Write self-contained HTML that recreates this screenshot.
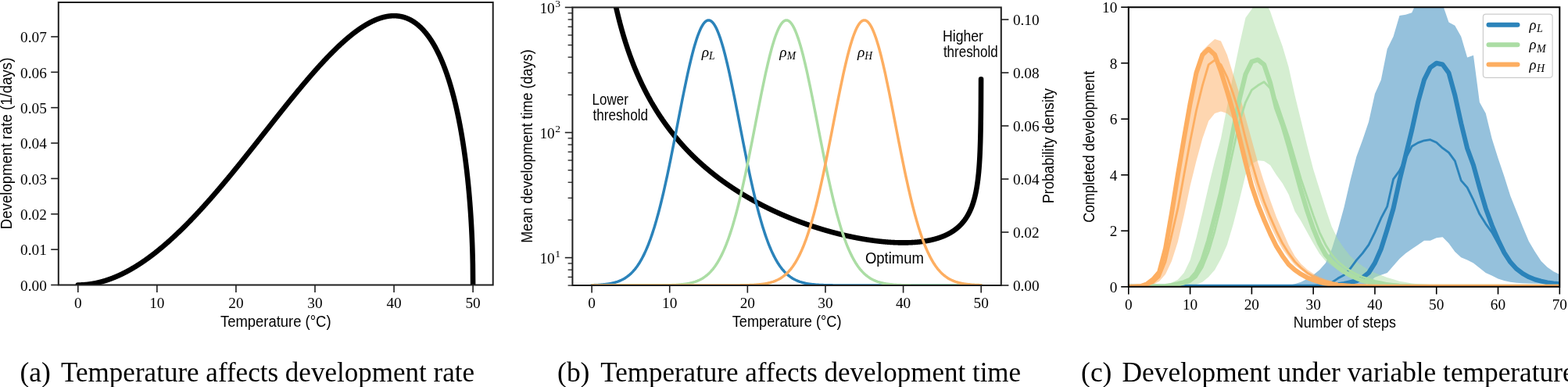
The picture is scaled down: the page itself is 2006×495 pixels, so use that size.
<!DOCTYPE html>
<html><head><meta charset="utf-8"><title>Figure</title>
<style>html,body{margin:0;padding:0;background:#fff;overflow:hidden}svg{display:block}</style></head>
<body><svg width="2006" height="495" viewBox="0 0 2006 495">
<rect width="2006" height="495" fill="#fff"/>
<clipPath id="ca"><rect x="74.80" y="3.00" width="555.90" height="361.50"/></clipPath>
<path clip-path="url(#ca)" d="M99.80,364.50 L100.05,364.50 L100.31,364.50 L100.56,364.50 L100.81,364.50 L101.06,364.49 L101.32,364.49 L101.57,364.49 L101.82,364.48 L102.07,364.48 L102.33,364.47 L102.58,364.46 L102.83,364.46 L103.08,364.45 L103.34,364.44 L103.59,364.43 L103.84,364.42 L104.10,364.41 L104.35,364.40 L104.60,364.39 L104.85,364.38 L105.11,364.37 L105.36,364.36 L105.61,364.34 L105.86,364.33 L106.12,364.31 L106.37,364.30 L106.62,364.28 L106.87,364.27 L107.13,364.25 L107.38,364.23 L107.63,364.21 L107.88,364.19 L108.14,364.18 L108.39,364.16 L108.64,364.13 L108.90,364.11 L109.15,364.09 L109.40,364.07 L109.65,364.05 L109.91,364.02 L110.16,364.00 L110.41,363.98 L110.66,363.95 L110.92,363.92 L111.17,363.90 L111.42,363.87 L111.67,363.84 L111.93,363.82 L112.18,363.79 L112.43,363.76 L112.69,363.73 L112.94,363.70 L113.19,363.67 L113.44,363.64 L113.70,363.60 L113.95,363.57 L114.20,363.54 L114.45,363.50 L114.71,363.47 L114.96,363.43 L115.21,363.40 L115.46,363.36 L115.72,363.33 L115.97,363.29 L116.22,363.25 L116.47,363.21 L116.73,363.17 L116.98,363.13 L117.23,363.09 L117.49,363.05 L117.74,363.01 L117.99,362.97 L118.24,362.93 L118.50,362.88 L118.75,362.84 L119.00,362.80 L119.25,362.75 L119.51,362.71 L119.76,362.66 L120.01,362.61 L120.26,362.57 L120.52,362.52 L120.77,362.47 L121.02,362.42 L121.28,362.37 L121.53,362.32 L121.78,362.27 L122.03,362.22 L122.29,362.17 L122.54,362.12 L122.79,362.07 L123.04,362.01 L123.30,361.96 L123.55,361.91 L123.80,361.85 L124.05,361.80 L124.31,361.74 L124.56,361.68 L124.81,361.63 L125.06,361.57 L125.32,361.51 L125.57,361.45 L125.82,361.39 L126.08,361.33 L126.33,361.27 L126.58,361.21 L126.83,361.15 L127.09,361.09 L127.34,361.03 L127.59,360.96 L127.84,360.90 L128.10,360.83 L128.35,360.77 L128.60,360.70 L128.85,360.64 L129.11,360.57 L129.36,360.51 L129.61,360.44 L129.87,360.37 L130.12,360.30 L130.37,360.23 L130.62,360.16 L130.88,360.09 L131.13,360.02 L131.38,359.95 L131.63,359.88 L131.89,359.81 L132.14,359.73 L132.39,359.66 L132.64,359.59 L132.90,359.51 L133.15,359.44 L133.40,359.36 L133.66,359.28 L133.91,359.21 L134.16,359.13 L134.41,359.05 L134.67,358.97 L134.92,358.90 L135.17,358.82 L135.42,358.74 L135.68,358.66 L135.93,358.57 L136.18,358.49 L136.43,358.41 L136.69,358.33 L136.94,358.25 L137.19,358.16 L137.44,358.08 L137.70,357.99 L137.95,357.91 L138.20,357.82 L138.46,357.74 L138.71,357.65 L138.96,357.56 L139.21,357.47 L139.47,357.38 L139.72,357.30 L139.97,357.21 L140.22,357.12 L140.48,357.03 L140.73,356.93 L140.98,356.84 L141.23,356.75 L141.49,356.66 L141.74,356.56 L141.99,356.47 L142.25,356.38 L142.50,356.28 L142.75,356.19 L143.00,356.09 L143.26,355.99 L143.51,355.90 L143.76,355.80 L144.01,355.70 L144.27,355.60 L144.52,355.51 L144.77,355.41 L145.02,355.31 L145.28,355.21 L145.53,355.10 L145.78,355.00 L146.03,354.90 L146.29,354.80 L146.54,354.70 L146.79,354.59 L147.05,354.49 L147.30,354.38 L147.55,354.28 L147.80,354.17 L148.06,354.07 L148.31,353.96 L148.56,353.85 L148.81,353.75 L149.07,353.64 L149.32,353.53 L149.57,353.42 L149.82,353.31 L150.08,353.20 L150.33,353.09 L150.58,352.98 L150.84,352.87 L151.09,352.75 L151.34,352.64 L151.59,352.53 L151.85,352.41 L152.10,352.30 L152.35,352.18 L152.60,352.07 L152.86,351.95 L153.11,351.84 L153.36,351.72 L153.61,351.60 L153.87,351.49 L154.12,351.37 L154.37,351.25 L154.63,351.13 L154.88,351.01 L155.13,350.89 L155.38,350.77 L155.64,350.65 L155.89,350.53 L156.14,350.40 L156.39,350.28 L156.65,350.16 L156.90,350.03 L157.15,349.91 L157.40,349.79 L157.66,349.66 L157.91,349.53 L158.16,349.41 L158.41,349.28 L158.67,349.15 L158.92,349.03 L159.17,348.90 L159.43,348.77 L159.68,348.64 L159.93,348.51 L160.18,348.38 L160.44,348.25 L160.69,348.12 L160.94,347.99 L161.19,347.86 L161.45,347.72 L161.70,347.59 L161.95,347.46 L162.20,347.32 L162.46,347.19 L162.71,347.05 L162.96,346.92 L163.22,346.78 L163.47,346.65 L163.72,346.51 L163.97,346.37 L164.23,346.23 L164.48,346.10 L164.73,345.96 L164.98,345.82 L165.24,345.68 L165.49,345.54 L165.74,345.40 L165.99,345.26 L166.25,345.12 L166.50,344.97 L166.75,344.83 L167.00,344.69 L167.26,344.54 L167.51,344.40 L167.76,344.26 L168.02,344.11 L168.27,343.97 L168.52,343.82 L168.77,343.67 L169.03,343.53 L169.28,343.38 L169.53,343.23 L169.78,343.08 L170.04,342.93 L170.29,342.79 L170.54,342.64 L170.79,342.49 L171.05,342.34 L171.30,342.18 L171.55,342.03 L171.81,341.88 L172.06,341.73 L172.31,341.58 L172.56,341.42 L172.82,341.27 L173.07,341.11 L173.32,340.96 L173.57,340.81 L173.83,340.65 L174.08,340.49 L174.33,340.34 L174.58,340.18 L174.84,340.02 L175.09,339.86 L175.34,339.71 L175.59,339.55 L175.85,339.39 L176.10,339.23 L176.35,339.07 L176.61,338.91 L176.86,338.75 L177.11,338.59 L177.36,338.42 L177.62,338.26 L177.87,338.10 L178.12,337.93 L178.37,337.77 L178.63,337.61 L178.88,337.44 L179.13,337.28 L179.38,337.11 L179.64,336.95 L179.89,336.78 L180.14,336.61 L180.40,336.44 L180.65,336.28 L180.90,336.11 L181.15,335.94 L181.41,335.77 L181.66,335.60 L181.91,335.43 L182.16,335.26 L182.42,335.09 L182.67,334.92 L182.92,334.75 L183.17,334.58 L183.43,334.40 L183.68,334.23 L183.93,334.06 L184.19,333.88 L184.44,333.71 L184.69,333.53 L184.94,333.36 L185.20,333.18 L185.45,333.01 L185.70,332.83 L185.95,332.65 L186.21,332.47 L186.46,332.30 L186.71,332.12 L186.96,331.94 L187.22,331.76 L187.47,331.58 L187.72,331.40 L187.97,331.22 L188.23,331.04 L188.48,330.86 L188.73,330.68 L188.99,330.50 L189.24,330.31 L189.49,330.13 L189.74,329.95 L190.00,329.76 L190.25,329.58 L190.50,329.39 L190.75,329.21 L191.01,329.02 L191.26,328.84 L191.51,328.65 L191.76,328.46 L192.02,328.28 L192.27,328.09 L192.52,327.90 L192.78,327.71 L193.03,327.52 L193.28,327.33 L193.53,327.14 L193.79,326.95 L194.04,326.76 L194.29,326.57 L194.54,326.38 L194.80,326.19 L195.05,326.00 L195.30,325.81 L195.55,325.61 L195.81,325.42 L196.06,325.22 L196.31,325.03 L196.56,324.84 L196.82,324.64 L197.07,324.45 L197.32,324.25 L197.58,324.05 L197.83,323.86 L198.08,323.66 L198.33,323.46 L198.59,323.26 L198.84,323.07 L199.09,322.87 L199.34,322.67 L199.60,322.47 L199.85,322.27 L200.10,322.07 L200.35,321.87 L200.61,321.67 L200.86,321.46 L201.11,321.26 L201.37,321.06 L201.62,320.86 L201.87,320.65 L202.12,320.45 L202.38,320.25 L202.63,320.04 L202.88,319.84 L203.13,319.63 L203.39,319.43 L203.64,319.22 L203.89,319.02 L204.14,318.81 L204.40,318.60 L204.65,318.39 L204.90,318.19 L205.16,317.98 L205.41,317.77 L205.66,317.56 L205.91,317.35 L206.17,317.14 L206.42,316.93 L206.67,316.72 L206.92,316.51 L207.18,316.30 L207.43,316.09 L207.68,315.87 L207.93,315.66 L208.19,315.45 L208.44,315.24 L208.69,315.02 L208.94,314.81 L209.20,314.59 L209.45,314.38 L209.70,314.16 L209.96,313.95 L210.21,313.73 L210.46,313.52 L210.71,313.30 L210.97,313.08 L211.22,312.86 L211.47,312.65 L211.72,312.43 L211.98,312.21 L212.23,311.99 L212.48,311.77 L212.73,311.55 L212.99,311.33 L213.24,311.11 L213.49,310.89 L213.75,310.67 L214.00,310.45 L214.25,310.23 L214.50,310.00 L214.76,309.78 L215.01,309.56 L215.26,309.34 L215.51,309.11 L215.77,308.89 L216.02,308.66 L216.27,308.44 L216.52,308.21 L216.78,307.99 L217.03,307.76 L217.28,307.54 L217.53,307.31 L217.79,307.08 L218.04,306.85 L218.29,306.63 L218.55,306.40 L218.80,306.17 L219.05,305.94 L219.30,305.71 L219.56,305.48 L219.81,305.25 L220.06,305.02 L220.31,304.79 L220.57,304.56 L220.82,304.33 L221.07,304.10 L221.32,303.87 L221.58,303.63 L221.83,303.40 L222.08,303.17 L222.34,302.93 L222.59,302.70 L222.84,302.47 L223.09,302.23 L223.35,302.00 L223.60,301.76 L223.85,301.53 L224.10,301.29 L224.36,301.06 L224.61,300.82 L224.86,300.58 L225.11,300.34 L225.37,300.11 L225.62,299.87 L225.87,299.63 L226.12,299.39 L226.38,299.15 L226.63,298.91 L226.88,298.67 L227.14,298.43 L227.39,298.19 L227.64,297.95 L227.89,297.71 L228.15,297.47 L228.40,297.23 L228.65,296.99 L228.90,296.75 L229.16,296.50 L229.41,296.26 L229.66,296.02 L229.91,295.77 L230.17,295.53 L230.42,295.29 L230.67,295.04 L230.93,294.80 L231.18,294.55 L231.43,294.31 L231.68,294.06 L231.94,293.81 L232.19,293.57 L232.44,293.32 L232.69,293.07 L232.95,292.82 L233.20,292.58 L233.45,292.33 L233.70,292.08 L233.96,291.83 L234.21,291.58 L234.46,291.33 L234.72,291.08 L234.97,290.83 L235.22,290.58 L235.47,290.33 L235.73,290.08 L235.98,289.83 L236.23,289.58 L236.48,289.33 L236.74,289.07 L236.99,288.82 L237.24,288.57 L237.49,288.31 L237.75,288.06 L238.00,287.81 L238.25,287.55 L238.50,287.30 L238.76,287.04 L239.01,286.79 L239.26,286.53 L239.52,286.28 L239.77,286.02 L240.02,285.77 L240.27,285.51 L240.53,285.25 L240.78,284.99 L241.03,284.74 L241.28,284.48 L241.54,284.22 L241.79,283.96 L242.04,283.70 L242.29,283.44 L242.55,283.19 L242.80,282.93 L243.05,282.67 L243.31,282.41 L243.56,282.14 L243.81,281.88 L244.06,281.62 L244.32,281.36 L244.57,281.10 L244.82,280.84 L245.07,280.58 L245.33,280.31 L245.58,280.05 L245.83,279.79 L246.08,279.52 L246.34,279.26 L246.59,279.00 L246.84,278.73 L247.09,278.47 L247.35,278.20 L247.60,277.94 L247.85,277.67 L248.11,277.41 L248.36,277.14 L248.61,276.87 L248.86,276.61 L249.12,276.34 L249.37,276.07 L249.62,275.80 L249.87,275.54 L250.13,275.27 L250.38,275.00 L250.63,274.73 L250.88,274.46 L251.14,274.19 L251.39,273.92 L251.64,273.65 L251.90,273.38 L252.15,273.11 L252.40,272.84 L252.65,272.57 L252.91,272.30 L253.16,272.03 L253.41,271.76 L253.66,271.49 L253.92,271.21 L254.17,270.94 L254.42,270.67 L254.67,270.40 L254.93,270.12 L255.18,269.85 L255.43,269.58 L255.69,269.30 L255.94,269.03 L256.19,268.75 L256.44,268.48 L256.70,268.20 L256.95,267.93 L257.20,267.65 L257.45,267.38 L257.71,267.10 L257.96,266.82 L258.21,266.55 L258.46,266.27 L258.72,265.99 L258.97,265.72 L259.22,265.44 L259.47,265.16 L259.73,264.88 L259.98,264.60 L260.23,264.32 L260.49,264.05 L260.74,263.77 L260.99,263.49 L261.24,263.21 L261.50,262.93 L261.75,262.65 L262.00,262.37 L262.25,262.09 L262.51,261.81 L262.76,261.52 L263.01,261.24 L263.26,260.96 L263.52,260.68 L263.77,260.40 L264.02,260.11 L264.28,259.83 L264.53,259.55 L264.78,259.27 L265.03,258.98 L265.29,258.70 L265.54,258.42 L265.79,258.13 L266.04,257.85 L266.30,257.56 L266.55,257.28 L266.80,256.99 L267.05,256.71 L267.31,256.42 L267.56,256.14 L267.81,255.85 L268.06,255.56 L268.32,255.28 L268.57,254.99 L268.82,254.70 L269.08,254.42 L269.33,254.13 L269.58,253.84 L269.83,253.55 L270.09,253.27 L270.34,252.98 L270.59,252.69 L270.84,252.40 L271.10,252.11 L271.35,251.82 L271.60,251.53 L271.85,251.24 L272.11,250.95 L272.36,250.66 L272.61,250.37 L272.87,250.08 L273.12,249.79 L273.37,249.50 L273.62,249.21 L273.88,248.92 L274.13,248.63 L274.38,248.34 L274.63,248.04 L274.89,247.75 L275.14,247.46 L275.39,247.17 L275.64,246.87 L275.90,246.58 L276.15,246.29 L276.40,245.99 L276.65,245.70 L276.91,245.41 L277.16,245.11 L277.41,244.82 L277.67,244.52 L277.92,244.23 L278.17,243.93 L278.42,243.64 L278.68,243.34 L278.93,243.05 L279.18,242.75 L279.43,242.46 L279.69,242.16 L279.94,241.87 L280.19,241.57 L280.44,241.27 L280.70,240.98 L280.95,240.68 L281.20,240.38 L281.46,240.08 L281.71,239.79 L281.96,239.49 L282.21,239.19 L282.47,238.89 L282.72,238.59 L282.97,238.29 L283.22,238.00 L283.48,237.70 L283.73,237.40 L283.98,237.10 L284.23,236.80 L284.49,236.50 L284.74,236.20 L284.99,235.90 L285.25,235.60 L285.50,235.30 L285.75,235.00 L286.00,234.70 L286.26,234.40 L286.51,234.10 L286.76,233.79 L287.01,233.49 L287.27,233.19 L287.52,232.89 L287.77,232.59 L288.02,232.29 L288.28,231.98 L288.53,231.68 L288.78,231.38 L289.03,231.07 L289.29,230.77 L289.54,230.47 L289.79,230.17 L290.05,229.86 L290.30,229.56 L290.55,229.25 L290.80,228.95 L291.06,228.65 L291.31,228.34 L291.56,228.04 L291.81,227.73 L292.07,227.43 L292.32,227.12 L292.57,226.82 L292.82,226.51 L293.08,226.21 L293.33,225.90 L293.58,225.59 L293.84,225.29 L294.09,224.98 L294.34,224.68 L294.59,224.37 L294.85,224.06 L295.10,223.76 L295.35,223.45 L295.60,223.14 L295.86,222.84 L296.11,222.53 L296.36,222.22 L296.61,221.91 L296.87,221.61 L297.12,221.30 L297.37,220.99 L297.62,220.68 L297.88,220.37 L298.13,220.06 L298.38,219.76 L298.64,219.45 L298.89,219.14 L299.14,218.83 L299.39,218.52 L299.65,218.21 L299.90,217.90 L300.15,217.59 L300.40,217.28 L300.66,216.97 L300.91,216.66 L301.16,216.35 L301.41,216.04 L301.67,215.73 L301.92,215.42 L302.17,215.11 L302.43,214.80 L302.68,214.49 L302.93,214.18 L303.18,213.87 L303.44,213.56 L303.69,213.24 L303.94,212.93 L304.19,212.62 L304.45,212.31 L304.70,212.00 L304.95,211.68 L305.20,211.37 L305.46,211.06 L305.71,210.75 L305.96,210.44 L306.22,210.12 L306.47,209.81 L306.72,209.50 L306.97,209.18 L307.23,208.87 L307.48,208.56 L307.73,208.25 L307.98,207.93 L308.24,207.62 L308.49,207.30 L308.74,206.99 L308.99,206.68 L309.25,206.36 L309.50,206.05 L309.75,205.73 L310.00,205.42 L310.26,205.11 L310.51,204.79 L310.76,204.48 L311.02,204.16 L311.27,203.85 L311.52,203.53 L311.77,203.22 L312.03,202.90 L312.28,202.59 L312.53,202.27 L312.78,201.96 L313.04,201.64 L313.29,201.33 L313.54,201.01 L313.79,200.69 L314.05,200.38 L314.30,200.06 L314.55,199.75 L314.81,199.43 L315.06,199.12 L315.31,198.80 L315.56,198.48 L315.82,198.17 L316.07,197.85 L316.32,197.53 L316.57,197.22 L316.83,196.90 L317.08,196.58 L317.33,196.27 L317.58,195.95 L317.84,195.63 L318.09,195.31 L318.34,195.00 L318.59,194.68 L318.85,194.36 L319.10,194.05 L319.35,193.73 L319.61,193.41 L319.86,193.09 L320.11,192.78 L320.36,192.46 L320.62,192.14 L320.87,191.82 L321.12,191.50 L321.37,191.19 L321.63,190.87 L321.88,190.55 L322.13,190.23 L322.38,189.91 L322.64,189.59 L322.89,189.28 L323.14,188.96 L323.40,188.64 L323.65,188.32 L323.90,188.00 L324.15,187.68 L324.41,187.36 L324.66,187.05 L324.91,186.73 L325.16,186.41 L325.42,186.09 L325.67,185.77 L325.92,185.45 L326.17,185.13 L326.43,184.81 L326.68,184.49 L326.93,184.17 L327.19,183.85 L327.44,183.54 L327.69,183.22 L327.94,182.90 L328.20,182.58 L328.45,182.26 L328.70,181.94 L328.95,181.62 L329.21,181.30 L329.46,180.98 L329.71,180.66 L329.96,180.34 L330.22,180.02 L330.47,179.70 L330.72,179.38 L330.97,179.06 L331.23,178.74 L331.48,178.42 L331.73,178.10 L331.99,177.78 L332.24,177.46 L332.49,177.14 L332.74,176.82 L333.00,176.50 L333.25,176.18 L333.50,175.86 L333.75,175.54 L334.01,175.22 L334.26,174.90 L334.51,174.58 L334.76,174.26 L335.02,173.94 L335.27,173.62 L335.52,173.30 L335.78,172.98 L336.03,172.66 L336.28,172.34 L336.53,172.02 L336.79,171.70 L337.04,171.38 L337.29,171.06 L337.54,170.74 L337.80,170.42 L338.05,170.10 L338.30,169.78 L338.55,169.45 L338.81,169.13 L339.06,168.81 L339.31,168.49 L339.56,168.17 L339.82,167.85 L340.07,167.53 L340.32,167.21 L340.58,166.89 L340.83,166.57 L341.08,166.25 L341.33,165.93 L341.59,165.61 L341.84,165.29 L342.09,164.97 L342.34,164.65 L342.60,164.33 L342.85,164.01 L343.10,163.69 L343.35,163.37 L343.61,163.05 L343.86,162.73 L344.11,162.41 L344.37,162.09 L344.62,161.77 L344.87,161.45 L345.12,161.13 L345.38,160.81 L345.63,160.49 L345.88,160.17 L346.13,159.85 L346.39,159.53 L346.64,159.21 L346.89,158.89 L347.14,158.57 L347.40,158.25 L347.65,157.93 L347.90,157.61 L348.15,157.29 L348.41,156.97 L348.66,156.65 L348.91,156.33 L349.17,156.01 L349.42,155.69 L349.67,155.37 L349.92,155.05 L350.18,154.73 L350.43,154.41 L350.68,154.09 L350.93,153.77 L351.19,153.46 L351.44,153.14 L351.69,152.82 L351.94,152.50 L352.20,152.18 L352.45,151.86 L352.70,151.54 L352.96,151.22 L353.21,150.90 L353.46,150.58 L353.71,150.27 L353.97,149.95 L354.22,149.63 L354.47,149.31 L354.72,148.99 L354.98,148.67 L355.23,148.35 L355.48,148.04 L355.73,147.72 L355.99,147.40 L356.24,147.08 L356.49,146.76 L356.75,146.45 L357.00,146.13 L357.25,145.81 L357.50,145.49 L357.76,145.17 L358.01,144.86 L358.26,144.54 L358.51,144.22 L358.77,143.90 L359.02,143.59 L359.27,143.27 L359.52,142.95 L359.78,142.64 L360.03,142.32 L360.28,142.00 L360.53,141.69 L360.79,141.37 L361.04,141.05 L361.29,140.74 L361.55,140.42 L361.80,140.10 L362.05,139.79 L362.30,139.47 L362.56,139.15 L362.81,138.84 L363.06,138.52 L363.31,138.21 L363.57,137.89 L363.82,137.58 L364.07,137.26 L364.32,136.95 L364.58,136.63 L364.83,136.32 L365.08,136.00 L365.34,135.69 L365.59,135.37 L365.84,135.06 L366.09,134.74 L366.35,134.43 L366.60,134.11 L366.85,133.80 L367.10,133.48 L367.36,133.17 L367.61,132.86 L367.86,132.54 L368.11,132.23 L368.37,131.91 L368.62,131.60 L368.87,131.29 L369.12,130.97 L369.38,130.66 L369.63,130.35 L369.88,130.04 L370.14,129.72 L370.39,129.41 L370.64,129.10 L370.89,128.79 L371.15,128.47 L371.40,128.16 L371.65,127.85 L371.90,127.54 L372.16,127.23 L372.41,126.92 L372.66,126.60 L372.91,126.29 L373.17,125.98 L373.42,125.67 L373.67,125.36 L373.93,125.05 L374.18,124.74 L374.43,124.43 L374.68,124.12 L374.94,123.81 L375.19,123.50 L375.44,123.19 L375.69,122.88 L375.95,122.57 L376.20,122.26 L376.45,121.95 L376.70,121.64 L376.96,121.33 L377.21,121.03 L377.46,120.72 L377.72,120.41 L377.97,120.10 L378.22,119.79 L378.47,119.48 L378.73,119.18 L378.98,118.87 L379.23,118.56 L379.48,118.26 L379.74,117.95 L379.99,117.64 L380.24,117.34 L380.49,117.03 L380.75,116.72 L381.00,116.42 L381.25,116.11 L381.50,115.80 L381.76,115.50 L382.01,115.19 L382.26,114.89 L382.52,114.58 L382.77,114.28 L383.02,113.97 L383.27,113.67 L383.53,113.37 L383.78,113.06 L384.03,112.76 L384.28,112.45 L384.54,112.15 L384.79,111.85 L385.04,111.55 L385.29,111.24 L385.55,110.94 L385.80,110.64 L386.05,110.34 L386.31,110.03 L386.56,109.73 L386.81,109.43 L387.06,109.13 L387.32,108.83 L387.57,108.53 L387.82,108.23 L388.07,107.93 L388.33,107.63 L388.58,107.33 L388.83,107.03 L389.08,106.73 L389.34,106.43 L389.59,106.13 L389.84,105.83 L390.09,105.53 L390.35,105.23 L390.60,104.93 L390.85,104.63 L391.11,104.34 L391.36,104.04 L391.61,103.74 L391.86,103.44 L392.12,103.15 L392.37,102.85 L392.62,102.55 L392.87,102.26 L393.13,101.96 L393.38,101.67 L393.63,101.37 L393.88,101.08 L394.14,100.78 L394.39,100.49 L394.64,100.19 L394.90,99.90 L395.15,99.60 L395.40,99.31 L395.65,99.02 L395.91,98.72 L396.16,98.43 L396.41,98.14 L396.66,97.85 L396.92,97.55 L397.17,97.26 L397.42,96.97 L397.67,96.68 L397.93,96.39 L398.18,96.10 L398.43,95.81 L398.68,95.52 L398.94,95.23 L399.19,94.94 L399.44,94.65 L399.70,94.36 L399.95,94.07 L400.20,93.78 L400.45,93.49 L400.71,93.20 L400.96,92.92 L401.21,92.63 L401.46,92.34 L401.72,92.05 L401.97,91.77 L402.22,91.48 L402.47,91.20 L402.73,90.91 L402.98,90.62 L403.23,90.34 L403.49,90.05 L403.74,89.77 L403.99,89.49 L404.24,89.20 L404.50,88.92 L404.75,88.63 L405.00,88.35 L405.25,88.07 L405.51,87.79 L405.76,87.50 L406.01,87.22 L406.26,86.94 L406.52,86.66 L406.77,86.38 L407.02,86.10 L407.28,85.82 L407.53,85.54 L407.78,85.26 L408.03,84.98 L408.29,84.70 L408.54,84.42 L408.79,84.14 L409.04,83.87 L409.30,83.59 L409.55,83.31 L409.80,83.03 L410.05,82.76 L410.31,82.48 L410.56,82.21 L410.81,81.93 L411.06,81.66 L411.32,81.38 L411.57,81.11 L411.82,80.83 L412.08,80.56 L412.33,80.28 L412.58,80.01 L412.83,79.74 L413.09,79.47 L413.34,79.19 L413.59,78.92 L413.84,78.65 L414.10,78.38 L414.35,78.11 L414.60,77.84 L414.85,77.57 L415.11,77.30 L415.36,77.03 L415.61,76.76 L415.87,76.49 L416.12,76.23 L416.37,75.96 L416.62,75.69 L416.88,75.42 L417.13,75.16 L417.38,74.89 L417.63,74.63 L417.89,74.36 L418.14,74.10 L418.39,73.83 L418.64,73.57 L418.90,73.30 L419.15,73.04 L419.40,72.78 L419.65,72.51 L419.91,72.25 L420.16,71.99 L420.41,71.73 L420.67,71.47 L420.92,71.21 L421.17,70.95 L421.42,70.69 L421.68,70.43 L421.93,70.17 L422.18,69.91 L422.43,69.65 L422.69,69.40 L422.94,69.14 L423.19,68.88 L423.44,68.62 L423.70,68.37 L423.95,68.11 L424.20,67.86 L424.46,67.60 L424.71,67.35 L424.96,67.10 L425.21,66.84 L425.47,66.59 L425.72,66.34 L425.97,66.08 L426.22,65.83 L426.48,65.58 L426.73,65.33 L426.98,65.08 L427.23,64.83 L427.49,64.58 L427.74,64.33 L427.99,64.08 L428.25,63.84 L428.50,63.59 L428.75,63.34 L429.00,63.09 L429.26,62.85 L429.51,62.60 L429.76,62.36 L430.01,62.11 L430.27,61.87 L430.52,61.62 L430.77,61.38 L431.02,61.14 L431.28,60.90 L431.53,60.65 L431.78,60.41 L432.03,60.17 L432.29,59.93 L432.54,59.69 L432.79,59.45 L433.05,59.21 L433.30,58.97 L433.55,58.74 L433.80,58.50 L434.06,58.26 L434.31,58.02 L434.56,57.79 L434.81,57.55 L435.07,57.32 L435.32,57.08 L435.57,56.85 L435.82,56.62 L436.08,56.38 L436.33,56.15 L436.58,55.92 L436.84,55.69 L437.09,55.46 L437.34,55.23 L437.59,55.00 L437.85,54.77 L438.10,54.54 L438.35,54.31 L438.60,54.08 L438.86,53.86 L439.11,53.63 L439.36,53.40 L439.61,53.18 L439.87,52.95 L440.12,52.73 L440.37,52.50 L440.62,52.28 L440.88,52.06 L441.13,51.84 L441.38,51.61 L441.64,51.39 L441.89,51.17 L442.14,50.95 L442.39,50.73 L442.65,50.51 L442.90,50.30 L443.15,50.08 L443.40,49.86 L443.66,49.64 L443.91,49.43 L444.16,49.21 L444.41,49.00 L444.67,48.78 L444.92,48.57 L445.17,48.36 L445.43,48.14 L445.68,47.93 L445.93,47.72 L446.18,47.51 L446.44,47.30 L446.69,47.09 L446.94,46.88 L447.19,46.67 L447.45,46.46 L447.70,46.26 L447.95,46.05 L448.20,45.85 L448.46,45.64 L448.71,45.44 L448.96,45.23 L449.21,45.03 L449.47,44.83 L449.72,44.62 L449.97,44.42 L450.23,44.22 L450.48,44.02 L450.73,43.82 L450.98,43.62 L451.24,43.42 L451.49,43.23 L451.74,43.03 L451.99,42.83 L452.25,42.64 L452.50,42.44 L452.75,42.25 L453.00,42.05 L453.26,41.86 L453.51,41.67 L453.76,41.48 L454.02,41.28 L454.27,41.09 L454.52,40.90 L454.77,40.71 L455.03,40.53 L455.28,40.34 L455.53,40.15 L455.78,39.97 L456.04,39.78 L456.29,39.59 L456.54,39.41 L456.79,39.23 L457.05,39.04 L457.30,38.86 L457.55,38.68 L457.81,38.50 L458.06,38.32 L458.31,38.14 L458.56,37.96 L458.82,37.78 L459.07,37.60 L459.32,37.43 L459.57,37.25 L459.83,37.08 L460.08,36.90 L460.33,36.73 L460.58,36.56 L460.84,36.38 L461.09,36.21 L461.34,36.04 L461.59,35.87 L461.85,35.70 L462.10,35.53 L462.35,35.37 L462.61,35.20 L462.86,35.03 L463.11,34.87 L463.36,34.70 L463.62,34.54 L463.87,34.37 L464.12,34.21 L464.37,34.05 L464.63,33.89 L464.88,33.73 L465.13,33.57 L465.38,33.41 L465.64,33.25 L465.89,33.10 L466.14,32.94 L466.40,32.78 L466.65,32.63 L466.90,32.48 L467.15,32.32 L467.41,32.17 L467.66,32.02 L467.91,31.87 L468.16,31.72 L468.42,31.57 L468.67,31.42 L468.92,31.27 L469.17,31.13 L469.43,30.98 L469.68,30.84 L469.93,30.69 L470.18,30.55 L470.44,30.41 L470.69,30.26 L470.94,30.12 L471.20,29.98 L471.45,29.84 L471.70,29.71 L471.95,29.57 L472.21,29.43 L472.46,29.30 L472.71,29.16 L472.96,29.03 L473.22,28.89 L473.47,28.76 L473.72,28.63 L473.97,28.50 L474.23,28.37 L474.48,28.24 L474.73,28.11 L474.99,27.99 L475.24,27.86 L475.49,27.74 L475.74,27.61 L476.00,27.49 L476.25,27.37 L476.50,27.24 L476.75,27.12 L477.01,27.00 L477.26,26.88 L477.51,26.77 L477.76,26.65 L478.02,26.53 L478.27,26.42 L478.52,26.30 L478.78,26.19 L479.03,26.08 L479.28,25.97 L479.53,25.86 L479.79,25.75 L480.04,25.64 L480.29,25.53 L480.54,25.43 L480.80,25.32 L481.05,25.21 L481.30,25.11 L481.55,25.01 L481.81,24.91 L482.06,24.81 L482.31,24.71 L482.56,24.61 L482.82,24.51 L483.07,24.41 L483.32,24.32 L483.58,24.22 L483.83,24.13 L484.08,24.04 L484.33,23.94 L484.59,23.85 L484.84,23.76 L485.09,23.67 L485.34,23.59 L485.60,23.50 L485.85,23.41 L486.10,23.33 L486.35,23.25 L486.61,23.16 L486.86,23.08 L487.11,23.00 L487.37,22.92 L487.62,22.84 L487.87,22.77 L488.12,22.69 L488.38,22.62 L488.63,22.54 L488.88,22.47 L489.13,22.40 L489.39,22.33 L489.64,22.26 L489.89,22.19 L490.14,22.12 L490.40,22.05 L490.65,21.99 L490.90,21.92 L491.15,21.86 L491.41,21.80 L491.66,21.74 L491.91,21.68 L492.17,21.62 L492.42,21.56 L492.67,21.51 L492.92,21.45 L493.18,21.40 L493.43,21.34 L493.68,21.29 L493.93,21.24 L494.19,21.19 L494.44,21.14 L494.69,21.10 L494.94,21.05 L495.20,21.01 L495.45,20.96 L495.70,20.92 L495.96,20.88 L496.21,20.84 L496.46,20.80 L496.71,20.76 L496.97,20.73 L497.22,20.69 L497.47,20.66 L497.72,20.62 L497.98,20.59 L498.23,20.56 L498.48,20.53 L498.73,20.51 L498.99,20.48 L499.24,20.45 L499.49,20.43 L499.74,20.41 L500.00,20.39 L500.25,20.37 L500.50,20.35 L500.76,20.33 L501.01,20.31 L501.26,20.30 L501.51,20.28 L501.77,20.27 L502.02,20.26 L502.27,20.25 L502.52,20.24 L502.78,20.23 L503.03,20.23 L503.28,20.22 L503.53,20.22 L503.79,20.22 L504.04,20.22 L504.29,20.22 L504.55,20.22 L504.80,20.22 L505.05,20.23 L505.30,20.23 L505.56,20.24 L505.81,20.25 L506.06,20.26 L506.31,20.27 L506.57,20.28 L506.82,20.30 L507.07,20.32 L507.32,20.33 L507.58,20.35 L507.83,20.37 L508.08,20.39 L508.34,20.42 L508.59,20.44 L508.84,20.47 L509.09,20.49 L509.35,20.52 L509.60,20.55 L509.85,20.58 L510.10,20.62 L510.36,20.65 L510.61,20.69 L510.86,20.72 L511.11,20.76 L511.37,20.80 L511.62,20.85 L511.87,20.89 L512.12,20.93 L512.38,20.98 L512.63,21.03 L512.88,21.08 L513.14,21.13 L513.39,21.18 L513.64,21.24 L513.89,21.29 L514.15,21.35 L514.40,21.41 L514.65,21.47 L514.90,21.53 L515.16,21.59 L515.41,21.66 L515.66,21.73 L515.91,21.80 L516.17,21.87 L516.42,21.94 L516.67,22.01 L516.93,22.09 L517.18,22.16 L517.43,22.24 L517.68,22.32 L517.94,22.40 L518.19,22.48 L518.44,22.57 L518.69,22.66 L518.95,22.74 L519.20,22.83 L519.45,22.93 L519.70,23.02 L519.96,23.11 L520.21,23.21 L520.46,23.31 L520.71,23.41 L520.97,23.51 L521.22,23.62 L521.47,23.72 L521.73,23.83 L521.98,23.94 L522.23,24.05 L522.48,24.16 L522.74,24.28 L522.99,24.39 L523.24,24.51 L523.49,24.63 L523.75,24.75 L524.00,24.87 L524.25,25.00 L524.50,25.13 L524.76,25.26 L525.01,25.39 L525.26,25.52 L525.52,25.66 L525.77,25.79 L526.02,25.93 L526.27,26.07 L526.53,26.21 L526.78,26.36 L527.03,26.50 L527.28,26.65 L527.54,26.80 L527.79,26.95 L528.04,27.11 L528.29,27.26 L528.55,27.42 L528.80,27.58 L529.05,27.74 L529.30,27.91 L529.56,28.07 L529.81,28.24 L530.06,28.41 L530.32,28.58 L530.57,28.76 L530.82,28.93 L531.07,29.11 L531.33,29.29 L531.58,29.48 L531.83,29.66 L532.08,29.85 L532.34,30.04 L532.59,30.23 L532.84,30.42 L533.09,30.62 L533.35,30.81 L533.60,31.01 L533.85,31.21 L534.11,31.42 L534.36,31.62 L534.61,31.83 L534.86,32.04 L535.12,32.26 L535.37,32.47 L535.62,32.69 L535.87,32.91 L536.13,33.13 L536.38,33.36 L536.63,33.58 L536.88,33.81 L537.14,34.04 L537.39,34.28 L537.64,34.51 L537.90,34.75 L538.15,34.99 L538.40,35.23 L538.65,35.48 L538.91,35.73 L539.16,35.98 L539.41,36.23 L539.66,36.49 L539.92,36.74 L540.17,37.00 L540.42,37.27 L540.67,37.53 L540.93,37.80 L541.18,38.07 L541.43,38.34 L541.68,38.62 L541.94,38.89 L542.19,39.17 L542.44,39.46 L542.70,39.74 L542.95,40.03 L543.20,40.32 L543.45,40.62 L543.71,40.91 L543.96,41.21 L544.21,41.51 L544.46,41.82 L544.72,42.12 L544.97,42.43 L545.22,42.75 L545.47,43.06 L545.73,43.38 L545.98,43.70 L546.23,44.02 L546.49,44.35 L546.74,44.68 L546.99,45.01 L547.24,45.35 L547.50,45.68 L547.75,46.02 L548.00,46.37 L548.25,46.71 L548.51,47.06 L548.76,47.42 L549.01,47.77 L549.26,48.13 L549.52,48.49 L549.77,48.86 L550.02,49.23 L550.27,49.60 L550.53,49.97 L550.78,50.35 L551.03,50.73 L551.29,51.11 L551.54,51.50 L551.79,51.89 L552.04,52.28 L552.30,52.68 L552.55,53.08 L552.80,53.48 L553.05,53.88 L553.31,54.29 L553.56,54.71 L553.81,55.12 L554.06,55.54 L554.32,55.96 L554.57,56.39 L554.82,56.82 L555.08,57.25 L555.33,57.69 L555.58,58.13 L555.83,58.57 L556.09,59.02 L556.34,59.47 L556.59,59.93 L556.84,60.38 L557.10,60.85 L557.35,61.31 L557.60,61.78 L557.85,62.25 L558.11,62.73 L558.36,63.21 L558.61,63.69 L558.87,64.18 L559.12,64.67 L559.37,65.17 L559.62,65.67 L559.88,66.17 L560.13,66.68 L560.38,67.19 L560.63,67.71 L560.89,68.23 L561.14,68.75 L561.39,69.28 L561.64,69.81 L561.90,70.35 L562.15,70.89 L562.40,71.43 L562.65,71.98 L562.91,72.54 L563.16,73.09 L563.41,73.66 L563.67,74.22 L563.92,74.79 L564.17,75.37 L564.42,75.95 L564.68,76.53 L564.93,77.12 L565.18,77.72 L565.43,78.32 L565.69,78.92 L565.94,79.53 L566.19,80.14 L566.44,80.76 L566.70,81.38 L566.95,82.01 L567.20,82.64 L567.46,83.28 L567.71,83.92 L567.96,84.57 L568.21,85.22 L568.47,85.88 L568.72,86.54 L568.97,87.21 L569.22,87.88 L569.48,88.56 L569.73,89.24 L569.98,89.93 L570.23,90.63 L570.49,91.33 L570.74,92.04 L570.99,92.75 L571.24,93.47 L571.50,94.19 L571.75,94.92 L572.00,95.66 L572.26,96.40 L572.51,97.15 L572.76,97.90 L573.01,98.66 L573.27,99.42 L573.52,100.20 L573.77,100.97 L574.02,101.76 L574.28,102.55 L574.53,103.35 L574.78,104.15 L575.03,104.96 L575.29,105.78 L575.54,106.61 L575.79,107.44 L576.05,108.28 L576.30,109.12 L576.55,109.98 L576.80,110.84 L577.06,111.70 L577.31,112.58 L577.56,113.46 L577.81,114.35 L578.07,115.25 L578.32,116.15 L578.57,117.07 L578.82,117.99 L579.08,118.92 L579.33,119.85 L579.58,120.80 L579.83,121.75 L580.09,122.72 L580.34,123.69 L580.59,124.67 L580.85,125.66 L581.10,126.65 L581.35,127.66 L581.60,128.68 L581.86,129.70 L582.11,130.74 L582.36,131.78 L582.61,132.83 L582.87,133.90 L583.12,134.97 L583.37,136.06 L583.62,137.15 L583.88,138.26 L584.13,139.37 L584.38,140.50 L584.64,141.64 L584.89,142.79 L585.14,143.95 L585.39,145.12 L585.65,146.30 L585.90,147.50 L586.15,148.71 L586.40,149.93 L586.66,151.16 L586.91,152.41 L587.16,153.67 L587.41,154.94 L587.67,156.23 L587.92,157.53 L588.17,158.84 L588.43,160.17 L588.68,161.51 L588.93,162.87 L589.18,164.25 L589.44,165.64 L589.69,167.05 L589.94,168.47 L590.19,169.91 L590.45,171.37 L590.70,172.84 L590.95,174.33 L591.20,175.85 L591.46,177.38 L591.71,178.93 L591.96,180.50 L592.21,182.09 L592.47,183.70 L592.72,185.33 L592.97,186.99 L593.23,188.67 L593.48,190.37 L593.73,192.10 L593.98,193.85 L594.24,195.63 L594.49,197.43 L594.74,199.26 L594.99,201.12 L595.25,203.01 L595.50,204.94 L595.75,206.89 L596.00,208.87 L596.26,210.90 L596.51,212.95 L596.76,215.04 L597.02,217.18 L597.27,219.35 L597.52,221.56 L597.77,223.82 L598.03,226.13 L598.28,228.49 L598.53,230.89 L598.78,233.36 L599.04,235.88 L599.29,238.46 L599.54,241.10 L599.79,243.82 L600.05,246.61 L600.30,249.48 L600.55,252.43 L600.80,255.48 L601.06,258.63 L601.31,261.88 L601.56,265.26 L601.82,268.78 L602.07,272.44 L602.32,276.27 L602.57,280.29 L602.83,284.53 L603.08,289.03 L603.33,293.83 L603.58,299.01 L603.84,304.66 L604.09,310.92 L604.34,318.05 L604.59,326.54 L604.85,337.63 L605.10,364.50" fill="none" stroke="#000" stroke-width="6.6" stroke-linejoin="round" stroke-linecap="round"/>
<rect x="74.80" y="3.00" width="555.90" height="361.50" fill="none" stroke="#1f1f1f" stroke-width="2.0"/>
<line x1="99.80" y1="364.50" x2="99.80" y2="374.10" stroke="#1f1f1f" stroke-width="1.6"/>
<text x="99.80" y="394.00" font-family="'Liberation Serif', 'DejaVu Serif', serif" font-size="19.3" text-anchor="middle" fill="#000" >0</text>
<line x1="200.86" y1="364.50" x2="200.86" y2="374.10" stroke="#1f1f1f" stroke-width="1.6"/>
<text x="200.86" y="394.00" font-family="'Liberation Serif', 'DejaVu Serif', serif" font-size="19.3" text-anchor="middle" fill="#000" >10</text>
<line x1="301.92" y1="364.50" x2="301.92" y2="374.10" stroke="#1f1f1f" stroke-width="1.6"/>
<text x="301.92" y="394.00" font-family="'Liberation Serif', 'DejaVu Serif', serif" font-size="19.3" text-anchor="middle" fill="#000" >20</text>
<line x1="402.98" y1="364.50" x2="402.98" y2="374.10" stroke="#1f1f1f" stroke-width="1.6"/>
<text x="402.98" y="394.00" font-family="'Liberation Serif', 'DejaVu Serif', serif" font-size="19.3" text-anchor="middle" fill="#000" >30</text>
<line x1="504.04" y1="364.50" x2="504.04" y2="374.10" stroke="#1f1f1f" stroke-width="1.6"/>
<text x="504.04" y="394.00" font-family="'Liberation Serif', 'DejaVu Serif', serif" font-size="19.3" text-anchor="middle" fill="#000" >40</text>
<line x1="605.10" y1="364.50" x2="605.10" y2="374.10" stroke="#1f1f1f" stroke-width="1.6"/>
<text x="605.10" y="394.00" font-family="'Liberation Serif', 'DejaVu Serif', serif" font-size="19.3" text-anchor="middle" fill="#000" >50</text>
<line x1="65.20" y1="364.50" x2="74.80" y2="364.50" stroke="#1f1f1f" stroke-width="1.6"/>
<text x="59.80" y="371.80" font-family="'Liberation Serif', 'DejaVu Serif', serif" font-size="19.3" text-anchor="end" fill="#000" >0.00</text>
<line x1="65.20" y1="319.14" x2="74.80" y2="319.14" stroke="#1f1f1f" stroke-width="1.6"/>
<text x="59.80" y="326.44" font-family="'Liberation Serif', 'DejaVu Serif', serif" font-size="19.3" text-anchor="end" fill="#000" >0.01</text>
<line x1="65.20" y1="273.77" x2="74.80" y2="273.77" stroke="#1f1f1f" stroke-width="1.6"/>
<text x="59.80" y="281.07" font-family="'Liberation Serif', 'DejaVu Serif', serif" font-size="19.3" text-anchor="end" fill="#000" >0.02</text>
<line x1="65.20" y1="228.41" x2="74.80" y2="228.41" stroke="#1f1f1f" stroke-width="1.6"/>
<text x="59.80" y="235.71" font-family="'Liberation Serif', 'DejaVu Serif', serif" font-size="19.3" text-anchor="end" fill="#000" >0.03</text>
<line x1="65.20" y1="183.05" x2="74.80" y2="183.05" stroke="#1f1f1f" stroke-width="1.6"/>
<text x="59.80" y="190.35" font-family="'Liberation Serif', 'DejaVu Serif', serif" font-size="19.3" text-anchor="end" fill="#000" >0.04</text>
<line x1="65.20" y1="137.68" x2="74.80" y2="137.68" stroke="#1f1f1f" stroke-width="1.6"/>
<text x="59.80" y="144.98" font-family="'Liberation Serif', 'DejaVu Serif', serif" font-size="19.3" text-anchor="end" fill="#000" >0.05</text>
<line x1="65.20" y1="92.32" x2="74.80" y2="92.32" stroke="#1f1f1f" stroke-width="1.6"/>
<text x="59.80" y="99.62" font-family="'Liberation Serif', 'DejaVu Serif', serif" font-size="19.3" text-anchor="end" fill="#000" >0.06</text>
<line x1="65.20" y1="46.96" x2="74.80" y2="46.96" stroke="#1f1f1f" stroke-width="1.6"/>
<text x="59.80" y="54.26" font-family="'Liberation Serif', 'DejaVu Serif', serif" font-size="19.3" text-anchor="end" fill="#000" >0.07</text>
<text x="352.75" y="417.80" font-family="'Liberation Sans', 'DejaVu Sans', sans-serif" font-size="19.5" text-anchor="middle" fill="#000" textLength="141.60" lengthAdjust="spacingAndGlyphs" >Temperature (°C)</text>
<text x="0" y="0" font-family="'Liberation Sans', 'DejaVu Sans', sans-serif" font-size="19.5" text-anchor="middle" textLength="219.5" lengthAdjust="spacingAndGlyphs" transform="translate(15.2,183.4) rotate(-90)">Development rate (1/days)</text>
<clipPath id="cb"><rect x="732.40" y="9.45" width="548.40" height="355.55"/></clipPath>
<path clip-path="url(#cb)" d="M784.00,-10.36 L784.10,-9.85 L784.20,-9.35 L784.30,-8.85 L784.40,-8.34 L784.50,-7.84 L784.60,-7.35 L784.69,-6.85 L784.79,-6.36 L784.89,-5.87 L784.99,-5.38 L785.09,-4.89 L785.19,-4.40 L785.29,-3.92 L785.39,-3.43 L785.49,-2.95 L785.59,-2.47 L785.69,-1.99 L785.79,-1.52 L785.89,-1.04 L785.99,-0.57 L786.09,-0.10 L786.19,0.37 L786.29,0.84 L786.39,1.30 L786.49,1.77 L786.59,2.23 L786.69,2.69 L786.79,3.15 L786.89,3.61 L786.99,4.07 L787.09,4.52 L787.19,4.98 L787.28,5.43 L787.38,5.88 L787.48,6.33 L787.58,6.78 L787.68,7.22 L787.78,7.67 L787.88,8.11 L787.98,8.55 L788.08,8.99 L788.18,9.43 L788.28,9.87 L788.38,10.31 L788.48,10.74 L788.58,11.17 L788.68,11.61 L788.78,12.04 L788.88,12.47 L788.98,12.89 L789.08,13.32 L789.18,13.75 L789.28,14.17 L789.38,14.59 L789.48,15.01 L789.58,15.43 L789.68,15.85 L789.78,16.27 L789.87,16.68 L789.97,17.10 L790.07,17.51 L790.17,17.92 L790.27,18.33 L790.37,18.74 L790.47,19.15 L790.57,19.56 L790.67,19.96 L790.77,20.37 L790.87,20.77 L790.97,21.17 L791.07,21.58 L791.17,21.97 L791.27,22.37 L791.37,22.77 L791.47,23.17 L791.57,23.56 L791.67,23.96 L791.77,24.35 L791.87,24.74 L791.97,25.13 L792.07,25.52 L792.17,25.91 L792.27,26.29 L792.37,26.68 L792.47,27.06 L792.56,27.45 L792.66,27.83 L792.76,28.21 L792.86,28.59 L792.96,28.97 L793.06,29.35 L793.16,29.73 L793.26,30.10 L793.36,30.48 L793.46,30.85 L793.56,31.23 L793.66,31.60 L793.76,31.97 L793.86,32.34 L793.96,32.71 L794.06,33.07 L794.16,33.44 L794.26,33.81 L794.36,34.17 L794.46,34.54 L794.56,34.90 L794.66,35.26 L794.76,35.62 L794.86,35.98 L794.96,36.34 L795.06,36.70 L795.15,37.05 L795.25,37.41 L795.35,37.77 L795.45,38.12 L795.55,38.47 L795.65,38.82 L795.75,39.18 L795.85,39.53 L795.95,39.88 L796.05,40.22 L796.15,40.57 L796.25,40.92 L796.35,41.26 L796.45,41.61 L796.55,41.95 L796.65,42.30 L796.75,42.64 L796.85,42.98 L796.95,43.32 L797.05,43.66 L797.15,44.00 L797.25,44.34 L797.35,44.67 L797.45,45.01 L797.55,45.35 L797.65,45.68 L797.74,46.01 L797.84,46.35 L797.94,46.68 L798.04,47.01 L798.14,47.34 L798.24,47.67 L798.34,48.00 L798.44,48.33 L798.54,48.65 L798.64,48.98 L798.74,49.30 L798.84,49.63 L798.94,49.95 L799.04,50.28 L799.14,50.60 L799.24,50.92 L799.34,51.24 L799.44,51.56 L799.54,51.88 L799.64,52.20 L799.74,52.52 L799.84,52.83 L799.94,53.15 L800.04,53.46 L800.14,53.78 L800.24,54.09 L800.34,54.41 L800.43,54.72 L800.53,55.03 L800.63,55.34 L800.73,55.65 L800.83,55.96 L800.93,56.27 L801.03,56.58 L801.13,56.88 L801.23,57.19 L801.33,57.50 L801.43,57.80 L801.53,58.11 L801.63,58.41 L801.73,58.71 L801.83,59.02 L801.93,59.32 L802.03,59.62 L802.13,59.92 L802.23,60.22 L802.33,60.52 L802.43,60.82 L802.53,61.11 L802.63,61.41 L802.73,61.71 L802.83,62.00 L802.93,62.30 L803.02,62.59 L803.12,62.88 L803.22,63.18 L803.32,63.47 L803.42,63.76 L803.52,64.05 L803.62,64.34 L803.72,64.63 L803.82,64.92 L803.92,65.21 L804.02,65.50 L804.12,65.78 L804.22,66.07 L804.32,66.36 L804.42,66.64 L804.52,66.93 L804.62,67.21 L804.72,67.50 L804.82,67.78 L804.92,68.06 L805.02,68.34 L805.12,68.62 L805.22,68.90 L805.32,69.18 L805.42,69.46 L805.52,69.74 L805.61,70.02 L805.71,70.30 L805.81,70.57 L805.91,70.85 L806.01,71.13 L806.11,71.40 L806.21,71.68 L806.31,71.95 L806.41,72.22 L806.51,72.50 L806.61,72.77 L806.71,73.04 L806.81,73.31 L806.91,73.58 L807.01,73.85 L807.11,74.12 L807.21,74.39 L807.31,74.66 L807.41,74.93 L807.51,75.19 L807.61,75.46 L807.71,75.73 L807.81,75.99 L807.91,76.26 L808.01,76.52 L808.11,76.79 L808.21,77.05 L808.30,77.31 L808.40,77.58 L808.50,77.84 L808.60,78.10 L808.70,78.36 L808.80,78.62 L808.90,78.88 L809.00,79.14 L809.10,79.40 L809.20,79.66 L809.30,79.91 L809.40,80.17 L809.50,80.43 L809.60,80.69 L809.70,80.94 L809.80,81.20 L809.90,81.45 L810.00,81.71 L810.10,81.96 L810.20,82.21 L810.30,82.47 L810.40,82.72 L810.50,82.97 L810.60,83.22 L810.70,83.47 L810.80,83.72 L810.89,83.97 L810.99,84.22 L811.09,84.47 L811.19,84.72 L811.29,84.97 L811.39,85.21 L811.49,85.46 L811.59,85.71 L811.69,85.95 L811.79,86.20 L811.89,86.45 L811.99,86.69 L812.09,86.93 L812.19,87.18 L812.29,87.42 L812.39,87.66 L812.49,87.91 L812.59,88.15 L812.69,88.39 L812.79,88.63 L812.89,88.87 L812.99,89.11 L813.09,89.35 L813.19,89.59 L813.29,89.83 L813.39,90.07 L813.48,90.31 L813.58,90.54 L813.68,90.78 L813.78,91.02 L813.88,91.26 L813.98,91.49 L814.08,91.73 L814.18,91.96 L814.28,92.20 L814.38,92.43 L814.48,92.66 L814.58,92.90 L814.68,93.13 L814.78,93.36 L814.88,93.59 L814.98,93.83 L815.08,94.06 L815.18,94.29 L815.28,94.52 L815.38,94.75 L815.48,94.98 L815.58,95.21 L815.68,95.44 L815.78,95.66 L815.88,95.89 L815.98,96.12 L816.08,96.35 L816.17,96.57 L816.27,96.80 L816.37,97.03 L816.47,97.25 L816.57,97.48 L816.67,97.70 L816.77,97.93 L816.87,98.15 L816.97,98.37 L817.07,98.60 L817.17,98.82 L817.27,99.04 L817.37,99.27 L817.47,99.49 L817.57,99.71 L817.67,99.93 L817.77,100.15 L817.87,100.37 L817.97,100.59 L818.07,100.81 L818.17,101.03 L818.27,101.25 L818.37,101.47 L818.47,101.68 L818.57,101.90 L818.67,102.12 L818.76,102.33 L818.86,102.55 L818.96,102.77 L819.06,102.98 L819.16,103.20 L819.26,103.41 L819.36,103.63 L819.46,103.84 L819.56,104.06 L819.66,104.27 L819.76,104.48 L819.86,104.70 L819.96,104.91 L820.06,105.12 L820.16,105.33 L820.26,105.54 L820.36,105.76 L820.46,105.97 L820.56,106.18 L820.66,106.39 L820.76,106.60 L820.86,106.81 L820.96,107.02 L821.06,107.22 L821.16,107.43 L821.26,107.64 L821.35,107.85 L821.45,108.06 L821.55,108.26 L821.65,108.47 L821.75,108.68 L821.85,108.88 L821.95,109.09 L822.05,109.29 L822.15,109.50 L822.25,109.70 L822.35,109.91 L822.45,110.11 L822.55,110.32 L822.65,110.52 L822.75,110.72 L822.85,110.93 L822.95,111.13 L823.05,111.33 L823.15,111.53 L823.25,111.73 L823.35,111.93 L823.45,112.14 L823.55,112.34 L823.65,112.54 L823.75,112.74 L823.85,112.94 L823.95,113.14 L824.04,113.33 L824.14,113.53 L824.24,113.73 L824.34,113.93 L824.44,114.13 L824.54,114.32 L824.64,114.52 L824.74,114.72 L824.84,114.92 L824.94,115.11 L825.04,115.31 L825.14,115.50 L825.24,115.70 L825.34,115.89 L825.44,116.09 L825.54,116.28 L825.64,116.48 L825.74,116.67 L825.84,116.86 L825.94,117.06 L826.04,117.25 L826.14,117.44 L826.24,117.64 L826.34,117.83 L826.44,118.02 L826.54,118.21 L826.63,118.40 L826.73,118.59 L826.83,118.78 L826.93,118.98 L827.03,119.17 L827.13,119.36 L827.23,119.54 L827.33,119.73 L827.43,119.92 L827.53,120.11 L827.63,120.30 L827.73,120.49 L827.83,120.68 L827.93,120.86 L828.03,121.05 L828.13,121.24 L828.23,121.42 L828.33,121.61 L828.43,121.80 L828.53,121.98 L828.63,122.17 L828.73,122.35 L828.83,122.54 L828.93,122.72 L829.03,122.91 L829.13,123.09 L829.22,123.28 L829.32,123.46 L829.42,123.64 L829.52,123.83 L829.62,124.01 L829.72,124.19 L829.82,124.38 L829.92,124.56 L830.02,124.74 L830.12,124.92 L830.22,125.10 L830.32,125.28 L830.42,125.47 L830.52,125.65 L830.62,125.83 L830.72,126.01 L830.82,126.19 L830.92,126.37 L831.02,126.55 L831.12,126.72 L831.22,126.90 L831.32,127.08 L831.42,127.26 L831.52,127.44 L831.62,127.62 L831.72,127.79 L831.82,127.97 L831.91,128.15 L832.01,128.32 L832.11,128.50 L832.21,128.68 L832.31,128.85 L832.41,129.03 L832.51,129.21 L832.61,129.38 L832.71,129.56 L832.81,129.73 L832.91,129.91 L833.01,130.08 L833.11,130.25 L833.21,130.43 L833.31,130.60 L833.41,130.77 L833.51,130.95 L833.61,131.12 L833.71,131.29 L833.81,131.47 L833.91,131.64 L834.01,131.81 L834.11,131.98 L834.21,132.15 L834.31,132.32 L834.41,132.50 L834.50,132.67 L834.60,132.84 L834.70,133.01 L834.80,133.18 L834.90,133.35 L835.00,133.52 L835.10,133.69 L835.20,133.86 L835.30,134.03 L835.40,134.19 L835.50,134.36 L835.60,134.53 L835.70,134.70 L835.80,134.87 L835.90,135.03 L836.00,135.20 L836.10,135.37 L836.20,135.54 L836.30,135.70 L836.40,135.87 L836.50,136.04 L836.60,136.20 L836.70,136.37 L836.80,136.53 L836.90,136.70 L837.00,136.86 L837.09,137.03 L837.19,137.19 L837.29,137.36 L837.39,137.52 L837.49,137.69 L837.59,137.85 L837.69,138.01 L837.79,138.18 L837.89,138.34 L837.99,138.50 L838.09,138.67 L838.19,138.83 L838.29,138.99 L838.39,139.15 L838.49,139.32 L838.59,139.48 L838.69,139.64 L838.79,139.80 L838.89,139.96 L838.99,140.12 L839.09,140.28 L839.19,140.44 L839.29,140.60 L839.39,140.76 L839.49,140.92 L839.59,141.08 L839.68,141.24 L839.78,141.40 L839.88,141.56 L839.98,141.72 L840.08,141.88 L840.18,142.04 L840.28,142.20 L840.38,142.35 L840.48,142.51 L840.58,142.67 L840.68,142.83 L840.78,142.98 L840.88,143.14 L840.98,143.30 L841.08,143.45 L841.18,143.61 L841.28,143.77 L841.38,143.92 L841.48,144.08 L841.58,144.24 L841.68,144.39 L841.78,144.55 L841.88,144.70 L841.98,144.86 L842.08,145.01 L842.18,145.17 L842.28,145.32 L842.37,145.47 L842.47,145.63 L842.57,145.78 L842.67,145.93 L842.77,146.09 L842.87,146.24 L842.97,146.39 L843.07,146.55 L843.17,146.70 L843.27,146.85 L843.37,147.00 L843.47,147.16 L843.57,147.31 L843.67,147.46 L843.77,147.61 L843.87,147.76 L843.97,147.91 L844.07,148.06 L844.17,148.22 L844.27,148.37 L844.37,148.52 L844.47,148.67 L844.57,148.82 L844.67,148.97 L844.77,149.12 L844.87,149.27 L844.96,149.42 L845.06,149.56 L845.16,149.71 L845.26,149.86 L845.36,150.01 L845.46,150.16 L845.56,150.31 L845.66,150.46 L845.76,150.60 L845.86,150.75 L845.96,150.90 L846.06,151.05 L846.16,151.19 L846.26,151.34 L846.36,151.49 L846.46,151.63 L846.56,151.78 L846.66,151.93 L846.76,152.07 L846.86,152.22 L846.96,152.36 L847.06,152.51 L847.16,152.65 L847.26,152.80 L847.36,152.94 L847.46,153.09 L847.55,153.23 L847.65,153.38 L847.75,153.52 L847.85,153.67 L847.95,153.81 L848.05,153.96 L848.15,154.10 L848.25,154.24 L848.35,154.39 L848.45,154.53 L848.55,154.67 L848.65,154.82 L848.75,154.96 L848.85,155.10 L848.95,155.24 L849.05,155.38 L849.15,155.53 L849.25,155.67 L849.35,155.81 L849.45,155.95 L849.55,156.09 L849.65,156.23 L849.75,156.38 L849.85,156.52 L849.95,156.66 L850.05,156.80 L850.15,156.94 L850.24,157.08 L850.34,157.22 L850.44,157.36 L850.54,157.50 L850.64,157.64 L850.74,157.78 L850.84,157.92 L850.94,158.06 L851.04,158.19 L851.14,158.33 L851.24,158.47 L851.34,158.61 L851.44,158.75 L851.54,158.89 L851.64,159.02 L851.74,159.16 L851.84,159.30 L851.94,159.44 L852.04,159.58 L852.14,159.71 L852.24,159.85 L852.34,159.99 L852.44,160.12 L852.54,160.26 L852.64,160.40 L852.74,160.53 L852.83,160.67 L852.93,160.80 L853.03,160.94 L853.13,161.08 L853.23,161.21 L853.33,161.35 L853.43,161.48 L853.53,161.62 L853.63,161.75 L853.73,161.89 L853.83,162.02 L853.93,162.16 L854.03,162.29 L854.13,162.43 L854.23,162.56 L854.33,162.69 L854.43,162.83 L854.53,162.96 L854.63,163.09 L854.73,163.23 L854.83,163.36 L854.93,163.49 L855.03,163.63 L855.13,163.76 L855.23,163.89 L855.33,164.02 L855.42,164.16 L855.52,164.29 L855.62,164.42 L855.72,164.55 L855.82,164.68 L855.92,164.82 L856.02,164.95 L856.12,165.08 L856.22,165.21 L856.32,165.34 L856.42,165.47 L856.52,165.60 L856.62,165.73 L856.72,165.86 L856.82,165.99 L856.92,166.12 L857.02,166.25 L857.12,166.38 L857.22,166.51 L857.32,166.64 L857.42,166.77 L857.52,166.90 L857.62,167.03 L857.72,167.16 L857.82,167.29 L857.92,167.42 L858.02,167.55 L858.11,167.67 L858.21,167.80 L858.31,167.93 L858.41,168.06 L858.51,168.19 L858.61,168.31 L858.71,168.44 L858.81,168.57 L858.91,168.70 L859.01,168.82 L859.11,168.95 L859.21,169.08 L859.31,169.20 L859.41,169.33 L859.51,169.46 L859.61,169.58 L859.71,169.71 L859.81,169.84 L859.91,169.96 L860.01,170.09 L860.11,170.21 L860.21,170.34 L860.31,170.47 L860.41,170.59 L860.51,170.72 L860.61,170.84 L860.70,170.97 L860.80,171.09 L860.90,171.22 L861.00,171.34 L861.10,171.47 L861.20,171.59 L861.30,171.71 L861.40,171.84 L861.50,171.96 L861.60,172.09 L861.70,172.21 L861.80,172.33 L861.90,172.46 L862.00,172.58 L862.10,172.70 L862.20,172.83 L862.30,172.95 L862.40,173.07 L862.50,173.19 L862.60,173.32 L862.70,173.44 L862.80,173.56 L862.90,173.68 L863.00,173.81 L863.10,173.93 L863.20,174.05 L863.29,174.17 L863.39,174.29 L863.49,174.41 L863.59,174.54 L863.69,174.66 L863.79,174.78 L863.89,174.90 L863.99,175.02 L864.09,175.14 L864.19,175.26 L864.29,175.38 L864.39,175.50 L864.49,175.62 L864.59,175.74 L864.69,175.86 L864.79,175.98 L864.89,176.10 L864.99,176.22 L865.09,176.34 L865.19,176.46 L865.29,176.58 L865.39,176.70 L865.49,176.82 L865.59,176.94 L865.69,177.05 L865.79,177.17 L865.89,177.29 L865.98,177.41 L866.08,177.53 L866.18,177.65 L866.28,177.76 L866.38,177.88 L866.48,178.00 L866.58,178.12 L866.68,178.23 L866.78,178.35 L866.88,178.47 L866.98,178.59 L867.08,178.70 L867.18,178.82 L867.28,178.94 L867.38,179.05 L867.48,179.17 L867.58,179.29 L867.68,179.40 L867.78,179.52 L867.88,179.64 L867.98,179.75 L868.08,179.87 L868.18,179.98 L868.28,180.10 L868.38,180.22 L868.48,180.33 L868.57,180.45 L868.67,180.56 L868.77,180.68 L868.87,180.79 L868.97,180.91 L869.07,181.02 L869.17,181.14 L869.27,181.25 L869.37,181.36 L869.47,181.48 L869.57,181.59 L869.67,181.71 L869.77,181.82 L869.87,181.94 L869.97,182.05 L870.07,182.16 L870.17,182.28 L870.27,182.39 L870.37,182.50 L870.47,182.62 L870.57,182.73 L870.67,182.84 L870.77,182.96 L870.87,183.07 L870.97,183.18 L871.07,183.29 L871.16,183.41 L871.26,183.52 L871.36,183.63 L871.46,183.74 L871.56,183.85 L871.66,183.97 L871.76,184.08 L871.86,184.19 L871.96,184.30 L872.06,184.41 L872.16,184.52 L872.26,184.64 L872.36,184.75 L872.46,184.86 L872.56,184.97 L872.66,185.08 L872.76,185.19 L872.86,185.30 L872.96,185.41 L873.06,185.52 L873.16,185.63 L873.26,185.74 L873.36,185.85 L873.46,185.96 L873.56,186.07 L873.66,186.18 L873.76,186.29 L873.85,186.40 L873.95,186.51 L874.05,186.62 L874.15,186.73 L874.25,186.84 L874.35,186.95 L874.45,187.06 L874.55,187.17 L874.65,187.28 L874.75,187.38 L874.85,187.49 L874.95,187.60 L875.05,187.71 L875.15,187.82 L875.25,187.93 L875.35,188.03 L875.45,188.14 L875.55,188.25 L875.65,188.36 L875.75,188.47 L875.85,188.57 L875.95,188.68 L876.05,188.79 L876.15,188.89 L876.25,189.00 L876.35,189.11 L876.44,189.22 L876.54,189.32 L876.64,189.43 L876.74,189.54 L876.84,189.64 L876.94,189.75 L877.04,189.86 L877.14,189.96 L877.24,190.07 L877.34,190.17 L877.44,190.28 L877.54,190.39 L877.64,190.49 L877.74,190.60 L877.84,190.70 L877.94,190.81 L878.04,190.91 L878.14,191.02 L878.24,191.12 L878.34,191.23 L878.44,191.33 L878.54,191.44 L878.64,191.54 L878.74,191.65 L878.84,191.75 L878.94,191.86 L879.03,191.96 L879.13,192.07 L879.23,192.17 L879.33,192.28 L879.43,192.38 L879.53,192.48 L879.63,192.59 L879.73,192.69 L879.83,192.79 L879.93,192.90 L880.03,193.00 L880.13,193.11 L880.23,193.21 L880.33,193.31 L880.43,193.41 L880.53,193.52 L880.63,193.62 L880.73,193.72 L880.83,193.83 L880.93,193.93 L881.03,194.03 L881.13,194.13 L881.23,194.24 L881.33,194.34 L881.43,194.44 L881.53,194.54 L881.62,194.65 L881.72,194.75 L881.82,194.85 L881.92,194.95 L882.02,195.05 L882.12,195.15 L882.22,195.26 L882.32,195.36 L882.42,195.46 L882.52,195.56 L882.62,195.66 L882.72,195.76 L882.82,195.86 L882.92,195.96 L883.02,196.06 L883.12,196.16 L883.22,196.26 L883.32,196.37 L883.42,196.47 L883.52,196.57 L883.62,196.67 L883.72,196.77 L883.82,196.87 L883.92,196.97 L884.02,197.07 L884.12,197.17 L884.22,197.27 L884.31,197.37 L884.41,197.46 L884.51,197.56 L884.61,197.66 L884.71,197.76 L884.81,197.86 L884.91,197.96 L885.01,198.06 L885.11,198.16 L885.21,198.26 L885.31,198.36 L885.41,198.45 L885.51,198.55 L885.61,198.65 L885.71,198.75 L885.81,198.85 L885.91,198.95 L886.01,199.04 L886.11,199.14 L886.21,199.24 L886.31,199.34 L886.41,199.44 L886.51,199.53 L886.61,199.63 L886.71,199.73 L886.81,199.83 L886.90,199.92 L887.00,200.02 L887.10,200.12 L887.20,200.22 L887.30,200.31 L887.40,200.41 L887.50,200.51 L887.60,200.60 L887.70,200.70 L887.80,200.80 L887.90,200.89 L888.00,200.99 L888.10,201.09 L888.20,201.18 L888.30,201.28 L888.40,201.37 L888.50,201.47 L888.60,201.57 L888.70,201.66 L888.80,201.76 L888.90,201.85 L889.00,201.95 L889.10,202.04 L889.20,202.14 L889.30,202.24 L889.40,202.33 L889.49,202.43 L889.59,202.52 L889.69,202.62 L889.79,202.71 L889.89,202.81 L889.99,202.90 L890.09,203.00 L890.19,203.09 L890.29,203.18 L890.39,203.28 L890.49,203.37 L890.59,203.47 L890.69,203.56 L890.79,203.66 L890.89,203.75 L890.99,203.84 L891.09,203.94 L891.19,204.03 L891.29,204.13 L891.39,204.22 L891.49,204.31 L891.59,204.41 L891.69,204.50 L891.79,204.59 L891.89,204.69 L891.99,204.78 L892.09,204.87 L892.18,204.97 L892.28,205.06 L892.38,205.15 L892.48,205.24 L892.58,205.34 L892.68,205.43 L892.78,205.52 L892.88,205.61 L892.98,205.71 L893.08,205.80 L893.18,205.89 L893.28,205.98 L893.38,206.08 L893.48,206.17 L893.58,206.26 L893.68,206.35 L893.78,206.44 L893.88,206.54 L893.98,206.63 L894.08,206.72 L894.18,206.81 L894.28,206.90 L894.38,206.99 L894.48,207.08 L894.58,207.18 L894.68,207.27 L894.77,207.36 L894.87,207.45 L894.97,207.54 L895.07,207.63 L895.17,207.72 L895.27,207.81 L895.37,207.90 L895.47,207.99 L895.57,208.08 L895.67,208.17 L895.77,208.26 L895.87,208.35 L895.97,208.44 L896.07,208.53 L896.17,208.62 L896.27,208.71 L896.37,208.80 L896.47,208.89 L896.57,208.98 L896.67,209.07 L896.77,209.16 L896.87,209.25 L896.97,209.34 L897.07,209.43 L897.17,209.52 L897.27,209.61 L897.36,209.70 L897.46,209.79 L897.56,209.88 L897.66,209.97 L897.76,210.05 L897.86,210.14 L897.96,210.23 L898.06,210.32 L898.16,210.41 L898.26,210.50 L898.36,210.59 L898.46,210.67 L898.56,210.76 L898.66,210.85 L898.76,210.94 L898.86,211.03 L898.96,211.11 L899.06,211.20 L899.16,211.29 L899.26,211.38 L899.36,211.47 L899.46,211.55 L899.56,211.64 L899.66,211.73 L899.76,211.82 L899.86,211.90 L899.96,211.99 L900.05,212.08 L900.15,212.16 L900.25,212.25 L900.35,212.34 L900.45,212.42 L900.55,212.51 L900.65,212.60 L900.75,212.69 L900.85,212.77 L900.95,212.86 L901.05,212.94 L901.15,213.03 L901.25,213.12 L901.35,213.20 L901.45,213.29 L901.55,213.38 L901.65,213.46 L901.75,213.55 L901.85,213.63 L901.95,213.72 L902.05,213.81 L902.15,213.89 L902.25,213.98 L902.35,214.06 L902.45,214.15 L902.55,214.23 L902.64,214.32 L902.74,214.40 L902.84,214.49 L902.94,214.57 L903.04,214.66 L903.14,214.74 L903.24,214.83 L903.34,214.91 L903.44,215.00 L903.54,215.08 L903.64,215.17 L903.74,215.25 L903.84,215.34 L903.94,215.42 L904.04,215.51 L904.14,215.59 L904.24,215.68 L904.34,215.76 L904.44,215.84 L904.54,215.93 L904.64,216.01 L904.74,216.10 L904.84,216.18 L904.94,216.26 L905.04,216.35 L905.14,216.43 L905.23,216.52 L905.33,216.60 L905.43,216.68 L905.53,216.77 L905.63,216.85 L905.73,216.93 L905.83,217.02 L905.93,217.10 L906.03,217.18 L906.13,217.27 L906.23,217.35 L906.33,217.43 L906.43,217.51 L906.53,217.60 L906.63,217.68 L906.73,217.76 L906.83,217.84 L906.93,217.93 L907.03,218.01 L907.13,218.09 L907.23,218.17 L907.33,218.26 L907.43,218.34 L907.53,218.42 L907.63,218.50 L907.73,218.59 L907.83,218.67 L907.92,218.75 L908.02,218.83 L908.12,218.91 L908.22,218.99 L908.32,219.08 L908.42,219.16 L908.52,219.24 L908.62,219.32 L908.72,219.40 L908.82,219.48 L908.92,219.56 L909.02,219.65 L909.12,219.73 L909.22,219.81 L909.32,219.89 L909.42,219.97 L909.52,220.05 L909.62,220.13 L909.72,220.21 L909.82,220.29 L909.92,220.37 L910.02,220.45 L910.12,220.53 L910.22,220.62 L910.32,220.70 L910.42,220.78 L910.51,220.86 L910.61,220.94 L910.71,221.02 L910.81,221.10 L910.91,221.18 L911.01,221.26 L911.11,221.34 L911.21,221.42 L911.31,221.50 L911.41,221.58 L911.51,221.66 L911.61,221.74 L911.71,221.81 L911.81,221.89 L911.91,221.97 L912.01,222.05 L912.11,222.13 L912.21,222.21 L912.31,222.29 L912.41,222.37 L912.51,222.45 L912.61,222.53 L912.71,222.61 L912.81,222.69 L912.91,222.76 L913.01,222.84 L913.10,222.92 L913.20,223.00 L913.30,223.08 L913.40,223.16 L913.50,223.24 L913.60,223.31 L913.70,223.39 L913.80,223.47 L913.90,223.55 L914.00,223.63 L914.10,223.71 L914.20,223.78 L914.30,223.86 L914.40,223.94 L914.50,224.02 L914.60,224.10 L914.70,224.17 L914.80,224.25 L914.90,224.33 L915.00,224.41 L915.10,224.48 L915.20,224.56 L915.30,224.64 L915.40,224.72 L915.50,224.79 L915.60,224.87 L915.70,224.95 L915.79,225.02 L915.89,225.10 L915.99,225.18 L916.09,225.26 L916.19,225.33 L916.29,225.41 L916.39,225.49 L916.49,225.56 L916.59,225.64 L916.69,225.72 L916.79,225.79 L916.89,225.87 L916.99,225.95 L917.09,226.02 L917.19,226.10 L917.29,226.17 L917.39,226.25 L917.49,226.33 L917.59,226.40 L917.69,226.48 L917.79,226.55 L917.89,226.63 L917.99,226.71 L918.09,226.78 L918.19,226.86 L918.29,226.93 L918.38,227.01 L918.48,227.08 L918.58,227.16 L918.68,227.24 L918.78,227.31 L918.88,227.39 L918.98,227.46 L919.08,227.54 L919.18,227.61 L919.28,227.69 L919.38,227.76 L919.48,227.84 L919.58,227.91 L919.68,227.99 L919.78,228.06 L919.88,228.14 L919.98,228.21 L920.08,228.29 L920.18,228.36 L920.28,228.44 L920.38,228.51 L920.48,228.58 L920.58,228.66 L920.68,228.73 L920.78,228.81 L920.88,228.88 L920.97,228.96 L921.07,229.03 L921.17,229.10 L921.27,229.18 L921.37,229.25 L921.47,229.33 L921.57,229.40 L921.67,229.47 L921.77,229.55 L921.87,229.62 L921.97,229.69 L922.07,229.77 L922.17,229.84 L922.27,229.92 L922.37,229.99 L922.47,230.06 L922.57,230.14 L922.67,230.21 L922.77,230.28 L922.87,230.36 L922.97,230.43 L923.07,230.50 L923.17,230.57 L923.27,230.65 L923.37,230.72 L923.47,230.79 L923.57,230.87 L923.66,230.94 L923.76,231.01 L923.86,231.08 L923.96,231.16 L924.06,231.23 L924.16,231.30 L924.26,231.37 L924.36,231.45 L924.46,231.52 L924.56,231.59 L924.66,231.66 L924.76,231.74 L924.86,231.81 L924.96,231.88 L925.06,231.95 L925.16,232.02 L925.26,232.10 L925.36,232.17 L925.46,232.24 L925.56,232.31 L925.66,232.38 L925.76,232.45 L925.86,232.53 L925.96,232.60 L926.06,232.67 L926.16,232.74 L926.25,232.81 L926.35,232.88 L926.45,232.95 L926.55,233.03 L926.65,233.10 L926.75,233.17 L926.85,233.24 L926.95,233.31 L927.05,233.38 L927.15,233.45 L927.25,233.52 L927.35,233.59 L927.45,233.66 L927.55,233.73 L927.65,233.81 L927.75,233.88 L927.85,233.95 L927.95,234.02 L928.05,234.09 L928.15,234.16 L928.25,234.23 L928.35,234.30 L928.45,234.37 L928.55,234.44 L928.65,234.51 L928.75,234.58 L928.84,234.65 L928.94,234.72 L929.04,234.79 L929.14,234.86 L929.24,234.93 L929.34,235.00 L929.44,235.07 L929.54,235.14 L929.64,235.21 L929.74,235.28 L929.84,235.35 L929.94,235.42 L930.04,235.49 L930.14,235.56 L930.24,235.63 L930.34,235.69 L930.44,235.76 L930.54,235.83 L930.64,235.90 L930.74,235.97 L930.84,236.04 L930.94,236.11 L931.04,236.18 L931.14,236.25 L931.24,236.32 L931.34,236.39 L931.44,236.45 L931.53,236.52 L931.63,236.59 L931.73,236.66 L931.83,236.73 L931.93,236.80 L932.03,236.87 L932.13,236.93 L932.23,237.00 L932.33,237.07 L932.43,237.14 L932.53,237.21 L932.63,237.28 L932.73,237.34 L932.83,237.41 L932.93,237.48 L933.03,237.55 L933.13,237.62 L933.23,237.68 L933.33,237.75 L933.43,237.82 L933.53,237.89 L933.63,237.95 L933.73,238.02 L933.83,238.09 L933.93,238.16 L934.03,238.23 L934.12,238.29 L934.22,238.36 L934.32,238.43 L934.42,238.49 L934.52,238.56 L934.62,238.63 L934.72,238.70 L934.82,238.76 L934.92,238.83 L935.02,238.90 L935.12,238.96 L935.22,239.03 L935.32,239.10 L935.42,239.17 L935.52,239.23 L935.62,239.30 L935.72,239.37 L935.82,239.43 L935.92,239.50 L936.02,239.57 L936.12,239.63 L936.22,239.70 L936.32,239.77 L936.42,239.83 L936.52,239.90 L936.62,239.96 L936.71,240.03 L936.81,240.10 L936.91,240.16 L937.01,240.23 L937.11,240.30 L937.21,240.36 L937.31,240.43 L937.41,240.49 L937.51,240.56 L937.61,240.63 L937.71,240.69 L937.81,240.76 L937.91,240.82 L938.01,240.89 L938.11,240.95 L938.21,241.02 L938.31,241.08 L938.41,241.15 L938.51,241.22 L938.61,241.28 L938.71,241.35 L938.81,241.41 L938.91,241.48 L939.01,241.54 L939.11,241.61 L939.21,241.67 L939.30,241.74 L939.40,241.80 L939.50,241.87 L939.60,241.93 L939.70,242.00 L939.80,242.06 L939.90,242.13 L940.00,242.19 L940.10,242.26 L940.20,242.32 L940.30,242.39 L940.40,242.45 L940.50,242.51 L940.60,242.58 L940.70,242.64 L940.80,242.71 L940.90,242.77 L941.00,242.84 L941.10,242.90 L941.20,242.97 L941.30,243.03 L941.40,243.09 L941.50,243.16 L941.60,243.22 L941.70,243.29 L941.80,243.35 L941.90,243.41 L941.99,243.48 L942.09,243.54 L942.19,243.61 L942.29,243.67 L942.39,243.73 L942.49,243.80 L942.59,243.86 L942.69,243.92 L942.79,243.99 L942.89,244.05 L942.99,244.11 L943.09,244.18 L943.19,244.24 L943.29,244.30 L943.39,244.37 L943.49,244.43 L943.59,244.49 L943.69,244.56 L943.79,244.62 L943.89,244.68 L943.99,244.75 L944.09,244.81 L944.19,244.87 L944.29,244.94 L944.39,245.00 L944.49,245.06 L944.58,245.12 L944.68,245.19 L944.78,245.25 L944.88,245.31 L944.98,245.37 L945.08,245.44 L945.18,245.50 L945.28,245.56 L945.38,245.62 L945.48,245.69 L945.58,245.75 L945.68,245.81 L945.78,245.87 L945.88,245.94 L945.98,246.00 L946.08,246.06 L946.18,246.12 L946.28,246.18 L946.38,246.25 L946.48,246.31 L946.58,246.37 L946.68,246.43 L946.78,246.49 L946.88,246.55 L946.98,246.62 L947.08,246.68 L947.17,246.74 L947.27,246.80 L947.37,246.86 L947.47,246.92 L947.57,246.99 L947.67,247.05 L947.77,247.11 L947.87,247.17 L947.97,247.23 L948.07,247.29 L948.17,247.35 L948.27,247.42 L948.37,247.48 L948.47,247.54 L948.57,247.60 L948.67,247.66 L948.77,247.72 L948.87,247.78 L948.97,247.84 L949.07,247.90 L949.17,247.96 L949.27,248.03 L949.37,248.09 L949.47,248.15 L949.57,248.21 L949.67,248.27 L949.77,248.33 L949.86,248.39 L949.96,248.45 L950.06,248.51 L950.16,248.57 L950.26,248.63 L950.36,248.69 L950.46,248.75 L950.56,248.81 L950.66,248.87 L950.76,248.93 L950.86,248.99 L950.96,249.05 L951.06,249.11 L951.16,249.17 L951.26,249.23 L951.36,249.29 L951.46,249.35 L951.56,249.41 L951.66,249.47 L951.76,249.53 L951.86,249.59 L951.96,249.65 L952.06,249.71 L952.16,249.77 L952.26,249.83 L952.36,249.89 L952.45,249.95 L952.55,250.01 L952.65,250.07 L952.75,250.13 L952.85,250.19 L952.95,250.25 L953.05,250.30 L953.15,250.36 L953.25,250.42 L953.35,250.48 L953.45,250.54 L953.55,250.60 L953.65,250.66 L953.75,250.72 L953.85,250.78 L953.95,250.84 L954.05,250.89 L954.15,250.95 L954.25,251.01 L954.35,251.07 L954.45,251.13 L954.55,251.19 L954.65,251.25 L954.75,251.31 L954.85,251.36 L954.95,251.42 L955.04,251.48 L955.14,251.54 L955.24,251.60 L955.34,251.66 L955.44,251.71 L955.54,251.77 L955.64,251.83 L955.74,251.89 L955.84,251.95 L955.94,252.01 L956.04,252.06 L956.14,252.12 L956.24,252.18 L956.34,252.24 L956.44,252.30 L956.54,252.35 L956.64,252.41 L956.74,252.47 L956.84,252.53 L956.94,252.58 L957.04,252.64 L957.14,252.70 L957.24,252.76 L957.34,252.82 L957.44,252.87 L957.54,252.93 L957.64,252.99 L957.73,253.04 L957.83,253.10 L957.93,253.16 L958.03,253.22 L958.13,253.27 L958.23,253.33 L958.33,253.39 L958.43,253.45 L958.53,253.50 L958.63,253.56 L958.73,253.62 L958.83,253.67 L958.93,253.73 L959.03,253.79 L959.13,253.84 L959.23,253.90 L959.33,253.96 L959.43,254.02 L959.53,254.07 L959.63,254.13 L959.73,254.19 L959.83,254.24 L959.93,254.30 L960.03,254.36 L960.13,254.41 L960.23,254.47 L960.32,254.52 L960.42,254.58 L960.52,254.64 L960.62,254.69 L960.72,254.75 L960.82,254.81 L960.92,254.86 L961.02,254.92 L961.12,254.97 L961.22,255.03 L961.32,255.09 L961.42,255.14 L961.52,255.20 L961.62,255.25 L961.72,255.31 L961.82,255.37 L961.92,255.42 L962.02,255.48 L962.12,255.53 L962.22,255.59 L962.32,255.65 L962.42,255.70 L962.52,255.76 L962.62,255.81 L962.72,255.87 L962.82,255.92 L962.91,255.98 L963.01,256.03 L963.11,256.09 L963.21,256.14 L963.31,256.20 L963.41,256.26 L963.51,256.31 L963.61,256.37 L963.71,256.42 L963.81,256.48 L963.91,256.53 L964.01,256.59 L964.11,256.64 L964.21,256.70 L964.31,256.75 L964.41,256.81 L964.51,256.86 L964.61,256.92 L964.71,256.97 L964.81,257.03 L964.91,257.08 L965.01,257.14 L965.11,257.19 L965.21,257.24 L965.31,257.30 L965.41,257.35 L965.51,257.41 L965.60,257.46 L965.70,257.52 L965.80,257.57 L965.90,257.63 L966.00,257.68 L966.10,257.73 L966.20,257.79 L966.30,257.84 L966.40,257.90 L966.50,257.95 L966.60,258.01 L966.70,258.06 L966.80,258.11 L966.90,258.17 L967.00,258.22 L967.10,258.28 L967.20,258.33 L967.30,258.38 L967.40,258.44 L967.50,258.49 L967.60,258.54 L967.70,258.60 L967.80,258.65 L967.90,258.71 L968.00,258.76 L968.10,258.81 L968.19,258.87 L968.29,258.92 L968.39,258.97 L968.49,259.03 L968.59,259.08 L968.69,259.13 L968.79,259.19 L968.89,259.24 L968.99,259.29 L969.09,259.35 L969.19,259.40 L969.29,259.45 L969.39,259.51 L969.49,259.56 L969.59,259.61 L969.69,259.67 L969.79,259.72 L969.89,259.77 L969.99,259.83 L970.09,259.88 L970.19,259.93 L970.29,259.98 L970.39,260.04 L970.49,260.09 L970.59,260.14 L970.69,260.19 L970.78,260.25 L970.88,260.30 L970.98,260.35 L971.08,260.41 L971.18,260.46 L971.28,260.51 L971.38,260.56 L971.48,260.62 L971.58,260.67 L971.68,260.72 L971.78,260.77 L971.88,260.82 L971.98,260.88 L972.08,260.93 L972.18,260.98 L972.28,261.03 L972.38,261.09 L972.48,261.14 L972.58,261.19 L972.68,261.24 L972.78,261.29 L972.88,261.35 L972.98,261.40 L973.08,261.45 L973.18,261.50 L973.28,261.55 L973.38,261.60 L973.47,261.66 L973.57,261.71 L973.67,261.76 L973.77,261.81 L973.87,261.86 L973.97,261.91 L974.07,261.97 L974.17,262.02 L974.27,262.07 L974.37,262.12 L974.47,262.17 L974.57,262.22 L974.67,262.27 L974.77,262.33 L974.87,262.38 L974.97,262.43 L975.07,262.48 L975.17,262.53 L975.27,262.58 L975.37,262.63 L975.47,262.68 L975.57,262.74 L975.67,262.79 L975.77,262.84 L975.87,262.89 L975.97,262.94 L976.06,262.99 L976.16,263.04 L976.26,263.09 L976.36,263.14 L976.46,263.19 L976.56,263.24 L976.66,263.29 L976.76,263.34 L976.86,263.40 L976.96,263.45 L977.06,263.50 L977.16,263.55 L977.26,263.60 L977.36,263.65 L977.46,263.70 L977.56,263.75 L977.66,263.80 L977.76,263.85 L977.86,263.90 L977.96,263.95 L978.06,264.00 L978.16,264.05 L978.26,264.10 L978.36,264.15 L978.46,264.20 L978.56,264.25 L978.65,264.30 L978.75,264.35 L978.85,264.40 L978.95,264.45 L979.05,264.50 L979.15,264.55 L979.25,264.60 L979.35,264.65 L979.45,264.70 L979.55,264.75 L979.65,264.80 L979.75,264.85 L979.85,264.90 L979.95,264.95 L980.05,265.00 L980.15,265.05 L980.25,265.10 L980.35,265.15 L980.45,265.20 L980.55,265.24 L980.65,265.29 L980.75,265.34 L980.85,265.39 L980.95,265.44 L981.05,265.49 L981.15,265.54 L981.25,265.59 L981.34,265.64 L981.44,265.69 L981.54,265.74 L981.64,265.79 L981.74,265.84 L981.84,265.88 L981.94,265.93 L982.04,265.98 L982.14,266.03 L982.24,266.08 L982.34,266.13 L982.44,266.18 L982.54,266.23 L982.64,266.27 L982.74,266.32 L982.84,266.37 L982.94,266.42 L983.04,266.47 L983.14,266.52 L983.24,266.57 L983.34,266.61 L983.44,266.66 L983.54,266.71 L983.64,266.76 L983.74,266.81 L983.84,266.86 L983.93,266.91 L984.03,266.95 L984.13,267.00 L984.23,267.05 L984.33,267.10 L984.43,267.15 L984.53,267.19 L984.63,267.24 L984.73,267.29 L984.83,267.34 L984.93,267.39 L985.03,267.43 L985.13,267.48 L985.23,267.53 L985.33,267.58 L985.43,267.63 L985.53,267.67 L985.63,267.72 L985.73,267.77 L985.83,267.82 L985.93,267.86 L986.03,267.91 L986.13,267.96 L986.23,268.01 L986.33,268.06 L986.43,268.10 L986.52,268.15 L986.62,268.20 L986.72,268.25 L986.82,268.29 L986.92,268.34 L987.02,268.39 L987.12,268.43 L987.22,268.48 L987.32,268.53 L987.42,268.58 L987.52,268.62 L987.62,268.67 L987.72,268.72 L987.82,268.77 L987.92,268.81 L988.02,268.86 L988.12,268.91 L988.22,268.95 L988.32,269.00 L988.42,269.05 L988.52,269.09 L988.62,269.14 L988.72,269.19 L988.82,269.23 L988.92,269.28 L989.02,269.33 L989.11,269.37 L989.21,269.42 L989.31,269.47 L989.41,269.51 L989.51,269.56 L989.61,269.61 L989.71,269.65 L989.81,269.70 L989.91,269.75 L990.01,269.79 L990.11,269.84 L990.21,269.89 L990.31,269.93 L990.41,269.98 L990.51,270.03 L990.61,270.07 L990.71,270.12 L990.81,270.16 L990.91,270.21 L991.01,270.26 L991.11,270.30 L991.21,270.35 L991.31,270.39 L991.41,270.44 L991.51,270.49 L991.61,270.53 L991.71,270.58 L991.80,270.62 L991.90,270.67 L992.00,270.72 L992.10,270.76 L992.20,270.81 L992.30,270.85 L992.40,270.90 L992.50,270.94 L992.60,270.99 L992.70,271.04 L992.80,271.08 L992.90,271.13 L993.00,271.17 L993.10,271.22 L993.20,271.26 L993.30,271.31 L993.40,271.35 L993.50,271.40 L993.60,271.44 L993.70,271.49 L993.80,271.54 L993.90,271.58 L994.00,271.63 L994.10,271.67 L994.20,271.72 L994.30,271.76 L994.39,271.81 L994.49,271.85 L994.59,271.90 L994.69,271.94 L994.79,271.99 L994.89,272.03 L994.99,272.08 L995.09,272.12 L995.19,272.17 L995.29,272.21 L995.39,272.26 L995.49,272.30 L995.59,272.35 L995.69,272.39 L995.79,272.43 L995.89,272.48 L995.99,272.52 L996.09,272.57 L996.19,272.61 L996.29,272.66 L996.39,272.70 L996.49,272.75 L996.59,272.79 L996.69,272.84 L996.79,272.88 L996.89,272.92 L996.98,272.97 L997.08,273.01 L997.18,273.06 L997.28,273.10 L997.38,273.15 L997.48,273.19 L997.58,273.23 L997.68,273.28 L997.78,273.32 L997.88,273.37 L997.98,273.41 L998.08,273.45 L998.18,273.50 L998.28,273.54 L998.38,273.59 L998.48,273.63 L998.58,273.67 L998.68,273.72 L998.78,273.76 L998.88,273.81 L998.98,273.85 L999.08,273.89 L999.18,273.94 L999.28,273.98 L999.38,274.02 L999.48,274.07 L999.58,274.11 L999.67,274.16 L999.77,274.20 L999.87,274.24 L999.97,274.29 L1000.07,274.33 L1000.17,274.37 L1000.27,274.42 L1000.37,274.46 L1000.47,274.50 L1000.57,274.55 L1000.67,274.59 L1000.77,274.63 L1000.87,274.68 L1000.97,274.72 L1001.07,274.76 L1001.17,274.81 L1001.27,274.85 L1001.37,274.89 L1001.47,274.93 L1001.57,274.98 L1001.67,275.02 L1001.77,275.06 L1001.87,275.11 L1001.97,275.15 L1002.07,275.19 L1002.17,275.24 L1002.26,275.28 L1002.36,275.32 L1002.46,275.36 L1002.56,275.41 L1002.66,275.45 L1002.76,275.49 L1002.86,275.53 L1002.96,275.58 L1003.06,275.62 L1003.16,275.66 L1003.26,275.70 L1003.36,275.75 L1003.46,275.79 L1003.56,275.83 L1003.66,275.87 L1003.76,275.92 L1003.86,275.96 L1003.96,276.00 L1004.06,276.04 L1004.16,276.09 L1004.26,276.13 L1004.36,276.17 L1004.46,276.21 L1004.56,276.25 L1004.66,276.30 L1004.76,276.34 L1004.85,276.38 L1004.95,276.42 L1005.05,276.47 L1005.15,276.51 L1005.25,276.55 L1005.35,276.59 L1005.45,276.63 L1005.55,276.68 L1005.65,276.72 L1005.75,276.76 L1005.85,276.80 L1005.95,276.84 L1006.05,276.88 L1006.15,276.93 L1006.25,276.97 L1006.35,277.01 L1006.45,277.05 L1006.55,277.09 L1006.65,277.13 L1006.75,277.18 L1006.85,277.22 L1006.95,277.26 L1007.05,277.30 L1007.15,277.34 L1007.25,277.38 L1007.35,277.42 L1007.45,277.47 L1007.54,277.51 L1007.64,277.55 L1007.74,277.59 L1007.84,277.63 L1007.94,277.67 L1008.04,277.71 L1008.14,277.75 L1008.24,277.80 L1008.34,277.84 L1008.44,277.88 L1008.54,277.92 L1008.64,277.96 L1008.74,278.00 L1008.84,278.04 L1008.94,278.08 L1009.04,278.12 L1009.14,278.16 L1009.24,278.21 L1009.34,278.25 L1009.44,278.29 L1009.54,278.33 L1009.64,278.37 L1009.74,278.41 L1009.84,278.45 L1009.94,278.49 L1010.04,278.53 L1010.13,278.57 L1010.23,278.61 L1010.33,278.65 L1010.43,278.69 L1010.53,278.73 L1010.63,278.77 L1010.73,278.82 L1010.83,278.86 L1010.93,278.90 L1011.03,278.94 L1011.13,278.98 L1011.23,279.02 L1011.33,279.06 L1011.43,279.10 L1011.53,279.14 L1011.63,279.18 L1011.73,279.22 L1011.83,279.26 L1011.93,279.30 L1012.03,279.34 L1012.13,279.38 L1012.23,279.42 L1012.33,279.46 L1012.43,279.50 L1012.53,279.54 L1012.63,279.58 L1012.72,279.62 L1012.82,279.66 L1012.92,279.70 L1013.02,279.74 L1013.12,279.78 L1013.22,279.82 L1013.32,279.86 L1013.42,279.90 L1013.52,279.94 L1013.62,279.98 L1013.72,280.02 L1013.82,280.06 L1013.92,280.10 L1014.02,280.14 L1014.12,280.17 L1014.22,280.21 L1014.32,280.25 L1014.42,280.29 L1014.52,280.33 L1014.62,280.37 L1014.72,280.41 L1014.82,280.45 L1014.92,280.49 L1015.02,280.53 L1015.12,280.57 L1015.22,280.61 L1015.32,280.65 L1015.41,280.69 L1015.51,280.73 L1015.61,280.76 L1015.71,280.80 L1015.81,280.84 L1015.91,280.88 L1016.01,280.92 L1016.11,280.96 L1016.21,281.00 L1016.31,281.04 L1016.41,281.08 L1016.51,281.12 L1016.61,281.15 L1016.71,281.19 L1016.81,281.23 L1016.91,281.27 L1017.01,281.31 L1017.11,281.35 L1017.21,281.39 L1017.31,281.43 L1017.41,281.46 L1017.51,281.50 L1017.61,281.54 L1017.71,281.58 L1017.81,281.62 L1017.91,281.66 L1018.00,281.70 L1018.10,281.73 L1018.20,281.77 L1018.30,281.81 L1018.40,281.85 L1018.50,281.89 L1018.60,281.93 L1018.70,281.97 L1018.80,282.00 L1018.90,282.04 L1019.00,282.08 L1019.10,282.12 L1019.20,282.16 L1019.30,282.19 L1019.40,282.23 L1019.50,282.27 L1019.60,282.31 L1019.70,282.35 L1019.80,282.38 L1019.90,282.42 L1020.00,282.46 L1020.10,282.50 L1020.20,282.54 L1020.30,282.57 L1020.40,282.61 L1020.50,282.65 L1020.59,282.69 L1020.69,282.73 L1020.79,282.76 L1020.89,282.80 L1020.99,282.84 L1021.09,282.88 L1021.19,282.91 L1021.29,282.95 L1021.39,282.99 L1021.49,283.03 L1021.59,283.06 L1021.69,283.10 L1021.79,283.14 L1021.89,283.18 L1021.99,283.21 L1022.09,283.25 L1022.19,283.29 L1022.29,283.33 L1022.39,283.36 L1022.49,283.40 L1022.59,283.44 L1022.69,283.48 L1022.79,283.51 L1022.89,283.55 L1022.99,283.59 L1023.09,283.63 L1023.19,283.66 L1023.28,283.70 L1023.38,283.74 L1023.48,283.77 L1023.58,283.81 L1023.68,283.85 L1023.78,283.88 L1023.88,283.92 L1023.98,283.96 L1024.08,284.00 L1024.18,284.03 L1024.28,284.07 L1024.38,284.11 L1024.48,284.14 L1024.58,284.18 L1024.68,284.22 L1024.78,284.25 L1024.88,284.29 L1024.98,284.33 L1025.08,284.36 L1025.18,284.40 L1025.28,284.44 L1025.38,284.47 L1025.48,284.51 L1025.58,284.55 L1025.68,284.58 L1025.78,284.62 L1025.87,284.66 L1025.97,284.69 L1026.07,284.73 L1026.17,284.76 L1026.27,284.80 L1026.37,284.84 L1026.47,284.87 L1026.57,284.91 L1026.67,284.95 L1026.77,284.98 L1026.87,285.02 L1026.97,285.05 L1027.07,285.09 L1027.17,285.13 L1027.27,285.16 L1027.37,285.20 L1027.47,285.24 L1027.57,285.27 L1027.67,285.31 L1027.77,285.34 L1027.87,285.38 L1027.97,285.41 L1028.07,285.45 L1028.17,285.49 L1028.27,285.52 L1028.37,285.56 L1028.46,285.59 L1028.56,285.63 L1028.66,285.67 L1028.76,285.70 L1028.86,285.74 L1028.96,285.77 L1029.06,285.81 L1029.16,285.84 L1029.26,285.88 L1029.36,285.91 L1029.46,285.95 L1029.56,285.99 L1029.66,286.02 L1029.76,286.06 L1029.86,286.09 L1029.96,286.13 L1030.06,286.16 L1030.16,286.20 L1030.26,286.23 L1030.36,286.27 L1030.46,286.30 L1030.56,286.34 L1030.66,286.37 L1030.76,286.41 L1030.86,286.45 L1030.96,286.48 L1031.06,286.52 L1031.15,286.55 L1031.25,286.59 L1031.35,286.62 L1031.45,286.66 L1031.55,286.69 L1031.65,286.73 L1031.75,286.76 L1031.85,286.80 L1031.95,286.83 L1032.05,286.87 L1032.15,286.90 L1032.25,286.93 L1032.35,286.97 L1032.45,287.00 L1032.55,287.04 L1032.65,287.07 L1032.75,287.11 L1032.85,287.14 L1032.95,287.18 L1033.05,287.21 L1033.15,287.25 L1033.25,287.28 L1033.35,287.32 L1033.45,287.35 L1033.55,287.39 L1033.65,287.42 L1033.74,287.45 L1033.84,287.49 L1033.94,287.52 L1034.04,287.56 L1034.14,287.59 L1034.24,287.63 L1034.34,287.66 L1034.44,287.69 L1034.54,287.73 L1034.64,287.76 L1034.74,287.80 L1034.84,287.83 L1034.94,287.87 L1035.04,287.90 L1035.14,287.93 L1035.24,287.97 L1035.34,288.00 L1035.44,288.04 L1035.54,288.07 L1035.64,288.10 L1035.74,288.14 L1035.84,288.17 L1035.94,288.21 L1036.04,288.24 L1036.14,288.27 L1036.24,288.31 L1036.33,288.34 L1036.43,288.37 L1036.53,288.41 L1036.63,288.44 L1036.73,288.48 L1036.83,288.51 L1036.93,288.54 L1037.03,288.58 L1037.13,288.61 L1037.23,288.64 L1037.33,288.68 L1037.43,288.71 L1037.53,288.74 L1037.63,288.78 L1037.73,288.81 L1037.83,288.85 L1037.93,288.88 L1038.03,288.91 L1038.13,288.95 L1038.23,288.98 L1038.33,289.01 L1038.43,289.05 L1038.53,289.08 L1038.63,289.11 L1038.73,289.14 L1038.83,289.18 L1038.92,289.21 L1039.02,289.24 L1039.12,289.28 L1039.22,289.31 L1039.32,289.34 L1039.42,289.38 L1039.52,289.41 L1039.62,289.44 L1039.72,289.48 L1039.82,289.51 L1039.92,289.54 L1040.02,289.57 L1040.12,289.61 L1040.22,289.64 L1040.32,289.67 L1040.42,289.71 L1040.52,289.74 L1040.62,289.77 L1040.72,289.80 L1040.82,289.84 L1040.92,289.87 L1041.02,289.90 L1041.12,289.93 L1041.22,289.97 L1041.32,290.00 L1041.42,290.03 L1041.52,290.06 L1041.61,290.10 L1041.71,290.13 L1041.81,290.16 L1041.91,290.19 L1042.01,290.23 L1042.11,290.26 L1042.21,290.29 L1042.31,290.32 L1042.41,290.36 L1042.51,290.39 L1042.61,290.42 L1042.71,290.45 L1042.81,290.48 L1042.91,290.52 L1043.01,290.55 L1043.11,290.58 L1043.21,290.61 L1043.31,290.65 L1043.41,290.68 L1043.51,290.71 L1043.61,290.74 L1043.71,290.77 L1043.81,290.81 L1043.91,290.84 L1044.01,290.87 L1044.11,290.90 L1044.20,290.93 L1044.30,290.96 L1044.40,291.00 L1044.50,291.03 L1044.60,291.06 L1044.70,291.09 L1044.80,291.12 L1044.90,291.15 L1045.00,291.19 L1045.10,291.22 L1045.20,291.25 L1045.30,291.28 L1045.40,291.31 L1045.50,291.34 L1045.60,291.38 L1045.70,291.41 L1045.80,291.44 L1045.90,291.47 L1046.00,291.50 L1046.10,291.53 L1046.20,291.56 L1046.30,291.60 L1046.40,291.63 L1046.50,291.66 L1046.60,291.69 L1046.70,291.72 L1046.79,291.75 L1046.89,291.78 L1046.99,291.81 L1047.09,291.85 L1047.19,291.88 L1047.29,291.91 L1047.39,291.94 L1047.49,291.97 L1047.59,292.00 L1047.69,292.03 L1047.79,292.06 L1047.89,292.09 L1047.99,292.12 L1048.09,292.16 L1048.19,292.19 L1048.29,292.22 L1048.39,292.25 L1048.49,292.28 L1048.59,292.31 L1048.69,292.34 L1048.79,292.37 L1048.89,292.40 L1048.99,292.43 L1049.09,292.46 L1049.19,292.49 L1049.29,292.52 L1049.39,292.55 L1049.48,292.59 L1049.58,292.62 L1049.68,292.65 L1049.78,292.68 L1049.88,292.71 L1049.98,292.74 L1050.08,292.77 L1050.18,292.80 L1050.28,292.83 L1050.38,292.86 L1050.48,292.89 L1050.58,292.92 L1050.68,292.95 L1050.78,292.98 L1050.88,293.01 L1050.98,293.04 L1051.08,293.07 L1051.18,293.10 L1051.28,293.13 L1051.38,293.16 L1051.48,293.19 L1051.58,293.22 L1051.68,293.25 L1051.78,293.28 L1051.88,293.31 L1051.98,293.34 L1052.07,293.37 L1052.17,293.40 L1052.27,293.43 L1052.37,293.46 L1052.47,293.49 L1052.57,293.52 L1052.67,293.55 L1052.77,293.58 L1052.87,293.61 L1052.97,293.64 L1053.07,293.67 L1053.17,293.70 L1053.27,293.73 L1053.37,293.76 L1053.47,293.79 L1053.57,293.82 L1053.67,293.85 L1053.77,293.88 L1053.87,293.91 L1053.97,293.94 L1054.07,293.96 L1054.17,293.99 L1054.27,294.02 L1054.37,294.05 L1054.47,294.08 L1054.57,294.11 L1054.66,294.14 L1054.76,294.17 L1054.86,294.20 L1054.96,294.23 L1055.06,294.26 L1055.16,294.29 L1055.26,294.32 L1055.36,294.35 L1055.46,294.37 L1055.56,294.40 L1055.66,294.43 L1055.76,294.46 L1055.86,294.49 L1055.96,294.52 L1056.06,294.55 L1056.16,294.58 L1056.26,294.61 L1056.36,294.64 L1056.46,294.66 L1056.56,294.69 L1056.66,294.72 L1056.76,294.75 L1056.86,294.78 L1056.96,294.81 L1057.06,294.84 L1057.16,294.87 L1057.26,294.89 L1057.35,294.92 L1057.45,294.95 L1057.55,294.98 L1057.65,295.01 L1057.75,295.04 L1057.85,295.07 L1057.95,295.09 L1058.05,295.12 L1058.15,295.15 L1058.25,295.18 L1058.35,295.21 L1058.45,295.24 L1058.55,295.26 L1058.65,295.29 L1058.75,295.32 L1058.85,295.35 L1058.95,295.38 L1059.05,295.41 L1059.15,295.43 L1059.25,295.46 L1059.35,295.49 L1059.45,295.52 L1059.55,295.55 L1059.65,295.57 L1059.75,295.60 L1059.85,295.63 L1059.94,295.66 L1060.04,295.69 L1060.14,295.71 L1060.24,295.74 L1060.34,295.77 L1060.44,295.80 L1060.54,295.83 L1060.64,295.85 L1060.74,295.88 L1060.84,295.91 L1060.94,295.94 L1061.04,295.97 L1061.14,295.99 L1061.24,296.02 L1061.34,296.05 L1061.44,296.08 L1061.54,296.10 L1061.64,296.13 L1061.74,296.16 L1061.84,296.19 L1061.94,296.21 L1062.04,296.24 L1062.14,296.27 L1062.24,296.30 L1062.34,296.32 L1062.44,296.35 L1062.53,296.38 L1062.63,296.41 L1062.73,296.43 L1062.83,296.46 L1062.93,296.49 L1063.03,296.52 L1063.13,296.54 L1063.23,296.57 L1063.33,296.60 L1063.43,296.62 L1063.53,296.65 L1063.63,296.68 L1063.73,296.71 L1063.83,296.73 L1063.93,296.76 L1064.03,296.79 L1064.13,296.81 L1064.23,296.84 L1064.33,296.87 L1064.43,296.89 L1064.53,296.92 L1064.63,296.95 L1064.73,296.98 L1064.83,297.00 L1064.93,297.03 L1065.03,297.06 L1065.13,297.08 L1065.22,297.11 L1065.32,297.14 L1065.42,297.16 L1065.52,297.19 L1065.62,297.22 L1065.72,297.24 L1065.82,297.27 L1065.92,297.30 L1066.02,297.32 L1066.12,297.35 L1066.22,297.38 L1066.32,297.40 L1066.42,297.43 L1066.52,297.45 L1066.62,297.48 L1066.72,297.51 L1066.82,297.53 L1066.92,297.56 L1067.02,297.59 L1067.12,297.61 L1067.22,297.64 L1067.32,297.66 L1067.42,297.69 L1067.52,297.72 L1067.62,297.74 L1067.72,297.77 L1067.81,297.80 L1067.91,297.82 L1068.01,297.85 L1068.11,297.87 L1068.21,297.90 L1068.31,297.93 L1068.41,297.95 L1068.51,297.98 L1068.61,298.00 L1068.71,298.03 L1068.81,298.06 L1068.91,298.08 L1069.01,298.11 L1069.11,298.13 L1069.21,298.16 L1069.31,298.18 L1069.41,298.21 L1069.51,298.24 L1069.61,298.26 L1069.71,298.29 L1069.81,298.31 L1069.91,298.34 L1070.01,298.36 L1070.11,298.39 L1070.21,298.42 L1070.31,298.44 L1070.40,298.47 L1070.50,298.49 L1070.60,298.52 L1070.70,298.54 L1070.80,298.57 L1070.90,298.59 L1071.00,298.62 L1071.10,298.64 L1071.20,298.67 L1071.30,298.69 L1071.40,298.72 L1071.50,298.74 L1071.60,298.77 L1071.70,298.80 L1071.80,298.82 L1071.90,298.85 L1072.00,298.87 L1072.10,298.90 L1072.20,298.92 L1072.30,298.95 L1072.40,298.97 L1072.50,299.00 L1072.60,299.02 L1072.70,299.05 L1072.80,299.07 L1072.90,299.10 L1073.00,299.12 L1073.09,299.15 L1073.19,299.17 L1073.29,299.19 L1073.39,299.22 L1073.49,299.24 L1073.59,299.27 L1073.69,299.29 L1073.79,299.32 L1073.89,299.34 L1073.99,299.37 L1074.09,299.39 L1074.19,299.42 L1074.29,299.44 L1074.39,299.47 L1074.49,299.49 L1074.59,299.51 L1074.69,299.54 L1074.79,299.56 L1074.89,299.59 L1074.99,299.61 L1075.09,299.64 L1075.19,299.66 L1075.29,299.69 L1075.39,299.71 L1075.49,299.73 L1075.59,299.76 L1075.68,299.78 L1075.78,299.81 L1075.88,299.83 L1075.98,299.85 L1076.08,299.88 L1076.18,299.90 L1076.28,299.93 L1076.38,299.95 L1076.48,299.97 L1076.58,300.00 L1076.68,300.02 L1076.78,300.05 L1076.88,300.07 L1076.98,300.09 L1077.08,300.12 L1077.18,300.14 L1077.28,300.17 L1077.38,300.19 L1077.48,300.21 L1077.58,300.24 L1077.68,300.26 L1077.78,300.28 L1077.88,300.31 L1077.98,300.33 L1078.08,300.36 L1078.18,300.38 L1078.27,300.40 L1078.37,300.43 L1078.47,300.45 L1078.57,300.47 L1078.67,300.50 L1078.77,300.52 L1078.87,300.54 L1078.97,300.57 L1079.07,300.59 L1079.17,300.61 L1079.27,300.64 L1079.37,300.66 L1079.47,300.68 L1079.57,300.71 L1079.67,300.73 L1079.77,300.75 L1079.87,300.78 L1079.97,300.80 L1080.07,300.82 L1080.17,300.85 L1080.27,300.87 L1080.37,300.89 L1080.47,300.92 L1080.57,300.94 L1080.67,300.96 L1080.77,300.98 L1080.87,301.01 L1080.96,301.03 L1081.06,301.05 L1081.16,301.08 L1081.26,301.10 L1081.36,301.12 L1081.46,301.14 L1081.56,301.17 L1081.66,301.19 L1081.76,301.21 L1081.86,301.23 L1081.96,301.26 L1082.06,301.28 L1082.16,301.30 L1082.26,301.33 L1082.36,301.35 L1082.46,301.37 L1082.56,301.39 L1082.66,301.42 L1082.76,301.44 L1082.86,301.46 L1082.96,301.48 L1083.06,301.51 L1083.16,301.53 L1083.26,301.55 L1083.36,301.57 L1083.46,301.59 L1083.55,301.62 L1083.65,301.64 L1083.75,301.66 L1083.85,301.68 L1083.95,301.71 L1084.05,301.73 L1084.15,301.75 L1084.25,301.77 L1084.35,301.79 L1084.45,301.82 L1084.55,301.84 L1084.65,301.86 L1084.75,301.88 L1084.85,301.90 L1084.95,301.93 L1085.05,301.95 L1085.15,301.97 L1085.25,301.99 L1085.35,302.01 L1085.45,302.04 L1085.55,302.06 L1085.65,302.08 L1085.75,302.10 L1085.85,302.12 L1085.95,302.14 L1086.05,302.17 L1086.14,302.19 L1086.24,302.21 L1086.34,302.23 L1086.44,302.25 L1086.54,302.27 L1086.64,302.29 L1086.74,302.32 L1086.84,302.34 L1086.94,302.36 L1087.04,302.38 L1087.14,302.40 L1087.24,302.42 L1087.34,302.44 L1087.44,302.47 L1087.54,302.49 L1087.64,302.51 L1087.74,302.53 L1087.84,302.55 L1087.94,302.57 L1088.04,302.59 L1088.14,302.61 L1088.24,302.64 L1088.34,302.66 L1088.44,302.68 L1088.54,302.70 L1088.64,302.72 L1088.73,302.74 L1088.83,302.76 L1088.93,302.78 L1089.03,302.80 L1089.13,302.82 L1089.23,302.85 L1089.33,302.87 L1089.43,302.89 L1089.53,302.91 L1089.63,302.93 L1089.73,302.95 L1089.83,302.97 L1089.93,302.99 L1090.03,303.01 L1090.13,303.03 L1090.23,303.05 L1090.33,303.07 L1090.43,303.09 L1090.53,303.11 L1090.63,303.13 L1090.73,303.15 L1090.83,303.18 L1090.93,303.20 L1091.03,303.22 L1091.13,303.24 L1091.23,303.26 L1091.33,303.28 L1091.42,303.30 L1091.52,303.32 L1091.62,303.34 L1091.72,303.36 L1091.82,303.38 L1091.92,303.40 L1092.02,303.42 L1092.12,303.44 L1092.22,303.46 L1092.32,303.48 L1092.42,303.50 L1092.52,303.52 L1092.62,303.54 L1092.72,303.56 L1092.82,303.58 L1092.92,303.60 L1093.02,303.62 L1093.12,303.64 L1093.22,303.66 L1093.32,303.68 L1093.42,303.70 L1093.52,303.72 L1093.62,303.74 L1093.72,303.76 L1093.82,303.78 L1093.92,303.80 L1094.01,303.82 L1094.11,303.84 L1094.21,303.86 L1094.31,303.88 L1094.41,303.89 L1094.51,303.91 L1094.61,303.93 L1094.71,303.95 L1094.81,303.97 L1094.91,303.99 L1095.01,304.01 L1095.11,304.03 L1095.21,304.05 L1095.31,304.07 L1095.41,304.09 L1095.51,304.11 L1095.61,304.13 L1095.71,304.15 L1095.81,304.17 L1095.91,304.18 L1096.01,304.20 L1096.11,304.22 L1096.21,304.24 L1096.31,304.26 L1096.41,304.28 L1096.51,304.30 L1096.60,304.32 L1096.70,304.34 L1096.80,304.36 L1096.90,304.37 L1097.00,304.39 L1097.10,304.41 L1097.20,304.43 L1097.30,304.45 L1097.40,304.47 L1097.50,304.49 L1097.60,304.51 L1097.70,304.53 L1097.80,304.54 L1097.90,304.56 L1098.00,304.58 L1098.10,304.60 L1098.20,304.62 L1098.30,304.64 L1098.40,304.66 L1098.50,304.67 L1098.60,304.69 L1098.70,304.71 L1098.80,304.73 L1098.90,304.75 L1099.00,304.77 L1099.10,304.78 L1099.20,304.80 L1099.29,304.82 L1099.39,304.84 L1099.49,304.86 L1099.59,304.88 L1099.69,304.89 L1099.79,304.91 L1099.89,304.93 L1099.99,304.95 L1100.09,304.97 L1100.19,304.98 L1100.29,305.00 L1100.39,305.02 L1100.49,305.04 L1100.59,305.06 L1100.69,305.07 L1100.79,305.09 L1100.89,305.11 L1100.99,305.13 L1101.09,305.15 L1101.19,305.16 L1101.29,305.18 L1101.39,305.20 L1101.49,305.22 L1101.59,305.23 L1101.69,305.25 L1101.79,305.27 L1101.88,305.29 L1101.98,305.30 L1102.08,305.32 L1102.18,305.34 L1102.28,305.36 L1102.38,305.37 L1102.48,305.39 L1102.58,305.41 L1102.68,305.43 L1102.78,305.44 L1102.88,305.46 L1102.98,305.48 L1103.08,305.50 L1103.18,305.51 L1103.28,305.53 L1103.38,305.55 L1103.48,305.56 L1103.58,305.58 L1103.68,305.60 L1103.78,305.62 L1103.88,305.63 L1103.98,305.65 L1104.08,305.67 L1104.18,305.68 L1104.28,305.70 L1104.38,305.72 L1104.47,305.74 L1104.57,305.75 L1104.67,305.77 L1104.77,305.79 L1104.87,305.80 L1104.97,305.82 L1105.07,305.84 L1105.17,305.85 L1105.27,305.87 L1105.37,305.89 L1105.47,305.90 L1105.57,305.92 L1105.67,305.94 L1105.77,305.95 L1105.87,305.97 L1105.97,305.99 L1106.07,306.00 L1106.17,306.02 L1106.27,306.04 L1106.37,306.05 L1106.47,306.07 L1106.57,306.08 L1106.67,306.10 L1106.77,306.12 L1106.87,306.13 L1106.97,306.15 L1107.07,306.17 L1107.16,306.18 L1107.26,306.20 L1107.36,306.21 L1107.46,306.23 L1107.56,306.25 L1107.66,306.26 L1107.76,306.28 L1107.86,306.29 L1107.96,306.31 L1108.06,306.33 L1108.16,306.34 L1108.26,306.36 L1108.36,306.37 L1108.46,306.39 L1108.56,306.41 L1108.66,306.42 L1108.76,306.44 L1108.86,306.45 L1108.96,306.47 L1109.06,306.48 L1109.16,306.50 L1109.26,306.52 L1109.36,306.53 L1109.46,306.55 L1109.56,306.56 L1109.66,306.58 L1109.75,306.59 L1109.85,306.61 L1109.95,306.62 L1110.05,306.64 L1110.15,306.65 L1110.25,306.67 L1110.35,306.69 L1110.45,306.70 L1110.55,306.72 L1110.65,306.73 L1110.75,306.75 L1110.85,306.76 L1110.95,306.78 L1111.05,306.79 L1111.15,306.81 L1111.25,306.82 L1111.35,306.84 L1111.45,306.85 L1111.55,306.87 L1111.65,306.88 L1111.75,306.90 L1111.85,306.91 L1111.95,306.93 L1112.05,306.94 L1112.15,306.96 L1112.25,306.97 L1112.34,306.99 L1112.44,307.00 L1112.54,307.02 L1112.64,307.03 L1112.74,307.04 L1112.84,307.06 L1112.94,307.07 L1113.04,307.09 L1113.14,307.10 L1113.24,307.12 L1113.34,307.13 L1113.44,307.15 L1113.54,307.16 L1113.64,307.18 L1113.74,307.19 L1113.84,307.20 L1113.94,307.22 L1114.04,307.23 L1114.14,307.25 L1114.24,307.26 L1114.34,307.28 L1114.44,307.29 L1114.54,307.30 L1114.64,307.32 L1114.74,307.33 L1114.84,307.35 L1114.94,307.36 L1115.03,307.37 L1115.13,307.39 L1115.23,307.40 L1115.33,307.42 L1115.43,307.43 L1115.53,307.44 L1115.63,307.46 L1115.73,307.47 L1115.83,307.49 L1115.93,307.50 L1116.03,307.51 L1116.13,307.53 L1116.23,307.54 L1116.33,307.55 L1116.43,307.57 L1116.53,307.58 L1116.63,307.59 L1116.73,307.61 L1116.83,307.62 L1116.93,307.63 L1117.03,307.65 L1117.13,307.66 L1117.23,307.67 L1117.33,307.69 L1117.43,307.70 L1117.53,307.71 L1117.62,307.73 L1117.72,307.74 L1117.82,307.75 L1117.92,307.77 L1118.02,307.78 L1118.12,307.79 L1118.22,307.81 L1118.32,307.82 L1118.42,307.83 L1118.52,307.85 L1118.62,307.86 L1118.72,307.87 L1118.82,307.89 L1118.92,307.90 L1119.02,307.91 L1119.12,307.92 L1119.22,307.94 L1119.32,307.95 L1119.42,307.96 L1119.52,307.97 L1119.62,307.99 L1119.72,308.00 L1119.82,308.01 L1119.92,308.03 L1120.02,308.04 L1120.12,308.05 L1120.21,308.06 L1120.31,308.08 L1120.41,308.09 L1120.51,308.10 L1120.61,308.11 L1120.71,308.12 L1120.81,308.14 L1120.91,308.15 L1121.01,308.16 L1121.11,308.17 L1121.21,308.19 L1121.31,308.20 L1121.41,308.21 L1121.51,308.22 L1121.61,308.23 L1121.71,308.25 L1121.81,308.26 L1121.91,308.27 L1122.01,308.28 L1122.11,308.29 L1122.21,308.31 L1122.31,308.32 L1122.41,308.33 L1122.51,308.34 L1122.61,308.35 L1122.71,308.37 L1122.81,308.38 L1122.90,308.39 L1123.00,308.40 L1123.10,308.41 L1123.20,308.42 L1123.30,308.44 L1123.40,308.45 L1123.50,308.46 L1123.60,308.47 L1123.70,308.48 L1123.80,308.49 L1123.90,308.50 L1124.00,308.52 L1124.10,308.53 L1124.20,308.54 L1124.30,308.55 L1124.40,308.56 L1124.50,308.57 L1124.60,308.58 L1124.70,308.59 L1124.80,308.61 L1124.90,308.62 L1125.00,308.63 L1125.10,308.64 L1125.20,308.65 L1125.30,308.66 L1125.40,308.67 L1125.49,308.68 L1125.59,308.69 L1125.69,308.70 L1125.79,308.72 L1125.89,308.73 L1125.99,308.74 L1126.09,308.75 L1126.19,308.76 L1126.29,308.77 L1126.39,308.78 L1126.49,308.79 L1126.59,308.80 L1126.69,308.81 L1126.79,308.82 L1126.89,308.83 L1126.99,308.84 L1127.09,308.85 L1127.19,308.86 L1127.29,308.87 L1127.39,308.88 L1127.49,308.89 L1127.59,308.91 L1127.69,308.92 L1127.79,308.93 L1127.89,308.94 L1127.99,308.95 L1128.08,308.96 L1128.18,308.97 L1128.28,308.98 L1128.38,308.99 L1128.48,309.00 L1128.58,309.01 L1128.68,309.02 L1128.78,309.03 L1128.88,309.04 L1128.98,309.05 L1129.08,309.06 L1129.18,309.07 L1129.28,309.07 L1129.38,309.08 L1129.48,309.09 L1129.58,309.10 L1129.68,309.11 L1129.78,309.12 L1129.88,309.13 L1129.98,309.14 L1130.08,309.15 L1130.18,309.16 L1130.28,309.17 L1130.38,309.18 L1130.48,309.19 L1130.58,309.20 L1130.67,309.21 L1130.77,309.22 L1130.87,309.23 L1130.97,309.24 L1131.07,309.24 L1131.17,309.25 L1131.27,309.26 L1131.37,309.27 L1131.47,309.28 L1131.57,309.29 L1131.67,309.30 L1131.77,309.31 L1131.87,309.32 L1131.97,309.33 L1132.07,309.33 L1132.17,309.34 L1132.27,309.35 L1132.37,309.36 L1132.47,309.37 L1132.57,309.38 L1132.67,309.39 L1132.77,309.40 L1132.87,309.40 L1132.97,309.41 L1133.07,309.42 L1133.17,309.43 L1133.27,309.44 L1133.36,309.45 L1133.46,309.45 L1133.56,309.46 L1133.66,309.47 L1133.76,309.48 L1133.86,309.49 L1133.96,309.50 L1134.06,309.50 L1134.16,309.51 L1134.26,309.52 L1134.36,309.53 L1134.46,309.54 L1134.56,309.54 L1134.66,309.55 L1134.76,309.56 L1134.86,309.57 L1134.96,309.58 L1135.06,309.58 L1135.16,309.59 L1135.26,309.60 L1135.36,309.61 L1135.46,309.62 L1135.56,309.62 L1135.66,309.63 L1135.76,309.64 L1135.86,309.65 L1135.95,309.65 L1136.05,309.66 L1136.15,309.67 L1136.25,309.68 L1136.35,309.68 L1136.45,309.69 L1136.55,309.70 L1136.65,309.71 L1136.75,309.71 L1136.85,309.72 L1136.95,309.73 L1137.05,309.73 L1137.15,309.74 L1137.25,309.75 L1137.35,309.76 L1137.45,309.76 L1137.55,309.77 L1137.65,309.78 L1137.75,309.78 L1137.85,309.79 L1137.95,309.80 L1138.05,309.80 L1138.15,309.81 L1138.25,309.82 L1138.35,309.82 L1138.45,309.83 L1138.54,309.84 L1138.64,309.84 L1138.74,309.85 L1138.84,309.86 L1138.94,309.86 L1139.04,309.87 L1139.14,309.88 L1139.24,309.88 L1139.34,309.89 L1139.44,309.90 L1139.54,309.90 L1139.64,309.91 L1139.74,309.91 L1139.84,309.92 L1139.94,309.93 L1140.04,309.93 L1140.14,309.94 L1140.24,309.94 L1140.34,309.95 L1140.44,309.96 L1140.54,309.96 L1140.64,309.97 L1140.74,309.97 L1140.84,309.98 L1140.94,309.99 L1141.04,309.99 L1141.14,310.00 L1141.23,310.00 L1141.33,310.01 L1141.43,310.01 L1141.53,310.02 L1141.63,310.03 L1141.73,310.03 L1141.83,310.04 L1141.93,310.04 L1142.03,310.05 L1142.13,310.05 L1142.23,310.06 L1142.33,310.06 L1142.43,310.07 L1142.53,310.07 L1142.63,310.08 L1142.73,310.08 L1142.83,310.09 L1142.93,310.09 L1143.03,310.10 L1143.13,310.10 L1143.23,310.11 L1143.33,310.11 L1143.43,310.12 L1143.53,310.12 L1143.63,310.13 L1143.73,310.13 L1143.82,310.14 L1143.92,310.14 L1144.02,310.15 L1144.12,310.15 L1144.22,310.16 L1144.32,310.16 L1144.42,310.17 L1144.52,310.17 L1144.62,310.18 L1144.72,310.18 L1144.82,310.18 L1144.92,310.19 L1145.02,310.19 L1145.12,310.20 L1145.22,310.20 L1145.32,310.21 L1145.42,310.21 L1145.52,310.21 L1145.62,310.22 L1145.72,310.22 L1145.82,310.23 L1145.92,310.23 L1146.02,310.23 L1146.12,310.24 L1146.22,310.24 L1146.32,310.25 L1146.41,310.25 L1146.51,310.25 L1146.61,310.26 L1146.71,310.26 L1146.81,310.26 L1146.91,310.27 L1147.01,310.27 L1147.11,310.27 L1147.21,310.28 L1147.31,310.28 L1147.41,310.28 L1147.51,310.29 L1147.61,310.29 L1147.71,310.29 L1147.81,310.30 L1147.91,310.30 L1148.01,310.30 L1148.11,310.31 L1148.21,310.31 L1148.31,310.31 L1148.41,310.32 L1148.51,310.32 L1148.61,310.32 L1148.71,310.32 L1148.81,310.33 L1148.91,310.33 L1149.01,310.33 L1149.10,310.34 L1149.20,310.34 L1149.30,310.34 L1149.40,310.34 L1149.50,310.35 L1149.60,310.35 L1149.70,310.35 L1149.80,310.35 L1149.90,310.36 L1150.00,310.36 L1150.10,310.36 L1150.20,310.36 L1150.30,310.37 L1150.40,310.37 L1150.50,310.37 L1150.60,310.37 L1150.70,310.37 L1150.80,310.38 L1150.90,310.38 L1151.00,310.38 L1151.10,310.38 L1151.20,310.38 L1151.30,310.39 L1151.40,310.39 L1151.50,310.39 L1151.60,310.39 L1151.69,310.39 L1151.79,310.39 L1151.89,310.40 L1151.99,310.40 L1152.09,310.40 L1152.19,310.40 L1152.29,310.40 L1152.39,310.40 L1152.49,310.40 L1152.59,310.41 L1152.69,310.41 L1152.79,310.41 L1152.89,310.41 L1152.99,310.41 L1153.09,310.41 L1153.19,310.41 L1153.29,310.41 L1153.39,310.41 L1153.49,310.42 L1153.59,310.42 L1153.69,310.42 L1153.79,310.42 L1153.89,310.42 L1153.99,310.42 L1154.09,310.42 L1154.19,310.42 L1154.28,310.42 L1154.38,310.42 L1154.48,310.42 L1154.58,310.42 L1154.68,310.42 L1154.78,310.42 L1154.88,310.42 L1154.98,310.42 L1155.08,310.42 L1155.18,310.42 L1155.28,310.42 L1155.38,310.42 L1155.48,310.42 L1155.58,310.42 L1155.68,310.42 L1155.78,310.42 L1155.88,310.42 L1155.98,310.42 L1156.08,310.42 L1156.18,310.42 L1156.28,310.42 L1156.38,310.42 L1156.48,310.42 L1156.58,310.42 L1156.68,310.42 L1156.78,310.42 L1156.88,310.42 L1156.97,310.42 L1157.07,310.42 L1157.17,310.42 L1157.27,310.42 L1157.37,310.42 L1157.47,310.42 L1157.57,310.42 L1157.67,310.42 L1157.77,310.41 L1157.87,310.41 L1157.97,310.41 L1158.07,310.41 L1158.17,310.41 L1158.27,310.41 L1158.37,310.41 L1158.47,310.41 L1158.57,310.40 L1158.67,310.40 L1158.77,310.40 L1158.87,310.40 L1158.97,310.40 L1159.07,310.40 L1159.17,310.40 L1159.27,310.39 L1159.37,310.39 L1159.47,310.39 L1159.56,310.39 L1159.66,310.39 L1159.76,310.39 L1159.86,310.38 L1159.96,310.38 L1160.06,310.38 L1160.16,310.38 L1160.26,310.38 L1160.36,310.37 L1160.46,310.37 L1160.56,310.37 L1160.66,310.37 L1160.76,310.36 L1160.86,310.36 L1160.96,310.36 L1161.06,310.36 L1161.16,310.35 L1161.26,310.35 L1161.36,310.35 L1161.46,310.35 L1161.56,310.34 L1161.66,310.34 L1161.76,310.34 L1161.86,310.34 L1161.96,310.33 L1162.06,310.33 L1162.15,310.33 L1162.25,310.32 L1162.35,310.32 L1162.45,310.32 L1162.55,310.31 L1162.65,310.31 L1162.75,310.31 L1162.85,310.30 L1162.95,310.30 L1163.05,310.30 L1163.15,310.29 L1163.25,310.29 L1163.35,310.29 L1163.45,310.28 L1163.55,310.28 L1163.65,310.28 L1163.75,310.27 L1163.85,310.27 L1163.95,310.26 L1164.05,310.26 L1164.15,310.26 L1164.25,310.25 L1164.35,310.25 L1164.45,310.24 L1164.55,310.24 L1164.65,310.24 L1164.75,310.23 L1164.84,310.23 L1164.94,310.22 L1165.04,310.22 L1165.14,310.21 L1165.24,310.21 L1165.34,310.21 L1165.44,310.20 L1165.54,310.20 L1165.64,310.19 L1165.74,310.19 L1165.84,310.18 L1165.94,310.18 L1166.04,310.17 L1166.14,310.17 L1166.24,310.16 L1166.34,310.16 L1166.44,310.15 L1166.54,310.15 L1166.64,310.14 L1166.74,310.14 L1166.84,310.13 L1166.94,310.12 L1167.04,310.12 L1167.14,310.11 L1167.24,310.11 L1167.34,310.10 L1167.43,310.10 L1167.53,310.09 L1167.63,310.09 L1167.73,310.08 L1167.83,310.07 L1167.93,310.07 L1168.03,310.06 L1168.13,310.06 L1168.23,310.05 L1168.33,310.04 L1168.43,310.04 L1168.53,310.03 L1168.63,310.02 L1168.73,310.02 L1168.83,310.01 L1168.93,310.01 L1169.03,310.00 L1169.13,309.99 L1169.23,309.99 L1169.33,309.98 L1169.43,309.97 L1169.53,309.97 L1169.63,309.96 L1169.73,309.95 L1169.83,309.94 L1169.93,309.94 L1170.02,309.93 L1170.12,309.92 L1170.22,309.92 L1170.32,309.91 L1170.42,309.90 L1170.52,309.89 L1170.62,309.89 L1170.72,309.88 L1170.82,309.87 L1170.92,309.86 L1171.02,309.86 L1171.12,309.85 L1171.22,309.84 L1171.32,309.83 L1171.42,309.83 L1171.52,309.82 L1171.62,309.81 L1171.72,309.80 L1171.82,309.79 L1171.92,309.79 L1172.02,309.78 L1172.12,309.77 L1172.22,309.76 L1172.32,309.75 L1172.42,309.74 L1172.52,309.74 L1172.62,309.73 L1172.71,309.72 L1172.81,309.71 L1172.91,309.70 L1173.01,309.69 L1173.11,309.68 L1173.21,309.67 L1173.31,309.66 L1173.41,309.66 L1173.51,309.65 L1173.61,309.64 L1173.71,309.63 L1173.81,309.62 L1173.91,309.61 L1174.01,309.60 L1174.11,309.59 L1174.21,309.58 L1174.31,309.57 L1174.41,309.56 L1174.51,309.55 L1174.61,309.54 L1174.71,309.53 L1174.81,309.52 L1174.91,309.51 L1175.01,309.50 L1175.11,309.49 L1175.21,309.48 L1175.30,309.47 L1175.40,309.46 L1175.50,309.45 L1175.60,309.44 L1175.70,309.43 L1175.80,309.42 L1175.90,309.41 L1176.00,309.40 L1176.10,309.39 L1176.20,309.38 L1176.30,309.37 L1176.40,309.36 L1176.50,309.35 L1176.60,309.33 L1176.70,309.32 L1176.80,309.31 L1176.90,309.30 L1177.00,309.29 L1177.10,309.28 L1177.20,309.27 L1177.30,309.26 L1177.40,309.24 L1177.50,309.23 L1177.60,309.22 L1177.70,309.21 L1177.80,309.20 L1177.89,309.19 L1177.99,309.17 L1178.09,309.16 L1178.19,309.15 L1178.29,309.14 L1178.39,309.13 L1178.49,309.11 L1178.59,309.10 L1178.69,309.09 L1178.79,309.08 L1178.89,309.06 L1178.99,309.05 L1179.09,309.04 L1179.19,309.03 L1179.29,309.01 L1179.39,309.00 L1179.49,308.99 L1179.59,308.97 L1179.69,308.96 L1179.79,308.95 L1179.89,308.93 L1179.99,308.92 L1180.09,308.91 L1180.19,308.89 L1180.29,308.88 L1180.39,308.87 L1180.49,308.85 L1180.58,308.84 L1180.68,308.83 L1180.78,308.81 L1180.88,308.80 L1180.98,308.79 L1181.08,308.77 L1181.18,308.76 L1181.28,308.74 L1181.38,308.73 L1181.48,308.71 L1181.58,308.70 L1181.68,308.69 L1181.78,308.67 L1181.88,308.66 L1181.98,308.64 L1182.08,308.63 L1182.18,308.61 L1182.28,308.60 L1182.38,308.58 L1182.48,308.57 L1182.58,308.55 L1182.68,308.54 L1182.78,308.52 L1182.88,308.51 L1182.98,308.49 L1183.08,308.48 L1183.17,308.46 L1183.27,308.44 L1183.37,308.43 L1183.47,308.41 L1183.57,308.40 L1183.67,308.38 L1183.77,308.37 L1183.87,308.35 L1183.97,308.33 L1184.07,308.32 L1184.17,308.30 L1184.27,308.28 L1184.37,308.27 L1184.47,308.25 L1184.57,308.24 L1184.67,308.22 L1184.77,308.20 L1184.87,308.18 L1184.97,308.17 L1185.07,308.15 L1185.17,308.13 L1185.27,308.12 L1185.37,308.10 L1185.47,308.08 L1185.57,308.06 L1185.67,308.05 L1185.76,308.03 L1185.86,308.01 L1185.96,307.99 L1186.06,307.98 L1186.16,307.96 L1186.26,307.94 L1186.36,307.92 L1186.46,307.91 L1186.56,307.89 L1186.66,307.87 L1186.76,307.85 L1186.86,307.83 L1186.96,307.81 L1187.06,307.79 L1187.16,307.78 L1187.26,307.76 L1187.36,307.74 L1187.46,307.72 L1187.56,307.70 L1187.66,307.68 L1187.76,307.66 L1187.86,307.64 L1187.96,307.62 L1188.06,307.60 L1188.16,307.59 L1188.26,307.57 L1188.35,307.55 L1188.45,307.53 L1188.55,307.51 L1188.65,307.49 L1188.75,307.47 L1188.85,307.45 L1188.95,307.43 L1189.05,307.41 L1189.15,307.39 L1189.25,307.37 L1189.35,307.34 L1189.45,307.32 L1189.55,307.30 L1189.65,307.28 L1189.75,307.26 L1189.85,307.24 L1189.95,307.22 L1190.05,307.20 L1190.15,307.18 L1190.25,307.16 L1190.35,307.14 L1190.45,307.11 L1190.55,307.09 L1190.65,307.07 L1190.75,307.05 L1190.85,307.03 L1190.95,307.01 L1191.04,306.98 L1191.14,306.96 L1191.24,306.94 L1191.34,306.92 L1191.44,306.89 L1191.54,306.87 L1191.64,306.85 L1191.74,306.83 L1191.84,306.80 L1191.94,306.78 L1192.04,306.76 L1192.14,306.73 L1192.24,306.71 L1192.34,306.69 L1192.44,306.67 L1192.54,306.64 L1192.64,306.62 L1192.74,306.59 L1192.84,306.57 L1192.94,306.55 L1193.04,306.52 L1193.14,306.50 L1193.24,306.48 L1193.34,306.45 L1193.44,306.43 L1193.54,306.40 L1193.63,306.38 L1193.73,306.35 L1193.83,306.33 L1193.93,306.30 L1194.03,306.28 L1194.13,306.25 L1194.23,306.23 L1194.33,306.20 L1194.43,306.18 L1194.53,306.15 L1194.63,306.13 L1194.73,306.10 L1194.83,306.08 L1194.93,306.05 L1195.03,306.02 L1195.13,306.00 L1195.23,305.97 L1195.33,305.95 L1195.43,305.92 L1195.53,305.89 L1195.63,305.87 L1195.73,305.84 L1195.83,305.81 L1195.93,305.79 L1196.03,305.76 L1196.13,305.73 L1196.22,305.71 L1196.32,305.68 L1196.42,305.65 L1196.52,305.62 L1196.62,305.60 L1196.72,305.57 L1196.82,305.54 L1196.92,305.51 L1197.02,305.49 L1197.12,305.46 L1197.22,305.43 L1197.32,305.40 L1197.42,305.37 L1197.52,305.34 L1197.62,305.32 L1197.72,305.29 L1197.82,305.26 L1197.92,305.23 L1198.02,305.20 L1198.12,305.17 L1198.22,305.14 L1198.32,305.11 L1198.42,305.08 L1198.52,305.05 L1198.62,305.02 L1198.72,304.99 L1198.82,304.96 L1198.91,304.93 L1199.01,304.90 L1199.11,304.87 L1199.21,304.84 L1199.31,304.81 L1199.41,304.78 L1199.51,304.75 L1199.61,304.72 L1199.71,304.69 L1199.81,304.66 L1199.91,304.63 L1200.01,304.59 L1200.11,304.56 L1200.21,304.53 L1200.31,304.50 L1200.41,304.47 L1200.51,304.44 L1200.61,304.40 L1200.71,304.37 L1200.81,304.34 L1200.91,304.31 L1201.01,304.27 L1201.11,304.24 L1201.21,304.21 L1201.31,304.17 L1201.41,304.14 L1201.50,304.11 L1201.60,304.07 L1201.70,304.04 L1201.80,304.01 L1201.90,303.97 L1202.00,303.94 L1202.10,303.91 L1202.20,303.87 L1202.30,303.84 L1202.40,303.80 L1202.50,303.77 L1202.60,303.73 L1202.70,303.70 L1202.80,303.66 L1202.90,303.63 L1203.00,303.59 L1203.10,303.56 L1203.20,303.52 L1203.30,303.49 L1203.40,303.45 L1203.50,303.42 L1203.60,303.38 L1203.70,303.34 L1203.80,303.31 L1203.90,303.27 L1204.00,303.23 L1204.09,303.20 L1204.19,303.16 L1204.29,303.12 L1204.39,303.09 L1204.49,303.05 L1204.59,303.01 L1204.69,302.97 L1204.79,302.94 L1204.89,302.90 L1204.99,302.86 L1205.09,302.82 L1205.19,302.78 L1205.29,302.75 L1205.39,302.71 L1205.49,302.67 L1205.59,302.63 L1205.69,302.59 L1205.79,302.55 L1205.89,302.51 L1205.99,302.47 L1206.09,302.43 L1206.19,302.39 L1206.29,302.35 L1206.39,302.31 L1206.49,302.27 L1206.59,302.23 L1206.69,302.19 L1206.78,302.15 L1206.88,302.11 L1206.98,302.07 L1207.08,302.03 L1207.18,301.99 L1207.28,301.95 L1207.38,301.91 L1207.48,301.86 L1207.58,301.82 L1207.68,301.78 L1207.78,301.74 L1207.88,301.69 L1207.98,301.65 L1208.08,301.61 L1208.18,301.57 L1208.28,301.52 L1208.38,301.48 L1208.48,301.44 L1208.58,301.39 L1208.68,301.35 L1208.78,301.31 L1208.88,301.26 L1208.98,301.22 L1209.08,301.17 L1209.18,301.13 L1209.28,301.08 L1209.37,301.04 L1209.47,300.99 L1209.57,300.95 L1209.67,300.90 L1209.77,300.86 L1209.87,300.81 L1209.97,300.77 L1210.07,300.72 L1210.17,300.67 L1210.27,300.63 L1210.37,300.58 L1210.47,300.53 L1210.57,300.49 L1210.67,300.44 L1210.77,300.39 L1210.87,300.35 L1210.97,300.30 L1211.07,300.25 L1211.17,300.20 L1211.27,300.15 L1211.37,300.11 L1211.47,300.06 L1211.57,300.01 L1211.67,299.96 L1211.77,299.91 L1211.87,299.86 L1211.96,299.81 L1212.06,299.76 L1212.16,299.71 L1212.26,299.66 L1212.36,299.61 L1212.46,299.56 L1212.56,299.51 L1212.66,299.46 L1212.76,299.41 L1212.86,299.36 L1212.96,299.31 L1213.06,299.25 L1213.16,299.20 L1213.26,299.15 L1213.36,299.10 L1213.46,299.04 L1213.56,298.99 L1213.66,298.94 L1213.76,298.89 L1213.86,298.83 L1213.96,298.78 L1214.06,298.73 L1214.16,298.67 L1214.26,298.62 L1214.36,298.56 L1214.46,298.51 L1214.56,298.45 L1214.65,298.40 L1214.75,298.34 L1214.85,298.29 L1214.95,298.23 L1215.05,298.18 L1215.15,298.12 L1215.25,298.06 L1215.35,298.01 L1215.45,297.95 L1215.55,297.89 L1215.65,297.84 L1215.75,297.78 L1215.85,297.72 L1215.95,297.66 L1216.05,297.60 L1216.15,297.55 L1216.25,297.49 L1216.35,297.43 L1216.45,297.37 L1216.55,297.31 L1216.65,297.25 L1216.75,297.19 L1216.85,297.13 L1216.95,297.07 L1217.05,297.01 L1217.15,296.95 L1217.24,296.89 L1217.34,296.83 L1217.44,296.77 L1217.54,296.70 L1217.64,296.64 L1217.74,296.58 L1217.84,296.52 L1217.94,296.45 L1218.04,296.39 L1218.14,296.33 L1218.24,296.26 L1218.34,296.20 L1218.44,296.14 L1218.54,296.07 L1218.64,296.01 L1218.74,295.94 L1218.84,295.88 L1218.94,295.81 L1219.04,295.75 L1219.14,295.68 L1219.24,295.62 L1219.34,295.55 L1219.44,295.48 L1219.54,295.41 L1219.64,295.35 L1219.74,295.28 L1219.83,295.21 L1219.93,295.14 L1220.03,295.08 L1220.13,295.01 L1220.23,294.94 L1220.33,294.87 L1220.43,294.80 L1220.53,294.73 L1220.63,294.66 L1220.73,294.59 L1220.83,294.52 L1220.93,294.45 L1221.03,294.38 L1221.13,294.30 L1221.23,294.23 L1221.33,294.16 L1221.43,294.09 L1221.53,294.01 L1221.63,293.94 L1221.73,293.87 L1221.83,293.79 L1221.93,293.72 L1222.03,293.65 L1222.13,293.57 L1222.23,293.50 L1222.33,293.42 L1222.43,293.34 L1222.52,293.27 L1222.62,293.19 L1222.72,293.12 L1222.82,293.04 L1222.92,292.96 L1223.02,292.88 L1223.12,292.81 L1223.22,292.73 L1223.32,292.65 L1223.42,292.57 L1223.52,292.49 L1223.62,292.41 L1223.72,292.33 L1223.82,292.25 L1223.92,292.17 L1224.02,292.09 L1224.12,292.01 L1224.22,291.92 L1224.32,291.84 L1224.42,291.76 L1224.52,291.68 L1224.62,291.59 L1224.72,291.51 L1224.82,291.42 L1224.92,291.34 L1225.02,291.25 L1225.11,291.17 L1225.21,291.08 L1225.31,291.00 L1225.41,290.91 L1225.51,290.82 L1225.61,290.74 L1225.71,290.65 L1225.81,290.56 L1225.91,290.47 L1226.01,290.38 L1226.11,290.29 L1226.21,290.20 L1226.31,290.11 L1226.41,290.02 L1226.51,289.93 L1226.61,289.84 L1226.71,289.75 L1226.81,289.66 L1226.91,289.56 L1227.01,289.47 L1227.11,289.38 L1227.21,289.28 L1227.31,289.19 L1227.41,289.09 L1227.51,289.00 L1227.61,288.90 L1227.70,288.81 L1227.80,288.71 L1227.90,288.61 L1228.00,288.52 L1228.10,288.42 L1228.20,288.32 L1228.30,288.22 L1228.40,288.12 L1228.50,288.02 L1228.60,287.92 L1228.70,287.82 L1228.80,287.72 L1228.90,287.61 L1229.00,287.51 L1229.10,287.41 L1229.20,287.31 L1229.30,287.20 L1229.40,287.10 L1229.50,286.99 L1229.60,286.89 L1229.70,286.78 L1229.80,286.67 L1229.90,286.57 L1230.00,286.46 L1230.10,286.35 L1230.20,286.24 L1230.30,286.13 L1230.39,286.02 L1230.49,285.91 L1230.59,285.80 L1230.69,285.69 L1230.79,285.58 L1230.89,285.46 L1230.99,285.35 L1231.09,285.23 L1231.19,285.12 L1231.29,285.00 L1231.39,284.89 L1231.49,284.77 L1231.59,284.66 L1231.69,284.54 L1231.79,284.42 L1231.89,284.30 L1231.99,284.18 L1232.09,284.06 L1232.19,283.94 L1232.29,283.82 L1232.39,283.69 L1232.49,283.57 L1232.59,283.45 L1232.69,283.32 L1232.79,283.20 L1232.89,283.07 L1232.98,282.95 L1233.08,282.82 L1233.18,282.69 L1233.28,282.56 L1233.38,282.43 L1233.48,282.30 L1233.58,282.17 L1233.68,282.04 L1233.78,281.91 L1233.88,281.78 L1233.98,281.64 L1234.08,281.51 L1234.18,281.37 L1234.28,281.24 L1234.38,281.10 L1234.48,280.96 L1234.58,280.82 L1234.68,280.68 L1234.78,280.54 L1234.88,280.40 L1234.98,280.26 L1235.08,280.12 L1235.18,279.98 L1235.28,279.83 L1235.38,279.69 L1235.48,279.54 L1235.57,279.39 L1235.67,279.24 L1235.77,279.10 L1235.87,278.95 L1235.97,278.80 L1236.07,278.64 L1236.17,278.49 L1236.27,278.34 L1236.37,278.18 L1236.47,278.03 L1236.57,277.87 L1236.67,277.71 L1236.77,277.55 L1236.87,277.40 L1236.97,277.23 L1237.07,277.07 L1237.17,276.91 L1237.27,276.75 L1237.37,276.58 L1237.47,276.42 L1237.57,276.25 L1237.67,276.08 L1237.77,275.91 L1237.87,275.74 L1237.97,275.57 L1238.07,275.40 L1238.16,275.22 L1238.26,275.05 L1238.36,274.87 L1238.46,274.69 L1238.56,274.52 L1238.66,274.34 L1238.76,274.15 L1238.86,273.97 L1238.96,273.79 L1239.06,273.60 L1239.16,273.42 L1239.26,273.23 L1239.36,273.04 L1239.46,272.85 L1239.56,272.66 L1239.66,272.46 L1239.76,272.27 L1239.86,272.07 L1239.96,271.87 L1240.06,271.67 L1240.16,271.47 L1240.26,271.27 L1240.36,271.07 L1240.46,270.86 L1240.56,270.66 L1240.66,270.45 L1240.76,270.24 L1240.85,270.02 L1240.95,269.81 L1241.05,269.60 L1241.15,269.38 L1241.25,269.16 L1241.35,268.94 L1241.45,268.72 L1241.55,268.49 L1241.65,268.27 L1241.75,268.04 L1241.85,267.81 L1241.95,267.58 L1242.05,267.34 L1242.15,267.11 L1242.25,266.87 L1242.35,266.63 L1242.45,266.39 L1242.55,266.14 L1242.65,265.90 L1242.75,265.65 L1242.85,265.40 L1242.95,265.15 L1243.05,264.89 L1243.15,264.63 L1243.25,264.37 L1243.35,264.11 L1243.44,263.85 L1243.54,263.58 L1243.64,263.31 L1243.74,263.04 L1243.84,262.76 L1243.94,262.48 L1244.04,262.20 L1244.14,261.92 L1244.24,261.63 L1244.34,261.34 L1244.44,261.05 L1244.54,260.76 L1244.64,260.46 L1244.74,260.16 L1244.84,259.85 L1244.94,259.55 L1245.04,259.24 L1245.14,258.92 L1245.24,258.60 L1245.34,258.28 L1245.44,257.96 L1245.54,257.63 L1245.64,257.30 L1245.74,256.96 L1245.84,256.62 L1245.94,256.28 L1246.03,255.93 L1246.13,255.58 L1246.23,255.23 L1246.33,254.87 L1246.43,254.50 L1246.53,254.13 L1246.63,253.76 L1246.73,253.38 L1246.83,253.00 L1246.93,252.61 L1247.03,252.22 L1247.13,251.82 L1247.23,251.41 L1247.33,251.01 L1247.43,250.59 L1247.53,250.17 L1247.63,249.74 L1247.73,249.31 L1247.83,248.87 L1247.93,248.43 L1248.03,247.98 L1248.13,247.52 L1248.23,247.05 L1248.33,246.58 L1248.43,246.10 L1248.53,245.62 L1248.63,245.12 L1248.72,244.62 L1248.82,244.11 L1248.92,243.59 L1249.02,243.06 L1249.12,242.52 L1249.22,241.98 L1249.32,241.42 L1249.42,240.86 L1249.52,240.28 L1249.62,239.69 L1249.72,239.09 L1249.82,238.48 L1249.92,237.86 L1250.02,237.23 L1250.12,236.58 L1250.22,235.92 L1250.32,235.25 L1250.42,234.56 L1250.52,233.86 L1250.62,233.14 L1250.72,232.40 L1250.82,231.65 L1250.92,230.88 L1251.02,230.09 L1251.12,229.28 L1251.22,228.45 L1251.31,227.59 L1251.41,226.72 L1251.51,225.82 L1251.61,224.90 L1251.71,223.94 L1251.81,222.97 L1251.91,221.96 L1252.01,220.91 L1252.11,219.84 L1252.21,218.73 L1252.31,217.58 L1252.41,216.38 L1252.51,215.15 L1252.61,213.86 L1252.71,212.53 L1252.81,211.14 L1252.91,209.69 L1253.01,208.17 L1253.11,206.58 L1253.21,204.91 L1253.31,203.16 L1253.41,201.31 L1253.51,199.35 L1253.61,197.27 L1253.71,195.05 L1253.81,192.68 L1253.90,190.13 L1254.00,187.38 L1254.10,184.38 L1254.20,181.10 L1254.30,177.46 L1254.40,173.40 L1254.50,168.78 L1254.60,163.45 L1254.70,157.14 L1254.80,149.41 L1254.90,139.44 L1255.00,125.38 L1255.10,101.31" fill="none" stroke="#000" stroke-width="6.6" stroke-linejoin="round" stroke-linecap="round"/>
<path clip-path="url(#cb)" d="M757.10,364.70 L758.10,364.67 L759.09,364.64 L760.09,364.60 L761.08,364.57 L762.08,364.52 L763.08,364.48 L764.07,364.43 L765.07,364.38 L766.07,364.32 L767.06,364.26 L768.06,364.19 L769.05,364.12 L770.05,364.04 L771.05,363.95 L772.04,363.86 L773.04,363.76 L774.04,363.65 L775.03,363.54 L776.03,363.41 L777.02,363.28 L778.02,363.13 L779.02,362.97 L780.01,362.81 L781.01,362.62 L782.00,362.43 L783.00,362.22 L784.00,362.00 L784.99,361.76 L785.99,361.51 L786.99,361.23 L787.98,360.94 L788.98,360.63 L789.97,360.30 L790.97,359.94 L791.97,359.56 L792.96,359.16 L793.96,358.73 L794.96,358.27 L795.95,357.79 L796.95,357.27 L797.94,356.72 L798.94,356.14 L799.94,355.53 L800.93,354.87 L801.93,354.18 L802.93,353.45 L803.92,352.68 L804.92,351.87 L805.91,351.01 L806.91,350.10 L807.91,349.14 L808.90,348.14 L809.90,347.08 L810.89,345.96 L811.89,344.79 L812.89,343.56 L813.88,342.27 L814.88,340.92 L815.88,339.50 L816.87,338.02 L817.87,336.47 L818.86,334.85 L819.86,333.15 L820.86,331.38 L821.85,329.54 L822.85,327.61 L823.85,325.61 L824.84,323.53 L825.84,321.36 L826.83,319.11 L827.83,316.77 L828.83,314.34 L829.82,311.83 L830.82,309.23 L831.82,306.53 L832.81,303.74 L833.81,300.87 L834.80,297.89 L835.80,294.83 L836.80,291.66 L837.79,288.41 L838.79,285.06 L839.78,281.61 L840.78,278.07 L841.78,274.44 L842.77,270.72 L843.77,266.90 L844.77,262.99 L845.76,259.00 L846.76,254.91 L847.75,250.74 L848.75,246.48 L849.75,242.15 L850.74,237.73 L851.74,233.24 L852.74,228.67 L853.73,224.04 L854.73,219.34 L855.72,214.57 L856.72,209.75 L857.72,204.87 L858.71,199.94 L859.71,194.97 L860.70,189.95 L861.70,184.90 L862.70,179.83 L863.69,174.72 L864.69,169.60 L865.69,164.47 L866.68,159.32 L867.68,154.18 L868.67,149.05 L869.67,143.93 L870.67,138.83 L871.66,133.75 L872.66,128.71 L873.66,123.71 L874.65,118.76 L875.65,113.87 L876.64,109.03 L877.64,104.27 L878.64,99.58 L879.63,94.98 L880.63,90.47 L881.62,86.06 L882.62,81.76 L883.62,77.57 L884.61,73.50 L885.61,69.55 L886.61,65.74 L887.60,62.07 L888.60,58.55 L889.59,55.18 L890.59,51.97 L891.59,48.92 L892.58,46.05 L893.58,43.34 L894.58,40.82 L895.57,38.48 L896.57,36.33 L897.56,34.37 L898.56,32.61 L899.56,31.05 L900.55,29.69 L901.55,28.54 L902.55,27.59 L903.54,26.85 L904.54,26.32 L905.53,26.01 L906.53,25.90 L907.53,26.01 L908.52,26.32 L909.52,26.85 L910.51,27.59 L911.51,28.54 L912.51,29.69 L913.50,31.05 L914.50,32.61 L915.50,34.37 L916.49,36.33 L917.49,38.48 L918.48,40.82 L919.48,43.34 L920.48,46.05 L921.47,48.92 L922.47,51.97 L923.47,55.18 L924.46,58.55 L925.46,62.07 L926.45,65.74 L927.45,69.55 L928.45,73.50 L929.44,77.57 L930.44,81.76 L931.44,86.06 L932.43,90.47 L933.43,94.98 L934.42,99.58 L935.42,104.27 L936.42,109.03 L937.41,113.87 L938.41,118.76 L939.40,123.71 L940.40,128.71 L941.40,133.75 L942.39,138.83 L943.39,143.93 L944.39,149.05 L945.38,154.18 L946.38,159.32 L947.37,164.47 L948.37,169.60 L949.37,174.72 L950.36,179.83 L951.36,184.90 L952.36,189.95 L953.35,194.97 L954.35,199.94 L955.34,204.87 L956.34,209.75 L957.34,214.57 L958.33,219.34 L959.33,224.04 L960.32,228.67 L961.32,233.24 L962.32,237.73 L963.31,242.15 L964.31,246.48 L965.31,250.74 L966.30,254.91 L967.30,259.00 L968.29,262.99 L969.29,266.90 L970.29,270.72 L971.28,274.44 L972.28,278.07 L973.28,281.61 L974.27,285.06 L975.27,288.41 L976.26,291.66 L977.26,294.83 L978.26,297.89 L979.25,300.87 L980.25,303.74 L981.25,306.53 L982.24,309.23 L983.24,311.83 L984.23,314.34 L985.23,316.77 L986.23,319.11 L987.22,321.36 L988.22,323.53 L989.21,325.61 L990.21,327.61 L991.21,329.54 L992.20,331.38 L993.20,333.15 L994.20,334.85 L995.19,336.47 L996.19,338.02 L997.18,339.50 L998.18,340.92 L999.18,342.27 L1000.17,343.56 L1001.17,344.79 L1002.17,345.96 L1003.16,347.08 L1004.16,348.14 L1005.15,349.14 L1006.15,350.10 L1007.15,351.01 L1008.14,351.87 L1009.14,352.68 L1010.13,353.45 L1011.13,354.18 L1012.13,354.87 L1013.12,355.53 L1014.12,356.14 L1015.12,356.72 L1016.11,357.27 L1017.11,357.79 L1018.10,358.27 L1019.10,358.73 L1020.10,359.16 L1021.09,359.56 L1022.09,359.94 L1023.09,360.30 L1024.08,360.63 L1025.08,360.94 L1026.07,361.23 L1027.07,361.51 L1028.07,361.76 L1029.06,362.00 L1030.06,362.22 L1031.06,362.43 L1032.05,362.62 L1033.05,362.81 L1034.04,362.97 L1035.04,363.13 L1036.04,363.28 L1037.03,363.41 L1038.03,363.54 L1039.02,363.65 L1040.02,363.76 L1041.02,363.86 L1042.01,363.95 L1043.01,364.04 L1044.01,364.12 L1045.00,364.19 L1046.00,364.26 L1046.99,364.32 L1047.99,364.38 L1048.99,364.43 L1049.98,364.48 L1050.98,364.52 L1051.98,364.57 L1052.97,364.60 L1053.97,364.64 L1054.96,364.67 L1055.96,364.70 L1056.96,364.73 L1057.95,364.75 L1058.95,364.77 L1059.94,364.80 L1060.94,364.81 L1061.94,364.83 L1062.93,364.85 L1063.93,364.86 L1064.93,364.87 L1065.92,364.89 L1066.92,364.90 L1067.91,364.91 L1068.91,364.92 L1069.91,364.92 L1070.90,364.93 L1071.90,364.94 L1072.90,364.94 L1073.89,364.95 L1074.89,364.95 L1075.88,364.96 L1076.88,364.96 L1077.88,364.97 L1078.87,364.97 L1079.87,364.97 L1080.87,364.98 L1081.86,364.98 L1082.86,364.98 L1083.85,364.98 L1084.85,364.98 L1085.85,364.99 L1086.84,364.99 L1087.84,364.99 L1088.83,364.99 L1089.83,364.99 L1090.83,364.99 L1091.82,364.99 L1092.82,364.99 L1093.82,364.99 L1094.81,365.00 L1095.81,365.00 L1096.80,365.00 L1097.80,365.00 L1098.80,365.00 L1099.79,365.00 L1100.79,365.00 L1101.79,365.00 L1102.78,365.00 L1103.78,365.00 L1104.77,365.00 L1105.77,365.00 L1106.77,365.00 L1107.76,365.00 L1108.76,365.00 L1109.75,365.00 L1110.75,365.00 L1111.75,365.00 L1112.74,365.00 L1113.74,365.00 L1114.74,365.00 L1115.73,365.00 L1116.73,365.00 L1117.72,365.00 L1118.72,365.00 L1119.72,365.00 L1120.71,365.00 L1121.71,365.00 L1122.71,365.00 L1123.70,365.00 L1124.70,365.00 L1125.69,365.00 L1126.69,365.00 L1127.69,365.00 L1128.68,365.00 L1129.68,365.00 L1130.67,365.00 L1131.67,365.00 L1132.67,365.00 L1133.66,365.00 L1134.66,365.00 L1135.66,365.00 L1136.65,365.00 L1137.65,365.00 L1138.64,365.00 L1139.64,365.00 L1140.64,365.00 L1141.63,365.00 L1142.63,365.00 L1143.63,365.00 L1144.62,365.00 L1145.62,365.00 L1146.61,365.00 L1147.61,365.00 L1148.61,365.00 L1149.60,365.00 L1150.60,365.00 L1151.60,365.00 L1152.59,365.00 L1153.59,365.00 L1154.58,365.00 L1155.58,365.00 L1156.58,365.00 L1157.57,365.00 L1158.57,365.00 L1159.56,365.00 L1160.56,365.00 L1161.56,365.00 L1162.55,365.00 L1163.55,365.00 L1164.55,365.00 L1165.54,365.00 L1166.54,365.00 L1167.53,365.00 L1168.53,365.00 L1169.53,365.00 L1170.52,365.00 L1171.52,365.00 L1172.52,365.00 L1173.51,365.00 L1174.51,365.00 L1175.50,365.00 L1176.50,365.00 L1177.50,365.00 L1178.49,365.00 L1179.49,365.00 L1180.49,365.00 L1181.48,365.00 L1182.48,365.00 L1183.47,365.00 L1184.47,365.00 L1185.47,365.00 L1186.46,365.00 L1187.46,365.00 L1188.45,365.00 L1189.45,365.00 L1190.45,365.00 L1191.44,365.00 L1192.44,365.00 L1193.44,365.00 L1194.43,365.00 L1195.43,365.00 L1196.42,365.00 L1197.42,365.00 L1198.42,365.00 L1199.41,365.00 L1200.41,365.00 L1201.41,365.00 L1202.40,365.00 L1203.40,365.00 L1204.39,365.00 L1205.39,365.00 L1206.39,365.00 L1207.38,365.00 L1208.38,365.00 L1209.37,365.00 L1210.37,365.00 L1211.37,365.00 L1212.36,365.00 L1213.36,365.00 L1214.36,365.00 L1215.35,365.00 L1216.35,365.00 L1217.34,365.00 L1218.34,365.00 L1219.34,365.00 L1220.33,365.00 L1221.33,365.00 L1222.33,365.00 L1223.32,365.00 L1224.32,365.00 L1225.31,365.00 L1226.31,365.00 L1227.31,365.00 L1228.30,365.00 L1229.30,365.00 L1230.30,365.00 L1231.29,365.00 L1232.29,365.00 L1233.28,365.00 L1234.28,365.00 L1235.28,365.00 L1236.27,365.00 L1237.27,365.00 L1238.26,365.00 L1239.26,365.00 L1240.26,365.00 L1241.25,365.00 L1242.25,365.00 L1243.25,365.00 L1244.24,365.00 L1245.24,365.00 L1246.23,365.00 L1247.23,365.00 L1248.23,365.00 L1249.22,365.00 L1250.22,365.00 L1251.22,365.00 L1252.21,365.00 L1253.21,365.00 L1254.20,365.00 L1255.20,365.00" fill="none" stroke="#2b83ba" stroke-width="3.5" stroke-linejoin="round" stroke-linecap="round"/>
<path clip-path="url(#cb)" d="M757.10,365.00 L758.10,365.00 L759.09,365.00 L760.09,365.00 L761.08,365.00 L762.08,365.00 L763.08,365.00 L764.07,365.00 L765.07,365.00 L766.07,365.00 L767.06,365.00 L768.06,365.00 L769.05,365.00 L770.05,365.00 L771.05,365.00 L772.04,365.00 L773.04,365.00 L774.04,365.00 L775.03,365.00 L776.03,365.00 L777.02,365.00 L778.02,365.00 L779.02,365.00 L780.01,365.00 L781.01,365.00 L782.00,365.00 L783.00,365.00 L784.00,365.00 L784.99,365.00 L785.99,365.00 L786.99,365.00 L787.98,365.00 L788.98,365.00 L789.97,365.00 L790.97,365.00 L791.97,365.00 L792.96,365.00 L793.96,365.00 L794.96,365.00 L795.95,365.00 L796.95,365.00 L797.94,365.00 L798.94,365.00 L799.94,365.00 L800.93,365.00 L801.93,365.00 L802.93,365.00 L803.92,365.00 L804.92,365.00 L805.91,365.00 L806.91,365.00 L807.91,365.00 L808.90,365.00 L809.90,365.00 L810.89,365.00 L811.89,365.00 L812.89,365.00 L813.88,365.00 L814.88,365.00 L815.88,365.00 L816.87,365.00 L817.87,365.00 L818.86,364.99 L819.86,364.99 L820.86,364.99 L821.85,364.99 L822.85,364.99 L823.85,364.99 L824.84,364.99 L825.84,364.99 L826.83,364.99 L827.83,364.98 L828.83,364.98 L829.82,364.98 L830.82,364.98 L831.82,364.98 L832.81,364.97 L833.81,364.97 L834.80,364.97 L835.80,364.96 L836.80,364.96 L837.79,364.95 L838.79,364.95 L839.78,364.94 L840.78,364.94 L841.78,364.93 L842.77,364.92 L843.77,364.92 L844.77,364.91 L845.76,364.90 L846.76,364.89 L847.75,364.87 L848.75,364.86 L849.75,364.85 L850.74,364.83 L851.74,364.81 L852.74,364.80 L853.73,364.77 L854.73,364.75 L855.72,364.73 L856.72,364.70 L857.72,364.67 L858.71,364.64 L859.71,364.60 L860.70,364.57 L861.70,364.52 L862.70,364.48 L863.69,364.43 L864.69,364.38 L865.69,364.32 L866.68,364.26 L867.68,364.19 L868.67,364.12 L869.67,364.04 L870.67,363.95 L871.66,363.86 L872.66,363.76 L873.66,363.65 L874.65,363.54 L875.65,363.41 L876.64,363.28 L877.64,363.13 L878.64,362.97 L879.63,362.81 L880.63,362.62 L881.62,362.43 L882.62,362.22 L883.62,362.00 L884.61,361.76 L885.61,361.51 L886.61,361.23 L887.60,360.94 L888.60,360.63 L889.59,360.30 L890.59,359.94 L891.59,359.56 L892.58,359.16 L893.58,358.73 L894.58,358.27 L895.57,357.79 L896.57,357.27 L897.56,356.72 L898.56,356.14 L899.56,355.53 L900.55,354.87 L901.55,354.18 L902.55,353.45 L903.54,352.68 L904.54,351.87 L905.53,351.01 L906.53,350.10 L907.53,349.14 L908.52,348.14 L909.52,347.08 L910.51,345.96 L911.51,344.79 L912.51,343.56 L913.50,342.27 L914.50,340.92 L915.50,339.50 L916.49,338.02 L917.49,336.47 L918.48,334.85 L919.48,333.15 L920.48,331.38 L921.47,329.54 L922.47,327.61 L923.47,325.61 L924.46,323.53 L925.46,321.36 L926.45,319.11 L927.45,316.77 L928.45,314.34 L929.44,311.83 L930.44,309.23 L931.44,306.53 L932.43,303.74 L933.43,300.87 L934.42,297.89 L935.42,294.83 L936.42,291.66 L937.41,288.41 L938.41,285.06 L939.40,281.61 L940.40,278.07 L941.40,274.44 L942.39,270.72 L943.39,266.90 L944.39,262.99 L945.38,259.00 L946.38,254.91 L947.37,250.74 L948.37,246.48 L949.37,242.15 L950.36,237.73 L951.36,233.24 L952.36,228.67 L953.35,224.04 L954.35,219.34 L955.34,214.57 L956.34,209.75 L957.34,204.87 L958.33,199.94 L959.33,194.97 L960.32,189.95 L961.32,184.90 L962.32,179.83 L963.31,174.72 L964.31,169.60 L965.31,164.47 L966.30,159.32 L967.30,154.18 L968.29,149.05 L969.29,143.93 L970.29,138.83 L971.28,133.75 L972.28,128.71 L973.28,123.71 L974.27,118.76 L975.27,113.87 L976.26,109.03 L977.26,104.27 L978.26,99.58 L979.25,94.98 L980.25,90.47 L981.25,86.06 L982.24,81.76 L983.24,77.57 L984.23,73.50 L985.23,69.55 L986.23,65.74 L987.22,62.07 L988.22,58.55 L989.21,55.18 L990.21,51.97 L991.21,48.92 L992.20,46.05 L993.20,43.34 L994.20,40.82 L995.19,38.48 L996.19,36.33 L997.18,34.37 L998.18,32.61 L999.18,31.05 L1000.17,29.69 L1001.17,28.54 L1002.17,27.59 L1003.16,26.85 L1004.16,26.32 L1005.15,26.01 L1006.15,25.90 L1007.15,26.01 L1008.14,26.32 L1009.14,26.85 L1010.13,27.59 L1011.13,28.54 L1012.13,29.69 L1013.12,31.05 L1014.12,32.61 L1015.12,34.37 L1016.11,36.33 L1017.11,38.48 L1018.10,40.82 L1019.10,43.34 L1020.10,46.05 L1021.09,48.92 L1022.09,51.97 L1023.09,55.18 L1024.08,58.55 L1025.08,62.07 L1026.07,65.74 L1027.07,69.55 L1028.07,73.50 L1029.06,77.57 L1030.06,81.76 L1031.06,86.06 L1032.05,90.47 L1033.05,94.98 L1034.04,99.58 L1035.04,104.27 L1036.04,109.03 L1037.03,113.87 L1038.03,118.76 L1039.02,123.71 L1040.02,128.71 L1041.02,133.75 L1042.01,138.83 L1043.01,143.93 L1044.01,149.05 L1045.00,154.18 L1046.00,159.32 L1046.99,164.47 L1047.99,169.60 L1048.99,174.72 L1049.98,179.83 L1050.98,184.90 L1051.98,189.95 L1052.97,194.97 L1053.97,199.94 L1054.96,204.87 L1055.96,209.75 L1056.96,214.57 L1057.95,219.34 L1058.95,224.04 L1059.94,228.67 L1060.94,233.24 L1061.94,237.73 L1062.93,242.15 L1063.93,246.48 L1064.93,250.74 L1065.92,254.91 L1066.92,259.00 L1067.91,262.99 L1068.91,266.90 L1069.91,270.72 L1070.90,274.44 L1071.90,278.07 L1072.90,281.61 L1073.89,285.06 L1074.89,288.41 L1075.88,291.66 L1076.88,294.83 L1077.88,297.89 L1078.87,300.87 L1079.87,303.74 L1080.87,306.53 L1081.86,309.23 L1082.86,311.83 L1083.85,314.34 L1084.85,316.77 L1085.85,319.11 L1086.84,321.36 L1087.84,323.53 L1088.83,325.61 L1089.83,327.61 L1090.83,329.54 L1091.82,331.38 L1092.82,333.15 L1093.82,334.85 L1094.81,336.47 L1095.81,338.02 L1096.80,339.50 L1097.80,340.92 L1098.80,342.27 L1099.79,343.56 L1100.79,344.79 L1101.79,345.96 L1102.78,347.08 L1103.78,348.14 L1104.77,349.14 L1105.77,350.10 L1106.77,351.01 L1107.76,351.87 L1108.76,352.68 L1109.75,353.45 L1110.75,354.18 L1111.75,354.87 L1112.74,355.53 L1113.74,356.14 L1114.74,356.72 L1115.73,357.27 L1116.73,357.79 L1117.72,358.27 L1118.72,358.73 L1119.72,359.16 L1120.71,359.56 L1121.71,359.94 L1122.71,360.30 L1123.70,360.63 L1124.70,360.94 L1125.69,361.23 L1126.69,361.51 L1127.69,361.76 L1128.68,362.00 L1129.68,362.22 L1130.67,362.43 L1131.67,362.62 L1132.67,362.81 L1133.66,362.97 L1134.66,363.13 L1135.66,363.28 L1136.65,363.41 L1137.65,363.54 L1138.64,363.65 L1139.64,363.76 L1140.64,363.86 L1141.63,363.95 L1142.63,364.04 L1143.63,364.12 L1144.62,364.19 L1145.62,364.26 L1146.61,364.32 L1147.61,364.38 L1148.61,364.43 L1149.60,364.48 L1150.60,364.52 L1151.60,364.57 L1152.59,364.60 L1153.59,364.64 L1154.58,364.67 L1155.58,364.70 L1156.58,364.73 L1157.57,364.75 L1158.57,364.77 L1159.56,364.80 L1160.56,364.81 L1161.56,364.83 L1162.55,364.85 L1163.55,364.86 L1164.55,364.87 L1165.54,364.89 L1166.54,364.90 L1167.53,364.91 L1168.53,364.92 L1169.53,364.92 L1170.52,364.93 L1171.52,364.94 L1172.52,364.94 L1173.51,364.95 L1174.51,364.95 L1175.50,364.96 L1176.50,364.96 L1177.50,364.97 L1178.49,364.97 L1179.49,364.97 L1180.49,364.98 L1181.48,364.98 L1182.48,364.98 L1183.47,364.98 L1184.47,364.98 L1185.47,364.99 L1186.46,364.99 L1187.46,364.99 L1188.45,364.99 L1189.45,364.99 L1190.45,364.99 L1191.44,364.99 L1192.44,364.99 L1193.44,364.99 L1194.43,365.00 L1195.43,365.00 L1196.42,365.00 L1197.42,365.00 L1198.42,365.00 L1199.41,365.00 L1200.41,365.00 L1201.41,365.00 L1202.40,365.00 L1203.40,365.00 L1204.39,365.00 L1205.39,365.00 L1206.39,365.00 L1207.38,365.00 L1208.38,365.00 L1209.37,365.00 L1210.37,365.00 L1211.37,365.00 L1212.36,365.00 L1213.36,365.00 L1214.36,365.00 L1215.35,365.00 L1216.35,365.00 L1217.34,365.00 L1218.34,365.00 L1219.34,365.00 L1220.33,365.00 L1221.33,365.00 L1222.33,365.00 L1223.32,365.00 L1224.32,365.00 L1225.31,365.00 L1226.31,365.00 L1227.31,365.00 L1228.30,365.00 L1229.30,365.00 L1230.30,365.00 L1231.29,365.00 L1232.29,365.00 L1233.28,365.00 L1234.28,365.00 L1235.28,365.00 L1236.27,365.00 L1237.27,365.00 L1238.26,365.00 L1239.26,365.00 L1240.26,365.00 L1241.25,365.00 L1242.25,365.00 L1243.25,365.00 L1244.24,365.00 L1245.24,365.00 L1246.23,365.00 L1247.23,365.00 L1248.23,365.00 L1249.22,365.00 L1250.22,365.00 L1251.22,365.00 L1252.21,365.00 L1253.21,365.00 L1254.20,365.00 L1255.20,365.00" fill="none" stroke="#abdda4" stroke-width="3.5" stroke-linejoin="round" stroke-linecap="round"/>
<path clip-path="url(#cb)" d="M757.10,365.00 L758.10,365.00 L759.09,365.00 L760.09,365.00 L761.08,365.00 L762.08,365.00 L763.08,365.00 L764.07,365.00 L765.07,365.00 L766.07,365.00 L767.06,365.00 L768.06,365.00 L769.05,365.00 L770.05,365.00 L771.05,365.00 L772.04,365.00 L773.04,365.00 L774.04,365.00 L775.03,365.00 L776.03,365.00 L777.02,365.00 L778.02,365.00 L779.02,365.00 L780.01,365.00 L781.01,365.00 L782.00,365.00 L783.00,365.00 L784.00,365.00 L784.99,365.00 L785.99,365.00 L786.99,365.00 L787.98,365.00 L788.98,365.00 L789.97,365.00 L790.97,365.00 L791.97,365.00 L792.96,365.00 L793.96,365.00 L794.96,365.00 L795.95,365.00 L796.95,365.00 L797.94,365.00 L798.94,365.00 L799.94,365.00 L800.93,365.00 L801.93,365.00 L802.93,365.00 L803.92,365.00 L804.92,365.00 L805.91,365.00 L806.91,365.00 L807.91,365.00 L808.90,365.00 L809.90,365.00 L810.89,365.00 L811.89,365.00 L812.89,365.00 L813.88,365.00 L814.88,365.00 L815.88,365.00 L816.87,365.00 L817.87,365.00 L818.86,365.00 L819.86,365.00 L820.86,365.00 L821.85,365.00 L822.85,365.00 L823.85,365.00 L824.84,365.00 L825.84,365.00 L826.83,365.00 L827.83,365.00 L828.83,365.00 L829.82,365.00 L830.82,365.00 L831.82,365.00 L832.81,365.00 L833.81,365.00 L834.80,365.00 L835.80,365.00 L836.80,365.00 L837.79,365.00 L838.79,365.00 L839.78,365.00 L840.78,365.00 L841.78,365.00 L842.77,365.00 L843.77,365.00 L844.77,365.00 L845.76,365.00 L846.76,365.00 L847.75,365.00 L848.75,365.00 L849.75,365.00 L850.74,365.00 L851.74,365.00 L852.74,365.00 L853.73,365.00 L854.73,365.00 L855.72,365.00 L856.72,365.00 L857.72,365.00 L858.71,365.00 L859.71,365.00 L860.70,365.00 L861.70,365.00 L862.70,365.00 L863.69,365.00 L864.69,365.00 L865.69,365.00 L866.68,365.00 L867.68,365.00 L868.67,365.00 L869.67,365.00 L870.67,365.00 L871.66,365.00 L872.66,365.00 L873.66,365.00 L874.65,365.00 L875.65,365.00 L876.64,365.00 L877.64,365.00 L878.64,365.00 L879.63,365.00 L880.63,365.00 L881.62,365.00 L882.62,365.00 L883.62,365.00 L884.61,365.00 L885.61,365.00 L886.61,365.00 L887.60,365.00 L888.60,365.00 L889.59,365.00 L890.59,365.00 L891.59,365.00 L892.58,365.00 L893.58,365.00 L894.58,365.00 L895.57,365.00 L896.57,365.00 L897.56,365.00 L898.56,365.00 L899.56,365.00 L900.55,365.00 L901.55,365.00 L902.55,365.00 L903.54,365.00 L904.54,365.00 L905.53,365.00 L906.53,365.00 L907.53,365.00 L908.52,365.00 L909.52,365.00 L910.51,365.00 L911.51,365.00 L912.51,365.00 L913.50,365.00 L914.50,365.00 L915.50,365.00 L916.49,365.00 L917.49,365.00 L918.48,364.99 L919.48,364.99 L920.48,364.99 L921.47,364.99 L922.47,364.99 L923.47,364.99 L924.46,364.99 L925.46,364.99 L926.45,364.99 L927.45,364.98 L928.45,364.98 L929.44,364.98 L930.44,364.98 L931.44,364.98 L932.43,364.97 L933.43,364.97 L934.42,364.97 L935.42,364.96 L936.42,364.96 L937.41,364.95 L938.41,364.95 L939.40,364.94 L940.40,364.94 L941.40,364.93 L942.39,364.92 L943.39,364.92 L944.39,364.91 L945.38,364.90 L946.38,364.89 L947.37,364.87 L948.37,364.86 L949.37,364.85 L950.36,364.83 L951.36,364.81 L952.36,364.80 L953.35,364.77 L954.35,364.75 L955.34,364.73 L956.34,364.70 L957.34,364.67 L958.33,364.64 L959.33,364.60 L960.32,364.57 L961.32,364.52 L962.32,364.48 L963.31,364.43 L964.31,364.38 L965.31,364.32 L966.30,364.26 L967.30,364.19 L968.29,364.12 L969.29,364.04 L970.29,363.95 L971.28,363.86 L972.28,363.76 L973.28,363.65 L974.27,363.54 L975.27,363.41 L976.26,363.28 L977.26,363.13 L978.26,362.97 L979.25,362.81 L980.25,362.62 L981.25,362.43 L982.24,362.22 L983.24,362.00 L984.23,361.76 L985.23,361.51 L986.23,361.23 L987.22,360.94 L988.22,360.63 L989.21,360.30 L990.21,359.94 L991.21,359.56 L992.20,359.16 L993.20,358.73 L994.20,358.27 L995.19,357.79 L996.19,357.27 L997.18,356.72 L998.18,356.14 L999.18,355.53 L1000.17,354.87 L1001.17,354.18 L1002.17,353.45 L1003.16,352.68 L1004.16,351.87 L1005.15,351.01 L1006.15,350.10 L1007.15,349.14 L1008.14,348.14 L1009.14,347.08 L1010.13,345.96 L1011.13,344.79 L1012.13,343.56 L1013.12,342.27 L1014.12,340.92 L1015.12,339.50 L1016.11,338.02 L1017.11,336.47 L1018.10,334.85 L1019.10,333.15 L1020.10,331.38 L1021.09,329.54 L1022.09,327.61 L1023.09,325.61 L1024.08,323.53 L1025.08,321.36 L1026.07,319.11 L1027.07,316.77 L1028.07,314.34 L1029.06,311.83 L1030.06,309.23 L1031.06,306.53 L1032.05,303.74 L1033.05,300.87 L1034.04,297.89 L1035.04,294.83 L1036.04,291.66 L1037.03,288.41 L1038.03,285.06 L1039.02,281.61 L1040.02,278.07 L1041.02,274.44 L1042.01,270.72 L1043.01,266.90 L1044.01,262.99 L1045.00,259.00 L1046.00,254.91 L1046.99,250.74 L1047.99,246.48 L1048.99,242.15 L1049.98,237.73 L1050.98,233.24 L1051.98,228.67 L1052.97,224.04 L1053.97,219.34 L1054.96,214.57 L1055.96,209.75 L1056.96,204.87 L1057.95,199.94 L1058.95,194.97 L1059.94,189.95 L1060.94,184.90 L1061.94,179.83 L1062.93,174.72 L1063.93,169.60 L1064.93,164.47 L1065.92,159.32 L1066.92,154.18 L1067.91,149.05 L1068.91,143.93 L1069.91,138.83 L1070.90,133.75 L1071.90,128.71 L1072.90,123.71 L1073.89,118.76 L1074.89,113.87 L1075.88,109.03 L1076.88,104.27 L1077.88,99.58 L1078.87,94.98 L1079.87,90.47 L1080.87,86.06 L1081.86,81.76 L1082.86,77.57 L1083.85,73.50 L1084.85,69.55 L1085.85,65.74 L1086.84,62.07 L1087.84,58.55 L1088.83,55.18 L1089.83,51.97 L1090.83,48.92 L1091.82,46.05 L1092.82,43.34 L1093.82,40.82 L1094.81,38.48 L1095.81,36.33 L1096.80,34.37 L1097.80,32.61 L1098.80,31.05 L1099.79,29.69 L1100.79,28.54 L1101.79,27.59 L1102.78,26.85 L1103.78,26.32 L1104.77,26.01 L1105.77,25.90 L1106.77,26.01 L1107.76,26.32 L1108.76,26.85 L1109.75,27.59 L1110.75,28.54 L1111.75,29.69 L1112.74,31.05 L1113.74,32.61 L1114.74,34.37 L1115.73,36.33 L1116.73,38.48 L1117.72,40.82 L1118.72,43.34 L1119.72,46.05 L1120.71,48.92 L1121.71,51.97 L1122.71,55.18 L1123.70,58.55 L1124.70,62.07 L1125.69,65.74 L1126.69,69.55 L1127.69,73.50 L1128.68,77.57 L1129.68,81.76 L1130.67,86.06 L1131.67,90.47 L1132.67,94.98 L1133.66,99.58 L1134.66,104.27 L1135.66,109.03 L1136.65,113.87 L1137.65,118.76 L1138.64,123.71 L1139.64,128.71 L1140.64,133.75 L1141.63,138.83 L1142.63,143.93 L1143.63,149.05 L1144.62,154.18 L1145.62,159.32 L1146.61,164.47 L1147.61,169.60 L1148.61,174.72 L1149.60,179.83 L1150.60,184.90 L1151.60,189.95 L1152.59,194.97 L1153.59,199.94 L1154.58,204.87 L1155.58,209.75 L1156.58,214.57 L1157.57,219.34 L1158.57,224.04 L1159.56,228.67 L1160.56,233.24 L1161.56,237.73 L1162.55,242.15 L1163.55,246.48 L1164.55,250.74 L1165.54,254.91 L1166.54,259.00 L1167.53,262.99 L1168.53,266.90 L1169.53,270.72 L1170.52,274.44 L1171.52,278.07 L1172.52,281.61 L1173.51,285.06 L1174.51,288.41 L1175.50,291.66 L1176.50,294.83 L1177.50,297.89 L1178.49,300.87 L1179.49,303.74 L1180.49,306.53 L1181.48,309.23 L1182.48,311.83 L1183.47,314.34 L1184.47,316.77 L1185.47,319.11 L1186.46,321.36 L1187.46,323.53 L1188.45,325.61 L1189.45,327.61 L1190.45,329.54 L1191.44,331.38 L1192.44,333.15 L1193.44,334.85 L1194.43,336.47 L1195.43,338.02 L1196.42,339.50 L1197.42,340.92 L1198.42,342.27 L1199.41,343.56 L1200.41,344.79 L1201.41,345.96 L1202.40,347.08 L1203.40,348.14 L1204.39,349.14 L1205.39,350.10 L1206.39,351.01 L1207.38,351.87 L1208.38,352.68 L1209.37,353.45 L1210.37,354.18 L1211.37,354.87 L1212.36,355.53 L1213.36,356.14 L1214.36,356.72 L1215.35,357.27 L1216.35,357.79 L1217.34,358.27 L1218.34,358.73 L1219.34,359.16 L1220.33,359.56 L1221.33,359.94 L1222.33,360.30 L1223.32,360.63 L1224.32,360.94 L1225.31,361.23 L1226.31,361.51 L1227.31,361.76 L1228.30,362.00 L1229.30,362.22 L1230.30,362.43 L1231.29,362.62 L1232.29,362.81 L1233.28,362.97 L1234.28,363.13 L1235.28,363.28 L1236.27,363.41 L1237.27,363.54 L1238.26,363.65 L1239.26,363.76 L1240.26,363.86 L1241.25,363.95 L1242.25,364.04 L1243.25,364.12 L1244.24,364.19 L1245.24,364.26 L1246.23,364.32 L1247.23,364.38 L1248.23,364.43 L1249.22,364.48 L1250.22,364.52 L1251.22,364.57 L1252.21,364.60 L1253.21,364.64 L1254.20,364.67 L1255.20,364.70" fill="none" stroke="#fdae61" stroke-width="3.5" stroke-linejoin="round" stroke-linecap="round"/>
<rect x="732.40" y="9.45" width="548.40" height="355.55" fill="none" stroke="#1f1f1f" stroke-width="2.0"/>
<line x1="757.10" y1="365.00" x2="757.10" y2="374.60" stroke="#1f1f1f" stroke-width="1.6"/>
<text x="757.10" y="393.80" font-family="'Liberation Serif', 'DejaVu Serif', serif" font-size="19.3" text-anchor="middle" fill="#000" >0</text>
<line x1="856.72" y1="365.00" x2="856.72" y2="374.60" stroke="#1f1f1f" stroke-width="1.6"/>
<text x="856.72" y="393.80" font-family="'Liberation Serif', 'DejaVu Serif', serif" font-size="19.3" text-anchor="middle" fill="#000" >10</text>
<line x1="956.34" y1="365.00" x2="956.34" y2="374.60" stroke="#1f1f1f" stroke-width="1.6"/>
<text x="956.34" y="393.80" font-family="'Liberation Serif', 'DejaVu Serif', serif" font-size="19.3" text-anchor="middle" fill="#000" >20</text>
<line x1="1055.96" y1="365.00" x2="1055.96" y2="374.60" stroke="#1f1f1f" stroke-width="1.6"/>
<text x="1055.96" y="393.80" font-family="'Liberation Serif', 'DejaVu Serif', serif" font-size="19.3" text-anchor="middle" fill="#000" >30</text>
<line x1="1155.58" y1="365.00" x2="1155.58" y2="374.60" stroke="#1f1f1f" stroke-width="1.6"/>
<text x="1155.58" y="393.80" font-family="'Liberation Serif', 'DejaVu Serif', serif" font-size="19.3" text-anchor="middle" fill="#000" >40</text>
<line x1="1255.20" y1="365.00" x2="1255.20" y2="374.60" stroke="#1f1f1f" stroke-width="1.6"/>
<text x="1255.20" y="393.80" font-family="'Liberation Serif', 'DejaVu Serif', serif" font-size="19.3" text-anchor="middle" fill="#000" >50</text>
<line x1="722.80" y1="329.60" x2="732.40" y2="329.60" stroke="#1f1f1f" stroke-width="1.6"/>
<text x="709.7" y="337.20" font-family="'Liberation Serif', 'DejaVu Serif', serif" font-size="19.3" text-anchor="end">10</text>
<text x="710.2" y="328.80" font-family="'Liberation Serif', 'DejaVu Serif', serif" font-size="13.5" text-anchor="start">1</text>
<line x1="722.80" y1="169.53" x2="732.40" y2="169.53" stroke="#1f1f1f" stroke-width="1.6"/>
<text x="709.7" y="177.12" font-family="'Liberation Serif', 'DejaVu Serif', serif" font-size="19.3" text-anchor="end">10</text>
<text x="710.2" y="168.72" font-family="'Liberation Serif', 'DejaVu Serif', serif" font-size="13.5" text-anchor="start">2</text>
<line x1="722.80" y1="9.45" x2="732.40" y2="9.45" stroke="#1f1f1f" stroke-width="1.6"/>
<text x="709.7" y="17.05" font-family="'Liberation Serif', 'DejaVu Serif', serif" font-size="19.3" text-anchor="end">10</text>
<text x="710.2" y="8.65" font-family="'Liberation Serif', 'DejaVu Serif', serif" font-size="13.5" text-anchor="start">3</text>
<line x1="726.60" y1="365.11" x2="732.40" y2="365.11" stroke="#1f1f1f" stroke-width="1.3"/>
<line x1="726.60" y1="354.40" x2="732.40" y2="354.40" stroke="#1f1f1f" stroke-width="1.3"/>
<line x1="726.60" y1="345.11" x2="732.40" y2="345.11" stroke="#1f1f1f" stroke-width="1.3"/>
<line x1="726.60" y1="336.92" x2="732.40" y2="336.92" stroke="#1f1f1f" stroke-width="1.3"/>
<line x1="726.60" y1="281.41" x2="732.40" y2="281.41" stroke="#1f1f1f" stroke-width="1.3"/>
<line x1="726.60" y1="253.22" x2="732.40" y2="253.22" stroke="#1f1f1f" stroke-width="1.3"/>
<line x1="726.60" y1="233.23" x2="732.40" y2="233.23" stroke="#1f1f1f" stroke-width="1.3"/>
<line x1="726.60" y1="217.71" x2="732.40" y2="217.71" stroke="#1f1f1f" stroke-width="1.3"/>
<line x1="726.60" y1="205.04" x2="732.40" y2="205.04" stroke="#1f1f1f" stroke-width="1.3"/>
<line x1="726.60" y1="194.32" x2="732.40" y2="194.32" stroke="#1f1f1f" stroke-width="1.3"/>
<line x1="726.60" y1="185.04" x2="732.40" y2="185.04" stroke="#1f1f1f" stroke-width="1.3"/>
<line x1="726.60" y1="176.85" x2="732.40" y2="176.85" stroke="#1f1f1f" stroke-width="1.3"/>
<line x1="726.60" y1="121.34" x2="732.40" y2="121.34" stroke="#1f1f1f" stroke-width="1.3"/>
<line x1="726.60" y1="93.15" x2="732.40" y2="93.15" stroke="#1f1f1f" stroke-width="1.3"/>
<line x1="726.60" y1="73.15" x2="732.40" y2="73.15" stroke="#1f1f1f" stroke-width="1.3"/>
<line x1="726.60" y1="57.64" x2="732.40" y2="57.64" stroke="#1f1f1f" stroke-width="1.3"/>
<line x1="726.60" y1="44.96" x2="732.40" y2="44.96" stroke="#1f1f1f" stroke-width="1.3"/>
<line x1="726.60" y1="34.25" x2="732.40" y2="34.25" stroke="#1f1f1f" stroke-width="1.3"/>
<line x1="726.60" y1="24.96" x2="732.40" y2="24.96" stroke="#1f1f1f" stroke-width="1.3"/>
<line x1="726.60" y1="16.77" x2="732.40" y2="16.77" stroke="#1f1f1f" stroke-width="1.3"/>
<line x1="1280.80" y1="365.00" x2="1290.40" y2="365.00" stroke="#1f1f1f" stroke-width="1.6"/>
<text x="1295.90" y="371.50" font-family="'Liberation Serif', 'DejaVu Serif', serif" font-size="19.3" text-anchor="start" fill="#000" >0.00</text>
<line x1="1280.80" y1="297.00" x2="1290.40" y2="297.00" stroke="#1f1f1f" stroke-width="1.6"/>
<text x="1295.90" y="303.50" font-family="'Liberation Serif', 'DejaVu Serif', serif" font-size="19.3" text-anchor="start" fill="#000" >0.02</text>
<line x1="1280.80" y1="229.00" x2="1290.40" y2="229.00" stroke="#1f1f1f" stroke-width="1.6"/>
<text x="1295.90" y="235.50" font-family="'Liberation Serif', 'DejaVu Serif', serif" font-size="19.3" text-anchor="start" fill="#000" >0.04</text>
<line x1="1280.80" y1="161.00" x2="1290.40" y2="161.00" stroke="#1f1f1f" stroke-width="1.6"/>
<text x="1295.90" y="167.50" font-family="'Liberation Serif', 'DejaVu Serif', serif" font-size="19.3" text-anchor="start" fill="#000" >0.06</text>
<line x1="1280.80" y1="93.00" x2="1290.40" y2="93.00" stroke="#1f1f1f" stroke-width="1.6"/>
<text x="1295.90" y="99.50" font-family="'Liberation Serif', 'DejaVu Serif', serif" font-size="19.3" text-anchor="start" fill="#000" >0.08</text>
<line x1="1280.80" y1="25.00" x2="1290.40" y2="25.00" stroke="#1f1f1f" stroke-width="1.6"/>
<text x="1295.90" y="31.50" font-family="'Liberation Serif', 'DejaVu Serif', serif" font-size="19.3" text-anchor="start" fill="#000" >0.10</text>
<text x="1006.60" y="418.00" font-family="'Liberation Sans', 'DejaVu Sans', sans-serif" font-size="19.5" text-anchor="middle" fill="#000" textLength="139.80" lengthAdjust="spacingAndGlyphs" >Temperature (°C)</text>
<text x="0" y="0" font-family="'Liberation Sans', 'DejaVu Sans', sans-serif" font-size="19.5" text-anchor="middle" textLength="247.3" lengthAdjust="spacingAndGlyphs" transform="translate(681.0,187.0) rotate(-90)">Mean development time (days)</text>
<text x="0" y="0" font-family="'Liberation Sans', 'DejaVu Sans', sans-serif" font-size="19.5" text-anchor="middle" textLength="147.3" lengthAdjust="spacingAndGlyphs" transform="translate(1348.2,186.6) rotate(-90)">Probability density</text>
<text x="757.60" y="133.90" font-family="'Liberation Sans', 'DejaVu Sans', sans-serif" font-size="19.5" text-anchor="start" fill="#000" textLength="46.30" lengthAdjust="spacingAndGlyphs" >Lower</text>
<text x="758.40" y="153.70" font-family="'Liberation Sans', 'DejaVu Sans', sans-serif" font-size="19.5" text-anchor="start" fill="#000" textLength="70.70" lengthAdjust="spacingAndGlyphs" >threshold</text>
<text x="1206.00" y="52.70" font-family="'Liberation Sans', 'DejaVu Sans', sans-serif" font-size="19.5" text-anchor="start" fill="#000" textLength="52.00" lengthAdjust="spacingAndGlyphs" >Higher</text>
<text x="1206.90" y="72.70" font-family="'Liberation Sans', 'DejaVu Sans', sans-serif" font-size="19.5" text-anchor="start" fill="#000" textLength="69.80" lengthAdjust="spacingAndGlyphs" >threshold</text>
<text x="1106.90" y="336.60" font-family="'Liberation Sans', 'DejaVu Sans', sans-serif" font-size="19.5" text-anchor="start" fill="#000" textLength="75.00" lengthAdjust="spacingAndGlyphs" >Optimum</text>
<text x="897.73" y="72.8" font-family="'Liberation Serif', 'DejaVu Serif', serif" font-size="19.5" font-style="italic">ρ<tspan font-size="13.6" dy="3.1" dx="0">L</tspan></text>
<text x="997.35" y="72.8" font-family="'Liberation Serif', 'DejaVu Serif', serif" font-size="19.5" font-style="italic">ρ<tspan font-size="13.6" dy="3.1" dx="0">M</tspan></text>
<text x="1096.97" y="72.8" font-family="'Liberation Serif', 'DejaVu Serif', serif" font-size="19.5" font-style="italic">ρ<tspan font-size="13.6" dy="3.1" dx="0">H</tspan></text>
<clipPath id="cc"><rect x="1443.80" y="9.20" width="551.50" height="357.60"/></clipPath>
<g clip-path="url(#cc)">
<path d="M1443.80,366.80 L1451.68,366.80 L1459.56,366.80 L1467.44,366.80 L1475.31,366.80 L1483.19,366.80 L1491.07,366.80 L1498.95,366.80 L1506.83,366.80 L1514.71,366.80 L1522.59,366.80 L1530.46,366.80 L1538.34,366.80 L1546.22,366.80 L1554.10,366.80 L1561.98,366.80 L1569.86,366.80 L1577.74,366.80 L1585.61,366.80 L1593.49,366.80 L1601.37,366.80 L1609.25,366.80 L1617.13,366.80 L1625.01,366.80 L1632.89,366.80 L1640.76,366.08 L1648.64,365.01 L1656.52,363.22 L1664.40,360.72 L1672.28,356.79 L1680.16,351.78 L1688.04,345.34 L1695.91,336.40 L1703.79,318.52 L1711.67,293.49 L1719.55,264.88 L1727.43,230.91 L1735.31,200.52 L1743.19,179.06 L1751.06,155.82 L1758.94,120.06 L1766.82,102.18 L1774.70,62.84 L1782.58,46.75 L1790.46,19.93 L1798.34,18.86 L1806.21,16.35 L1814.09,-1.53 L1821.97,-8.68 L1829.85,-12.26 L1837.73,-8.68 L1845.61,5.62 L1853.49,28.51 L1861.36,32.80 L1869.24,46.75 L1877.12,73.57 L1885.00,70.71 L1892.88,130.78 L1900.76,145.09 L1908.64,177.27 L1916.51,202.30 L1924.39,225.55 L1932.27,250.58 L1940.15,270.25 L1948.03,289.92 L1955.91,308.87 L1963.79,322.10 L1971.66,333.90 L1979.54,341.77 L1987.42,347.13 L1995.30,351.07 L1995.30,363.22 L1987.42,363.08 L1979.54,362.94 L1971.66,362.79 L1963.79,362.65 L1955.91,362.51 L1948.03,362.15 L1940.15,361.79 L1932.27,360.72 L1924.39,358.93 L1916.51,356.43 L1908.64,352.50 L1900.76,348.92 L1892.88,342.84 L1885.00,336.40 L1877.12,332.47 L1869.24,329.25 L1861.36,322.10 L1853.49,311.37 L1845.61,303.15 L1837.73,304.22 L1829.85,307.80 L1821.97,307.80 L1814.09,313.16 L1806.21,318.52 L1798.34,323.89 L1790.46,331.04 L1782.58,339.98 L1774.70,348.92 L1766.82,351.78 L1758.94,354.64 L1751.06,361.44 L1743.19,366.80 L1735.31,366.80 L1727.43,366.80 L1719.55,366.80 L1711.67,366.80 L1703.79,366.80 L1695.91,366.80 L1688.04,366.80 L1680.16,366.80 L1672.28,366.80 L1664.40,366.80 L1656.52,366.80 L1648.64,366.80 L1640.76,366.80 L1632.89,366.80 L1625.01,366.80 L1617.13,366.80 L1609.25,366.80 L1601.37,366.80 L1593.49,366.80 L1585.61,366.80 L1577.74,366.80 L1569.86,366.80 L1561.98,366.80 L1554.10,366.80 L1546.22,366.80 L1538.34,366.80 L1530.46,366.80 L1522.59,366.80 L1514.71,366.80 L1506.83,366.80 L1498.95,366.80 L1491.07,366.80 L1483.19,366.80 L1475.31,366.80 L1467.44,366.80 L1459.56,366.80 L1451.68,366.80 L1443.80,366.80 Z" fill="#2b83ba" fill-opacity="0.5" stroke="none"/>
<path d="M1443.80,366.80 L1451.68,366.66 L1459.56,366.51 L1467.44,366.37 L1475.31,366.23 L1483.19,366.08 L1491.07,363.94 L1498.95,361.44 L1506.83,357.86 L1514.71,348.92 L1522.59,332.83 L1530.46,304.22 L1538.34,272.04 L1546.22,238.06 L1554.10,205.88 L1561.98,177.27 L1569.86,136.15 L1577.74,95.02 L1585.61,57.48 L1593.49,22.79 L1601.37,11.70 L1609.25,-1.53 L1617.13,-1.53 L1625.01,14.56 L1632.89,37.81 L1640.76,59.26 L1648.64,86.08 L1656.52,121.84 L1664.40,154.03 L1672.28,186.21 L1680.16,216.61 L1688.04,241.64 L1695.91,266.67 L1703.79,289.92 L1711.67,306.01 L1719.55,317.45 L1727.43,327.46 L1735.31,334.62 L1743.19,340.34 L1751.06,345.34 L1758.94,348.92 L1766.82,351.96 L1774.70,355.00 L1782.58,357.32 L1790.46,359.65 L1798.34,361.08 L1806.21,362.51 L1814.09,363.22 L1821.97,363.94 L1829.85,364.65 L1837.73,365.37 L1845.61,365.66 L1853.49,365.94 L1861.36,366.23 L1869.24,366.51 L1877.12,366.80 L1885.00,366.80 L1892.88,366.80 L1900.76,366.80 L1908.64,366.80 L1916.51,366.80 L1924.39,366.80 L1932.27,366.80 L1940.15,366.80 L1948.03,366.80 L1955.91,366.80 L1963.79,366.80 L1971.66,366.80 L1979.54,366.80 L1987.42,366.80 L1995.30,366.80 L1995.30,366.80 L1987.42,366.80 L1979.54,366.80 L1971.66,366.80 L1963.79,366.80 L1955.91,366.80 L1948.03,366.80 L1940.15,366.80 L1932.27,366.80 L1924.39,366.80 L1916.51,366.80 L1908.64,366.80 L1900.76,366.80 L1892.88,366.80 L1885.00,366.80 L1877.12,366.80 L1869.24,366.80 L1861.36,366.80 L1853.49,366.68 L1845.61,366.56 L1837.73,366.44 L1829.85,366.32 L1821.97,366.20 L1814.09,366.08 L1806.21,365.73 L1798.34,365.37 L1790.46,365.01 L1782.58,364.48 L1774.70,363.94 L1766.82,363.05 L1758.94,362.15 L1751.06,360.72 L1743.19,358.93 L1735.31,356.43 L1727.43,353.21 L1719.55,349.64 L1711.67,345.34 L1703.79,340.34 L1695.91,333.90 L1688.04,324.60 L1680.16,311.37 L1672.28,297.07 L1664.40,282.76 L1656.52,270.25 L1648.64,248.79 L1640.76,234.49 L1632.89,223.76 L1625.01,211.24 L1617.13,205.88 L1609.25,205.16 L1601.37,209.46 L1593.49,223.76 L1585.61,255.94 L1577.74,286.70 L1569.86,313.16 L1561.98,331.04 L1554.10,345.34 L1546.22,354.28 L1538.34,360.72 L1530.46,363.94 L1522.59,365.37 L1514.71,366.08 L1506.83,366.80 L1498.95,366.80 L1491.07,366.80 L1483.19,366.80 L1475.31,366.80 L1467.44,366.80 L1459.56,366.80 L1451.68,366.80 L1443.80,366.80 Z" fill="#abdda4" fill-opacity="0.5" stroke="none"/>
<path d="M1443.80,366.80 L1451.68,366.44 L1459.56,365.37 L1467.44,362.51 L1475.31,355.36 L1483.19,344.63 L1491.07,314.23 L1498.95,268.46 L1506.83,220.18 L1514.71,173.70 L1522.59,129.00 L1530.46,87.87 L1538.34,64.63 L1546.22,57.12 L1554.10,49.97 L1561.98,52.47 L1569.86,69.99 L1577.74,95.02 L1585.61,120.06 L1593.49,150.45 L1601.37,179.06 L1609.25,207.67 L1617.13,232.70 L1625.01,255.94 L1632.89,277.40 L1640.76,295.28 L1648.64,313.16 L1656.52,327.46 L1664.40,337.48 L1672.28,344.63 L1680.16,349.99 L1688.04,353.93 L1695.91,357.14 L1703.79,359.29 L1711.67,361.44 L1719.55,362.69 L1727.43,363.94 L1735.31,364.48 L1743.19,365.01 L1751.06,365.55 L1758.94,366.08 L1766.82,366.26 L1774.70,366.44 L1782.58,366.62 L1790.46,366.80 L1798.34,366.80 L1806.21,366.80 L1814.09,366.80 L1821.97,366.80 L1829.85,366.80 L1837.73,366.80 L1845.61,366.80 L1853.49,366.80 L1861.36,366.80 L1869.24,366.80 L1877.12,366.80 L1885.00,366.80 L1892.88,366.80 L1900.76,366.80 L1908.64,366.80 L1916.51,366.80 L1924.39,366.80 L1932.27,366.80 L1940.15,366.80 L1948.03,366.80 L1955.91,366.80 L1963.79,366.80 L1971.66,366.80 L1979.54,366.80 L1987.42,366.80 L1995.30,366.80 L1995.30,366.80 L1987.42,366.80 L1979.54,366.80 L1971.66,366.80 L1963.79,366.80 L1955.91,366.80 L1948.03,366.80 L1940.15,366.80 L1932.27,366.80 L1924.39,366.80 L1916.51,366.80 L1908.64,366.80 L1900.76,366.80 L1892.88,366.80 L1885.00,366.80 L1877.12,366.80 L1869.24,366.80 L1861.36,366.80 L1853.49,366.80 L1845.61,366.80 L1837.73,366.80 L1829.85,366.80 L1821.97,366.80 L1814.09,366.80 L1806.21,366.80 L1798.34,366.80 L1790.46,366.80 L1782.58,366.80 L1774.70,366.80 L1766.82,366.80 L1758.94,366.80 L1751.06,366.44 L1743.19,366.08 L1735.31,365.73 L1727.43,365.37 L1719.55,364.65 L1711.67,363.94 L1703.79,362.33 L1695.91,360.72 L1688.04,358.22 L1680.16,355.36 L1672.28,351.07 L1664.40,345.34 L1656.52,338.91 L1648.64,329.25 L1640.76,318.52 L1632.89,304.22 L1625.01,288.13 L1617.13,268.46 L1609.25,248.79 L1601.37,223.76 L1593.49,198.73 L1585.61,170.12 L1577.74,152.24 L1569.86,145.09 L1561.98,142.58 L1554.10,145.09 L1546.22,154.74 L1538.34,177.27 L1530.46,205.88 L1522.59,238.06 L1514.71,275.61 L1506.83,309.58 L1498.95,333.90 L1491.07,350.71 L1483.19,359.65 L1475.31,363.94 L1467.44,366.80 L1459.56,366.80 L1451.68,366.80 L1443.80,366.80 Z" fill="#fdae61" fill-opacity="0.5" stroke="none"/>
<path d="M1443.80,366.80 L1451.68,366.80 L1459.56,366.80 L1467.44,366.80 L1475.31,366.80 L1483.19,366.80 L1491.07,366.80 L1498.95,366.80 L1506.83,366.80 L1514.71,366.80 L1522.59,366.80 L1530.46,366.80 L1538.34,366.80 L1546.22,366.80 L1554.10,366.80 L1561.98,366.80 L1569.86,366.80 L1577.74,366.80 L1585.61,366.80 L1593.49,366.80 L1601.37,366.80 L1609.25,366.80 L1617.13,366.80 L1625.01,366.80 L1632.89,366.80 L1640.76,366.80 L1648.64,366.80 L1656.52,366.80 L1664.40,366.80 L1672.28,366.80 L1680.16,366.80 L1688.04,366.44 L1695.91,366.08 L1703.79,365.19 L1711.67,364.30 L1719.55,362.87 L1727.43,361.08 L1735.31,359.29 L1743.19,355.00 L1751.06,348.92 L1758.94,336.40 L1766.82,318.52 L1774.70,293.49 L1782.58,266.67 L1790.46,230.91 L1798.34,198.73 L1806.21,166.54 L1814.09,130.78 L1821.97,102.18 L1829.85,86.44 L1837.73,80.72 L1845.61,82.51 L1853.49,93.24 L1861.36,121.84 L1869.24,157.60 L1877.12,189.79 L1885.00,211.24 L1892.88,239.85 L1900.76,266.67 L1908.64,288.13 L1916.51,306.72 L1924.39,323.17 L1932.27,335.33 L1940.15,343.91 L1948.03,349.99 L1955.91,354.28 L1963.79,357.50 L1971.66,359.65 L1979.54,361.44 L1987.42,362.51 L1995.30,363.22" fill="none" stroke="#2b83ba" stroke-width="6.0" stroke-linejoin="round"/>
<path d="M1443.80,366.80 L1451.68,366.80 L1459.56,366.80 L1467.44,366.80 L1475.31,366.80 L1483.19,366.80 L1491.07,366.80 L1498.95,366.80 L1506.83,366.80 L1514.71,366.80 L1522.59,366.80 L1530.46,366.80 L1538.34,366.80 L1546.22,366.80 L1554.10,366.80 L1561.98,366.80 L1569.86,366.80 L1577.74,366.80 L1585.61,366.80 L1593.49,366.80 L1601.37,366.80 L1609.25,366.80 L1617.13,366.80 L1625.01,366.80 L1632.89,366.80 L1640.76,366.80 L1648.64,366.80 L1656.52,366.80 L1664.40,366.80 L1672.28,366.80 L1680.16,366.80 L1688.04,365.73 L1695.91,363.94 L1703.79,361.44 L1711.67,356.07 L1719.55,351.78 L1727.43,343.56 L1735.31,332.83 L1743.19,323.89 L1751.06,313.16 L1758.94,297.07 L1766.82,279.19 L1774.70,264.17 L1782.58,229.12 L1790.46,218.40 L1798.34,202.30 L1806.21,187.28 L1814.09,182.64 L1821.97,179.78 L1829.85,178.70 L1837.73,182.28 L1845.61,189.43 L1853.49,195.15 L1861.36,205.88 L1869.24,230.91 L1877.12,239.85 L1885.00,255.94 L1892.88,273.82 L1900.76,286.34 L1908.64,297.07 L1916.51,311.37 L1924.39,325.68 L1932.27,336.40 L1940.15,344.63 L1948.03,350.35 L1955.91,354.64 L1963.79,357.86 L1971.66,360.01 L1979.54,361.44 L1987.42,362.51 L1995.30,363.22" fill="none" stroke="#2b83ba" stroke-width="2.8" stroke-linejoin="round"/>
<path d="M1443.80,366.80 L1451.68,366.68 L1459.56,366.56 L1467.44,366.44 L1475.31,366.32 L1483.19,366.20 L1491.07,366.08 L1498.95,365.01 L1506.83,363.22 L1514.71,361.08 L1522.59,357.86 L1530.46,348.92 L1538.34,332.83 L1546.22,307.80 L1554.10,277.40 L1561.98,247.00 L1569.86,207.67 L1577.74,166.54 L1585.61,127.21 L1593.49,95.02 L1601.37,78.93 L1609.25,76.43 L1617.13,82.51 L1625.01,105.75 L1632.89,137.94 L1640.76,159.39 L1648.64,186.21 L1656.52,214.82 L1664.40,243.43 L1672.28,269.53 L1680.16,292.42 L1688.04,311.37 L1695.91,325.68 L1703.79,334.62 L1711.67,341.77 L1719.55,347.49 L1727.43,352.14 L1735.31,355.71 L1743.19,358.93 L1751.06,361.08 L1758.94,362.87 L1766.82,363.76 L1774.70,364.65 L1782.58,365.19 L1790.46,365.73 L1798.34,366.08 L1806.21,366.44 L1814.09,366.53 L1821.97,366.62 L1829.85,366.71 L1837.73,366.80 L1845.61,366.80 L1853.49,366.80 L1861.36,366.80 L1869.24,366.80 L1877.12,366.80 L1885.00,366.80 L1892.88,366.80 L1900.76,366.80 L1908.64,366.80 L1916.51,366.80 L1924.39,366.80 L1932.27,366.80 L1940.15,366.80 L1948.03,366.80 L1955.91,366.80 L1963.79,366.80 L1971.66,366.80 L1979.54,366.80 L1987.42,366.80 L1995.30,366.80" fill="none" stroke="#abdda4" stroke-width="6.0" stroke-linejoin="round"/>
<path d="M1443.80,366.80 L1451.68,366.70 L1459.56,366.60 L1467.44,366.49 L1475.31,366.39 L1483.19,366.29 L1491.07,366.19 L1498.95,366.08 L1506.83,365.01 L1514.71,363.22 L1522.59,360.36 L1530.46,354.28 L1538.34,341.77 L1546.22,322.10 L1554.10,295.28 L1561.98,263.10 L1569.86,227.34 L1577.74,191.58 L1585.61,155.82 L1593.49,130.78 L1601.37,115.05 L1609.25,109.33 L1617.13,104.68 L1625.01,112.90 L1632.89,129.00 L1640.76,152.24 L1648.64,175.48 L1656.52,202.30 L1664.40,229.12 L1672.28,252.37 L1680.16,275.61 L1688.04,297.07 L1695.91,313.16 L1703.79,325.68 L1711.67,334.62 L1719.55,341.05 L1727.43,346.42 L1735.31,350.71 L1743.19,354.28 L1751.06,356.79 L1758.94,359.29 L1766.82,360.90 L1774.70,362.51 L1782.58,363.40 L1790.46,364.30 L1798.34,364.77 L1806.21,365.25 L1814.09,365.73 L1821.97,365.97 L1829.85,366.20 L1837.73,366.44 L1845.61,366.51 L1853.49,366.59 L1861.36,366.66 L1869.24,366.73 L1877.12,366.80 L1885.00,366.80 L1892.88,366.80 L1900.76,366.80 L1908.64,366.80 L1916.51,366.80 L1924.39,366.80 L1932.27,366.80 L1940.15,366.80 L1948.03,366.80 L1955.91,366.80 L1963.79,366.80 L1971.66,366.80 L1979.54,366.80 L1987.42,366.80 L1995.30,366.80" fill="none" stroke="#abdda4" stroke-width="2.8" stroke-linejoin="round"/>
<path d="M1443.80,366.80 L1451.68,366.44 L1459.56,366.08 L1467.44,363.22 L1475.31,357.14 L1483.19,347.85 L1491.07,317.81 L1498.95,272.75 L1506.83,223.76 L1514.71,177.27 L1522.59,132.57 L1530.46,93.24 L1538.34,69.99 L1546.22,62.84 L1554.10,69.99 L1561.98,91.45 L1569.86,116.48 L1577.74,143.30 L1585.61,175.48 L1593.49,207.67 L1601.37,238.06 L1609.25,261.31 L1617.13,280.98 L1625.01,298.86 L1632.89,314.95 L1640.76,327.46 L1648.64,338.19 L1656.52,345.34 L1664.40,350.71 L1672.28,355.00 L1680.16,358.22 L1688.04,360.72 L1695.91,362.51 L1703.79,363.58 L1711.67,364.65 L1719.55,365.19 L1727.43,365.73 L1735.31,366.00 L1743.19,366.26 L1751.06,366.53 L1758.94,366.80 L1766.82,366.80 L1774.70,366.80 L1782.58,366.80 L1790.46,366.80 L1798.34,366.80 L1806.21,366.80 L1814.09,366.80 L1821.97,366.80 L1829.85,366.80 L1837.73,366.80 L1845.61,366.80 L1853.49,366.80 L1861.36,366.80 L1869.24,366.80 L1877.12,366.80 L1885.00,366.80 L1892.88,366.80 L1900.76,366.80 L1908.64,366.80 L1916.51,366.80 L1924.39,366.80 L1932.27,366.80 L1940.15,366.80 L1948.03,366.80 L1955.91,366.80 L1963.79,366.80 L1971.66,366.80 L1979.54,366.80 L1987.42,366.80 L1995.30,366.80" fill="none" stroke="#fdae61" stroke-width="6.0" stroke-linejoin="round"/>
<path d="M1443.80,366.80 L1451.68,366.62 L1459.56,366.44 L1467.44,365.01 L1475.31,361.44 L1483.19,354.28 L1491.07,334.62 L1498.95,300.64 L1506.83,266.67 L1514.71,223.76 L1522.59,180.85 L1530.46,141.51 L1538.34,109.33 L1546.22,82.51 L1554.10,76.79 L1561.98,82.51 L1569.86,98.60 L1577.74,120.06 L1585.61,145.09 L1593.49,177.27 L1601.37,207.67 L1609.25,234.49 L1617.13,257.73 L1625.01,277.40 L1632.89,295.28 L1640.76,311.37 L1648.64,323.89 L1656.52,334.62 L1664.40,342.48 L1672.28,348.92 L1680.16,353.57 L1688.04,357.14 L1695.91,359.65 L1703.79,361.44 L1711.67,363.22 L1719.55,364.12 L1727.43,365.01 L1735.31,365.37 L1743.19,365.73 L1751.06,366.08 L1758.94,366.44 L1766.82,366.62 L1774.70,366.80 L1782.58,366.80 L1790.46,366.80 L1798.34,366.80 L1806.21,366.80 L1814.09,366.80 L1821.97,366.80 L1829.85,366.80 L1837.73,366.80 L1845.61,366.80 L1853.49,366.80 L1861.36,366.80 L1869.24,366.80 L1877.12,366.80 L1885.00,366.80 L1892.88,366.80 L1900.76,366.80 L1908.64,366.80 L1916.51,366.80 L1924.39,366.80 L1932.27,366.80 L1940.15,366.80 L1948.03,366.80 L1955.91,366.80 L1963.79,366.80 L1971.66,366.80 L1979.54,366.80 L1987.42,366.80 L1995.30,366.80" fill="none" stroke="#fdae61" stroke-width="2.8" stroke-linejoin="round"/>
</g>
<path d="M1443.80,9.20 L1995.30,9.20 L1995.30,366.80 L1443.80,366.80 Z" fill="none" stroke="#000" stroke-width="2.0"/>
<line x1="1443.80" y1="366.80" x2="1443.80" y2="376.40" stroke="#000" stroke-width="1.6"/>
<text x="1443.80" y="395.50" font-family="'Liberation Serif', 'DejaVu Serif', serif" font-size="19.3" text-anchor="middle" fill="#000" >0</text>
<line x1="1522.59" y1="366.80" x2="1522.59" y2="376.40" stroke="#000" stroke-width="1.6"/>
<text x="1522.59" y="395.50" font-family="'Liberation Serif', 'DejaVu Serif', serif" font-size="19.3" text-anchor="middle" fill="#000" >10</text>
<line x1="1601.37" y1="366.80" x2="1601.37" y2="376.40" stroke="#000" stroke-width="1.6"/>
<text x="1601.37" y="395.50" font-family="'Liberation Serif', 'DejaVu Serif', serif" font-size="19.3" text-anchor="middle" fill="#000" >20</text>
<line x1="1680.16" y1="366.80" x2="1680.16" y2="376.40" stroke="#000" stroke-width="1.6"/>
<text x="1680.16" y="395.50" font-family="'Liberation Serif', 'DejaVu Serif', serif" font-size="19.3" text-anchor="middle" fill="#000" >30</text>
<line x1="1758.94" y1="366.80" x2="1758.94" y2="376.40" stroke="#000" stroke-width="1.6"/>
<text x="1758.94" y="395.50" font-family="'Liberation Serif', 'DejaVu Serif', serif" font-size="19.3" text-anchor="middle" fill="#000" >40</text>
<line x1="1837.73" y1="366.80" x2="1837.73" y2="376.40" stroke="#000" stroke-width="1.6"/>
<text x="1837.73" y="395.50" font-family="'Liberation Serif', 'DejaVu Serif', serif" font-size="19.3" text-anchor="middle" fill="#000" >50</text>
<line x1="1916.51" y1="366.80" x2="1916.51" y2="376.40" stroke="#000" stroke-width="1.6"/>
<text x="1916.51" y="395.50" font-family="'Liberation Serif', 'DejaVu Serif', serif" font-size="19.3" text-anchor="middle" fill="#000" >60</text>
<line x1="1995.30" y1="366.80" x2="1995.30" y2="376.40" stroke="#000" stroke-width="1.6"/>
<text x="1995.30" y="395.50" font-family="'Liberation Serif', 'DejaVu Serif', serif" font-size="19.3" text-anchor="middle" fill="#000" >70</text>
<line x1="1434.20" y1="366.80" x2="1443.80" y2="366.80" stroke="#000" stroke-width="1.6"/>
<text x="1429.30" y="373.80" font-family="'Liberation Serif', 'DejaVu Serif', serif" font-size="19.3" text-anchor="end" fill="#000" >0</text>
<line x1="1434.20" y1="295.28" x2="1443.80" y2="295.28" stroke="#000" stroke-width="1.6"/>
<text x="1429.30" y="302.28" font-family="'Liberation Serif', 'DejaVu Serif', serif" font-size="19.3" text-anchor="end" fill="#000" >2</text>
<line x1="1434.20" y1="223.76" x2="1443.80" y2="223.76" stroke="#000" stroke-width="1.6"/>
<text x="1429.30" y="230.76" font-family="'Liberation Serif', 'DejaVu Serif', serif" font-size="19.3" text-anchor="end" fill="#000" >4</text>
<line x1="1434.20" y1="152.24" x2="1443.80" y2="152.24" stroke="#000" stroke-width="1.6"/>
<text x="1429.30" y="159.24" font-family="'Liberation Serif', 'DejaVu Serif', serif" font-size="19.3" text-anchor="end" fill="#000" >6</text>
<line x1="1434.20" y1="80.72" x2="1443.80" y2="80.72" stroke="#000" stroke-width="1.6"/>
<text x="1429.30" y="87.72" font-family="'Liberation Serif', 'DejaVu Serif', serif" font-size="19.3" text-anchor="end" fill="#000" >8</text>
<line x1="1434.20" y1="9.20" x2="1443.80" y2="9.20" stroke="#000" stroke-width="1.6"/>
<text x="1429.30" y="16.20" font-family="'Liberation Serif', 'DejaVu Serif', serif" font-size="19.3" text-anchor="end" fill="#000" >10</text>
<text x="1720.30" y="418.90" font-family="'Liberation Sans', 'DejaVu Sans', sans-serif" font-size="19.5" text-anchor="middle" fill="#000" textLength="131.10" lengthAdjust="spacingAndGlyphs" >Number of steps</text>
<text x="0" y="0" font-family="'Liberation Sans', 'DejaVu Sans', sans-serif" font-size="19.5" text-anchor="middle" textLength="194" lengthAdjust="spacingAndGlyphs" transform="translate(1400.2,187.8) rotate(-90)">Completed development</text>
<rect x="1897.4" y="18.2" width="88.7" height="81.1" rx="3.5" fill="#fff" fill-opacity="0.8" stroke="#cccccc" stroke-width="1.2"/>
<line x1="1904.5" y1="31.7" x2="1941.5" y2="31.7" stroke="#2b83ba" stroke-width="6" stroke-linecap="round"/>
<text x="1956.6" y="37.90" font-family="'Liberation Serif', 'DejaVu Serif', serif" font-size="18.8" font-style="italic">ρ<tspan font-size="14" dy="3.4" dx="0.4">L</tspan></text>
<line x1="1904.5" y1="57.2" x2="1941.5" y2="57.2" stroke="#abdda4" stroke-width="6" stroke-linecap="round"/>
<text x="1956.6" y="63.40" font-family="'Liberation Serif', 'DejaVu Serif', serif" font-size="18.8" font-style="italic">ρ<tspan font-size="14" dy="3.4" dx="0.4">M</tspan></text>
<line x1="1904.5" y1="82.4" x2="1941.5" y2="82.4" stroke="#fdae61" stroke-width="6" stroke-linecap="round"/>
<text x="1956.6" y="88.60" font-family="'Liberation Serif', 'DejaVu Serif', serif" font-size="18.8" font-style="italic">ρ<tspan font-size="14" dy="3.4" dx="0.4">H</tspan></text>
<text x="25.50" y="487.80" font-family="'Liberation Serif', 'DejaVu Serif', serif" font-size="35.45" text-anchor="start" fill="#000" >(a)</text>
<text x="78.10" y="487.80" font-family="'Liberation Serif', 'DejaVu Serif', serif" font-size="35.45" text-anchor="start" fill="#000" textLength="529.00" lengthAdjust="spacingAndGlyphs" >Temperature affects development rate</text>
<text x="713.10" y="487.80" font-family="'Liberation Serif', 'DejaVu Serif', serif" font-size="35.45" text-anchor="start" fill="#000" >(b)</text>
<text x="768.30" y="487.80" font-family="'Liberation Serif', 'DejaVu Serif', serif" font-size="35.45" text-anchor="start" fill="#000" textLength="537.80" lengthAdjust="spacingAndGlyphs" >Temperature affects development time</text>
<text x="1383.10" y="487.80" font-family="'Liberation Serif', 'DejaVu Serif', serif" font-size="35.45" text-anchor="start" fill="#000" >(c)</text>
<text x="1435.60" y="487.80" font-family="'Liberation Serif', 'DejaVu Serif', serif" font-size="35.45" text-anchor="start" fill="#000" textLength="579.00" lengthAdjust="spacingAndGlyphs" >Development under variable temperature</text>
</svg></body></html>
